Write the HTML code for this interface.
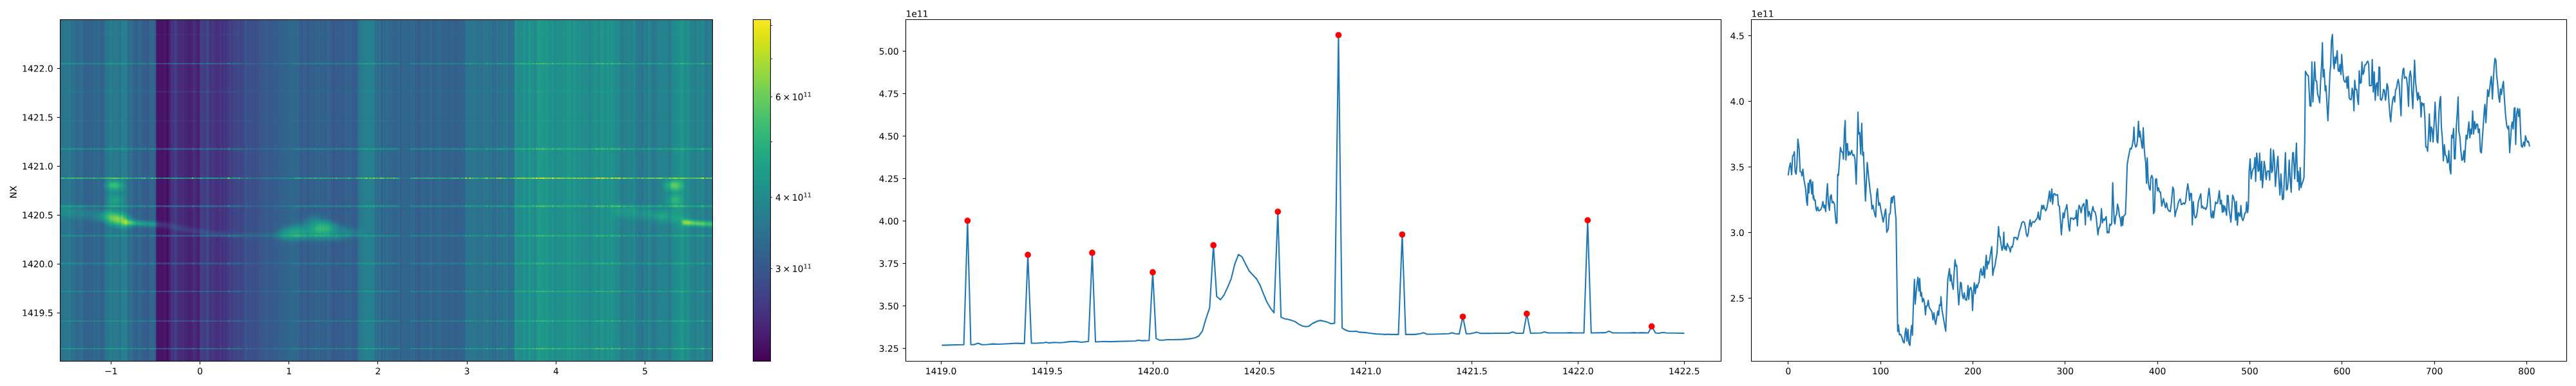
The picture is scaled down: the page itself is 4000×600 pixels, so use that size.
<!DOCTYPE html><html><head><meta charset="utf-8"><title>figure</title><style>html,body{margin:0;padding:0;width:4000px;height:600px;overflow:hidden;background:#fff;font-family:"Liberation Sans",sans-serif}svg{display:block}</style></head><body><svg width="4000" height="600" viewBox="0 0 2880 432" version="1.1"> <title>NX heatmap with colorbar, row profile with peaks, column profile</title><desc>Axis labels: NX; x ticks -1 0 1 2 3 4 5; y ticks 1419.5 1420.0 1420.5 1421.0 1421.5 1422.0; colorbar 3x10^11 4x10^11 6x10^11; 1e11; 1419.0 to 1422.5; 3.25 to 5.00; 0 to 800; 2.5 to 4.5</desc><defs><filter id="vir" x="91.5" y="28.5" width="1017.0" height="535.0" filterUnits="userSpaceOnUse" color-interpolation-filters="sRGB"><feColorMatrix type="matrix" values="1 1 1 0 0 1 1 1 0 0 1 1 1 0 0 0 0 0 1 0"/><feComponentTransfer><feFuncR type="table" tableValues="0.2670 0.2685 0.2699 0.2713 0.2726 0.2738 0.2750 0.2760 0.2770 0.2779 0.2788 0.2796 0.2803 0.2809 0.2814 0.2819 0.2823 0.2827 0.2829 0.2831 0.2832 0.2832 0.2832 0.2831 0.2829 0.2826 0.2823 0.2819 0.2814 0.2809 0.2803 0.2796 0.2788 0.2780 0.2771 0.2762 0.2752 0.2741 0.2730 0.2718 0.2706 0.2693 0.2680 0.2666 0.2651 0.2637 0.2621 0.2606 0.2590 0.2573 0.2556 0.2539 0.2522 0.2504 0.2486 0.2468 0.2450 0.2431 0.2412 0.2393 0.2374 0.2355 0.2336 0.2317 0.2297 0.2278 0.2259 0.2239 0.2220 0.2201 0.2181 0.2162 0.2143 0.2124 0.2105 0.2086 0.2068 0.2049 0.2031 0.2012 0.1994 0.1976 0.1959 0.1941 0.1924 0.1906 0.1889 0.1872 0.1856 0.1839 0.1823 0.1806 0.1790 0.1774 0.1758 0.1743 0.1727 0.1712 0.1696 0.1681 0.1666 0.1651 0.1636 0.1621 0.1607 0.1592 0.1577 0.1563 0.1548 0.1534 0.1519 0.1505 0.1490 0.1476 0.1462 0.1448 0.1433 0.1419 0.1405 0.1391 0.1378 0.1364 0.1351 0.1337 0.1324 0.1312 0.1299 0.1287 0.1276 0.1265 0.1254 0.1244 0.1235 0.1226 0.1218 0.1211 0.1206 0.1201 0.1197 0.1195 0.1194 0.1195 0.1197 0.1201 0.1206 0.1214 0.1223 0.1234 0.1248 0.1263 0.1281 0.1301 0.1323 0.1347 0.1373 0.1402 0.1433 0.1466 0.1501 0.1539 0.1579 0.1620 0.1664 0.1709 0.1757 0.1807 0.1858 0.1911 0.1966 0.2022 0.2080 0.2140 0.2201 0.2264 0.2328 0.2394 0.2461 0.2529 0.2599 0.2669 0.2741 0.2815 0.2889 0.2965 0.3041 0.3119 0.3198 0.3278 0.3359 0.3441 0.3524 0.3607 0.3692 0.3778 0.3864 0.3952 0.4040 0.4129 0.4219 0.4310 0.4401 0.4494 0.4587 0.4681 0.4775 0.4870 0.4966 0.5063 0.5160 0.5258 0.5356 0.5455 0.5555 0.5655 0.5756 0.5857 0.5958 0.6060 0.6163 0.6266 0.6369 0.6473 0.6576 0.6681 0.6785 0.6889 0.6994 0.7099 0.7204 0.7309 0.7414 0.7519 0.7624 0.7729 0.7833 0.7938 0.8042 0.8146 0.8249 0.8353 0.8456 0.8558 0.8660 0.8762 0.8863 0.8963 0.9063 0.9162 0.9261 0.9359 0.9456 0.9553 0.9649 0.9744 0.9839 0.9932"/><feFuncG type="table" tableValues="0.0049 0.0096 0.0146 0.0199 0.0256 0.0315 0.0378 0.0442 0.0503 0.0563 0.0621 0.0678 0.0734 0.0789 0.0843 0.0897 0.0950 0.1002 0.1054 0.1106 0.1157 0.1208 0.1258 0.1309 0.1359 0.1409 0.1459 0.1509 0.1558 0.1608 0.1657 0.1706 0.1755 0.1804 0.1852 0.1901 0.1949 0.1997 0.2045 0.2093 0.2141 0.2188 0.2235 0.2283 0.2330 0.2376 0.2423 0.2469 0.2515 0.2561 0.2607 0.2653 0.2698 0.2743 0.2788 0.2832 0.2877 0.2921 0.2965 0.3009 0.3052 0.3095 0.3138 0.3181 0.3224 0.3266 0.3308 0.3350 0.3392 0.3433 0.3474 0.3515 0.3556 0.3597 0.3637 0.3678 0.3718 0.3757 0.3797 0.3837 0.3876 0.3915 0.3954 0.3993 0.4032 0.4071 0.4109 0.4147 0.4186 0.4224 0.4262 0.4300 0.4338 0.4375 0.4413 0.4450 0.4488 0.4525 0.4563 0.4600 0.4637 0.4674 0.4711 0.4748 0.4785 0.4822 0.4859 0.4896 0.4933 0.4970 0.5007 0.5044 0.5081 0.5117 0.5154 0.5191 0.5228 0.5265 0.5301 0.5338 0.5375 0.5412 0.5449 0.5485 0.5522 0.5559 0.5596 0.5633 0.5669 0.5706 0.5743 0.5780 0.5817 0.5854 0.5891 0.5927 0.5964 0.6001 0.6038 0.6075 0.6111 0.6148 0.6185 0.6222 0.6258 0.6295 0.6332 0.6368 0.6405 0.6441 0.6477 0.6514 0.6550 0.6586 0.6623 0.6659 0.6695 0.6731 0.6766 0.6802 0.6838 0.6873 0.6909 0.6944 0.6979 0.7014 0.7049 0.7084 0.7118 0.7153 0.7187 0.7221 0.7255 0.7289 0.7322 0.7356 0.7389 0.7422 0.7455 0.7488 0.7520 0.7552 0.7584 0.7616 0.7647 0.7678 0.7709 0.7740 0.7770 0.7800 0.7830 0.7860 0.7889 0.7918 0.7946 0.7975 0.8003 0.8030 0.8058 0.8085 0.8111 0.8138 0.8164 0.8189 0.8214 0.8239 0.8264 0.8288 0.8312 0.8335 0.8358 0.8380 0.8403 0.8424 0.8446 0.8467 0.8487 0.8507 0.8527 0.8546 0.8565 0.8584 0.8602 0.8620 0.8637 0.8654 0.8671 0.8688 0.8703 0.8719 0.8734 0.8750 0.8764 0.8779 0.8793 0.8807 0.8820 0.8834 0.8847 0.8860 0.8873 0.8886 0.8899 0.8911 0.8924 0.8936 0.8949 0.8961 0.8973 0.8986 0.8998 0.9011 0.9023 0.9036 0.9049 0.9062"/><feFuncB type="table" tableValues="0.3294 0.3354 0.3414 0.3473 0.3531 0.3589 0.3645 0.3702 0.3757 0.3812 0.3866 0.3919 0.3972 0.4023 0.4074 0.4124 0.4173 0.4222 0.4269 0.4316 0.4361 0.4406 0.4450 0.4492 0.4534 0.4575 0.4615 0.4654 0.4692 0.4729 0.4765 0.4800 0.4834 0.4867 0.4899 0.4930 0.4960 0.4989 0.5017 0.5044 0.5071 0.5096 0.5120 0.5143 0.5166 0.5188 0.5208 0.5228 0.5247 0.5266 0.5283 0.5300 0.5316 0.5331 0.5346 0.5359 0.5373 0.5385 0.5397 0.5408 0.5419 0.5429 0.5439 0.5448 0.5457 0.5465 0.5473 0.5481 0.5488 0.5494 0.5500 0.5506 0.5512 0.5517 0.5522 0.5527 0.5531 0.5535 0.5539 0.5543 0.5546 0.5550 0.5553 0.5556 0.5558 0.5561 0.5563 0.5565 0.5568 0.5569 0.5571 0.5573 0.5574 0.5576 0.5577 0.5578 0.5579 0.5580 0.5580 0.5581 0.5581 0.5581 0.5581 0.5581 0.5581 0.5581 0.5580 0.5579 0.5578 0.5577 0.5576 0.5574 0.5573 0.5570 0.5568 0.5566 0.5563 0.5560 0.5557 0.5553 0.5549 0.5545 0.5540 0.5535 0.5530 0.5525 0.5519 0.5512 0.5506 0.5498 0.5491 0.5483 0.5474 0.5466 0.5456 0.5446 0.5436 0.5425 0.5414 0.5402 0.5390 0.5377 0.5363 0.5349 0.5335 0.5320 0.5304 0.5288 0.5271 0.5253 0.5235 0.5216 0.5197 0.5176 0.5156 0.5134 0.5112 0.5089 0.5066 0.5042 0.5017 0.4991 0.4965 0.4938 0.4910 0.4882 0.4853 0.4823 0.4792 0.4761 0.4729 0.4696 0.4662 0.4628 0.4593 0.4557 0.4520 0.4483 0.4445 0.4406 0.4366 0.4326 0.4284 0.4242 0.4199 0.4156 0.4112 0.4066 0.4020 0.3974 0.3926 0.3878 0.3829 0.3779 0.3729 0.3678 0.3626 0.3573 0.3519 0.3465 0.3410 0.3354 0.3297 0.3240 0.3182 0.3123 0.3064 0.3004 0.2943 0.2881 0.2819 0.2756 0.2693 0.2629 0.2564 0.2499 0.2433 0.2367 0.2301 0.2234 0.2166 0.2099 0.2031 0.1963 0.1895 0.1827 0.1760 0.1693 0.1626 0.1560 0.1496 0.1432 0.1371 0.1311 0.1254 0.1200 0.1150 0.1103 0.1062 0.1026 0.0997 0.0975 0.0960 0.0953 0.0954 0.0963 0.0981 0.1007 0.1041 0.1081 0.1128 0.1181 0.1239 0.1302 0.1369 0.1439"/></feComponentTransfer></filter><clipPath id="hc"><rect x="93.5" y="30.5" width="1013.0" height="531.0"/></clipPath><filter id="b2" color-interpolation-filters="sRGB" filterUnits="userSpaceOnUse" x="0" y="200" width="2100" height="260"><feGaussianBlur stdDeviation="2"/></filter><filter id="b3" color-interpolation-filters="sRGB" filterUnits="userSpaceOnUse" x="0" y="200" width="2100" height="260"><feGaussianBlur stdDeviation="3"/></filter><filter id="b4" color-interpolation-filters="sRGB" filterUnits="userSpaceOnUse" x="0" y="200" width="2100" height="260"><feGaussianBlur stdDeviation="4"/></filter><filter id="b5" color-interpolation-filters="sRGB" filterUnits="userSpaceOnUse" x="0" y="200" width="2100" height="260"><feGaussianBlur stdDeviation="5"/></filter><filter id="b7" color-interpolation-filters="sRGB" filterUnits="userSpaceOnUse" x="0" y="200" width="2100" height="260"><feGaussianBlur stdDeviation="7"/></filter><radialGradient id="g1"><stop offset="0.0" stop-color="#0f0" stop-opacity="0.46"/><stop offset="0.125" stop-color="#0f0" stop-opacity="0.4429"/><stop offset="0.25" stop-color="#0f0" stop-opacity="0.3954"/><stop offset="0.375" stop-color="#0f0" stop-opacity="0.3273"/><stop offset="0.5" stop-color="#0f0" stop-opacity="0.2512"/><stop offset="0.625" stop-color="#0f0" stop-opacity="0.1787"/><stop offset="0.75" stop-color="#0f0" stop-opacity="0.1179"/><stop offset="0.875" stop-color="#0f0" stop-opacity="0.0721"/><stop offset="1.0" stop-color="#0f0" stop-opacity="0.0"/></radialGradient><radialGradient id="g1b"><stop offset="0.0" stop-color="#0f0" stop-opacity="0.06"/><stop offset="0.125" stop-color="#0f0" stop-opacity="0.0578"/><stop offset="0.25" stop-color="#0f0" stop-opacity="0.0516"/><stop offset="0.375" stop-color="#0f0" stop-opacity="0.0427"/><stop offset="0.5" stop-color="#0f0" stop-opacity="0.0328"/><stop offset="0.625" stop-color="#0f0" stop-opacity="0.0233"/><stop offset="0.75" stop-color="#0f0" stop-opacity="0.0154"/><stop offset="0.875" stop-color="#0f0" stop-opacity="0.0094"/><stop offset="1.0" stop-color="#0f0" stop-opacity="0.0"/></radialGradient><radialGradient id="g5"><stop offset="0.0" stop-color="#0f0" stop-opacity="0.1"/><stop offset="0.125" stop-color="#0f0" stop-opacity="0.0963"/><stop offset="0.25" stop-color="#0f0" stop-opacity="0.086"/><stop offset="0.375" stop-color="#0f0" stop-opacity="0.0712"/><stop offset="0.5" stop-color="#0f0" stop-opacity="0.0546"/><stop offset="0.625" stop-color="#0f0" stop-opacity="0.0389"/><stop offset="0.75" stop-color="#0f0" stop-opacity="0.0256"/><stop offset="0.875" stop-color="#0f0" stop-opacity="0.0157"/><stop offset="1.0" stop-color="#0f0" stop-opacity="0.0"/></radialGradient><radialGradient id="g2"><stop offset="0.0" stop-color="#0f0" stop-opacity="0.24"/><stop offset="0.125" stop-color="#0f0" stop-opacity="0.2311"/><stop offset="0.25" stop-color="#0f0" stop-opacity="0.2063"/><stop offset="0.375" stop-color="#0f0" stop-opacity="0.1708"/><stop offset="0.5" stop-color="#0f0" stop-opacity="0.1311"/><stop offset="0.625" stop-color="#0f0" stop-opacity="0.0933"/><stop offset="0.75" stop-color="#0f0" stop-opacity="0.0615"/><stop offset="0.875" stop-color="#0f0" stop-opacity="0.0376"/><stop offset="1.0" stop-color="#0f0" stop-opacity="0.0"/></radialGradient><radialGradient id="g3"><stop offset="0.0" stop-color="#0f0" stop-opacity="0.25"/><stop offset="0.125" stop-color="#0f0" stop-opacity="0.2407"/><stop offset="0.25" stop-color="#0f0" stop-opacity="0.2149"/><stop offset="0.375" stop-color="#0f0" stop-opacity="0.1779"/><stop offset="0.5" stop-color="#0f0" stop-opacity="0.1365"/><stop offset="0.625" stop-color="#0f0" stop-opacity="0.0971"/><stop offset="0.75" stop-color="#0f0" stop-opacity="0.0641"/><stop offset="0.875" stop-color="#0f0" stop-opacity="0.0392"/><stop offset="1.0" stop-color="#0f0" stop-opacity="0.0"/></radialGradient><radialGradient id="g4"><stop offset="0.0" stop-color="#0f0" stop-opacity="0.13"/><stop offset="0.125" stop-color="#0f0" stop-opacity="0.1252"/><stop offset="0.25" stop-color="#0f0" stop-opacity="0.1118"/><stop offset="0.375" stop-color="#0f0" stop-opacity="0.0925"/><stop offset="0.5" stop-color="#0f0" stop-opacity="0.071"/><stop offset="0.625" stop-color="#0f0" stop-opacity="0.0505"/><stop offset="0.75" stop-color="#0f0" stop-opacity="0.0333"/><stop offset="0.875" stop-color="#0f0" stop-opacity="0.0204"/><stop offset="1.0" stop-color="#0f0" stop-opacity="0.0"/></radialGradient><g id="ln" shape-rendering="crispEdges"><rect x="93.50" y="0" width="1013.00" height="1" fill="#00004d"/><rect x="96.02" y="0" width="1010.48" height="1" fill="#000044"/><rect x="97.28" y="0" width="1009.22" height="1" fill="#00005a"/><rect x="98.54" y="0" width="1007.96" height="1" fill="#00004f"/><rect x="99.80" y="0" width="1006.70" height="1" fill="#00003e"/><rect x="101.06" y="0" width="1005.44" height="1" fill="#000039"/><rect x="102.32" y="0" width="1004.18" height="1" fill="#000039"/><rect x="104.84" y="0" width="1001.66" height="1" fill="#000069"/><rect x="106.10" y="0" width="1000.40" height="1" fill="#00002e"/><rect x="107.36" y="0" width="999.14" height="1" fill="#00004b"/><rect x="109.88" y="0" width="996.62" height="1" fill="#00004b"/><rect x="111.14" y="0" width="995.36" height="1" fill="#000056"/><rect x="113.66" y="0" width="992.84" height="1" fill="#000054"/><rect x="114.92" y="0" width="991.58" height="1" fill="#00004b"/><rect x="116.18" y="0" width="990.32" height="1" fill="#00004a"/><rect x="118.70" y="0" width="987.80" height="1" fill="#000054"/><rect x="119.96" y="0" width="986.54" height="1" fill="#000062"/><rect x="122.48" y="0" width="984.02" height="1" fill="#00004a"/><rect x="123.74" y="0" width="982.76" height="1" fill="#000052"/><rect x="125.00" y="0" width="981.50" height="1" fill="#00005b"/><rect x="127.52" y="0" width="978.98" height="1" fill="#000043"/><rect x="130.04" y="0" width="976.46" height="1" fill="#000042"/><rect x="131.30" y="0" width="975.20" height="1" fill="#000057"/><rect x="132.56" y="0" width="973.94" height="1" fill="#000051"/><rect x="135.08" y="0" width="971.42" height="1" fill="#000048"/><rect x="137.60" y="0" width="968.90" height="1" fill="#000045"/><rect x="140.12" y="0" width="966.38" height="1" fill="#00005c"/><rect x="141.38" y="0" width="965.12" height="1" fill="#00004e"/><rect x="142.64" y="0" width="963.86" height="1" fill="#00003b"/><rect x="145.16" y="0" width="961.34" height="1" fill="#000083"/><rect x="146.42" y="0" width="960.08" height="1" fill="#000045"/><rect x="147.68" y="0" width="958.82" height="1" fill="#000050"/><rect x="150.20" y="0" width="956.30" height="1" fill="#000034"/><rect x="151.46" y="0" width="955.04" height="1" fill="#00003e"/><rect x="153.98" y="0" width="952.52" height="1" fill="#00003f"/><rect x="156.50" y="0" width="950.00" height="1" fill="#00004f"/><rect x="159.02" y="0" width="947.48" height="1" fill="#000052"/><rect x="161.54" y="0" width="944.96" height="1" fill="#000048"/><rect x="164.06" y="0" width="942.44" height="1" fill="#00004c"/><rect x="166.58" y="0" width="939.92" height="1" fill="#00004c"/><rect x="169.10" y="0" width="937.40" height="1" fill="#000048"/><rect x="171.62" y="0" width="934.88" height="1" fill="#00004e"/><rect x="172.88" y="0" width="933.62" height="1" fill="#000034"/><rect x="174.14" y="0" width="932.36" height="1" fill="#000053"/><rect x="175.40" y="0" width="931.10" height="1" fill="#000059"/><rect x="177.92" y="0" width="928.58" height="1" fill="#000046"/><rect x="179.18" y="0" width="927.32" height="1" fill="#000057"/><rect x="181.70" y="0" width="924.80" height="1" fill="#00003f"/><rect x="184.22" y="0" width="922.28" height="1" fill="#000059"/><rect x="185.48" y="0" width="921.02" height="1" fill="#000049"/><rect x="188.00" y="0" width="918.50" height="1" fill="#000042"/><rect x="190.52" y="0" width="915.98" height="1" fill="#000045"/><rect x="193.04" y="0" width="913.46" height="1" fill="#00003f"/><rect x="194.30" y="0" width="912.20" height="1" fill="#00003c"/><rect x="196.82" y="0" width="909.68" height="1" fill="#00005b"/><rect x="199.34" y="0" width="907.16" height="1" fill="#000041"/><rect x="201.86" y="0" width="904.64" height="1" fill="#000049"/><rect x="203.12" y="0" width="903.38" height="1" fill="#00004f"/><rect x="204.38" y="0" width="902.12" height="1" fill="#00003c"/><rect x="206.90" y="0" width="899.60" height="1" fill="#000043"/><rect x="208.16" y="0" width="898.34" height="1" fill="#000044"/><rect x="210.68" y="0" width="895.82" height="1" fill="#000070"/><rect x="211.94" y="0" width="894.56" height="1" fill="#000052"/><rect x="213.20" y="0" width="893.30" height="1" fill="#000038"/><rect x="214.46" y="0" width="892.04" height="1" fill="#000047"/><rect x="216.98" y="0" width="889.52" height="1" fill="#000053"/><rect x="219.50" y="0" width="887.00" height="1" fill="#00005c"/><rect x="222.01" y="0" width="884.49" height="1" fill="#00004f"/><rect x="223.27" y="0" width="883.23" height="1" fill="#000072"/><rect x="225.79" y="0" width="880.71" height="1" fill="#00003d"/><rect x="227.05" y="0" width="879.45" height="1" fill="#000035"/><rect x="229.57" y="0" width="876.93" height="1" fill="#00004a"/><rect x="232.09" y="0" width="874.41" height="1" fill="#00003f"/><rect x="234.61" y="0" width="871.89" height="1" fill="#00007c"/><rect x="237.13" y="0" width="869.37" height="1" fill="#00004e"/><rect x="239.65" y="0" width="866.85" height="1" fill="#00003d"/><rect x="240.91" y="0" width="865.59" height="1" fill="#00007c"/><rect x="243.43" y="0" width="863.07" height="1" fill="#000049"/><rect x="244.69" y="0" width="861.81" height="1" fill="#00005f"/><rect x="245.95" y="0" width="860.55" height="1" fill="#00006b"/><rect x="248.47" y="0" width="858.03" height="1" fill="#00005a"/><rect x="249.73" y="0" width="856.77" height="1" fill="#00003c"/><rect x="250.99" y="0" width="855.51" height="1" fill="#00003c"/><rect x="252.25" y="0" width="854.25" height="1" fill="#000060"/><rect x="253.51" y="0" width="852.99" height="1" fill="#000071"/><rect x="254.77" y="0" width="851.73" height="1" fill="#00005e"/><rect x="256.03" y="0" width="850.47" height="1" fill="#000068"/><rect x="257.29" y="0" width="849.21" height="1" fill="#000067"/><rect x="258.55" y="0" width="847.95" height="1" fill="#00004b"/><rect x="259.81" y="0" width="846.69" height="1" fill="#0000a4"/><rect x="261.07" y="0" width="845.43" height="1" fill="#00006b"/><rect x="263.59" y="0" width="842.91" height="1" fill="#000063"/><rect x="264.85" y="0" width="841.65" height="1" fill="#00004e"/><rect x="267.37" y="0" width="839.13" height="1" fill="#000072"/><rect x="268.63" y="0" width="837.87" height="1" fill="#000078"/><rect x="269.89" y="0" width="836.61" height="1" fill="#000042"/><rect x="272.41" y="0" width="834.09" height="1" fill="#00006e"/><rect x="274.93" y="0" width="831.57" height="1" fill="#000063"/><rect x="276.19" y="0" width="830.31" height="1" fill="#000060"/><rect x="278.71" y="0" width="827.79" height="1" fill="#00005e"/><rect x="279.97" y="0" width="826.53" height="1" fill="#000079"/><rect x="281.23" y="0" width="825.27" height="1" fill="#00005a"/><rect x="282.49" y="0" width="824.01" height="1" fill="#00006d"/><rect x="283.75" y="0" width="822.75" height="1" fill="#00005c"/><rect x="285.01" y="0" width="821.49" height="1" fill="#00005b"/><rect x="287.53" y="0" width="818.97" height="1" fill="#000053"/><rect x="290.05" y="0" width="816.45" height="1" fill="#000078"/><rect x="291.31" y="0" width="815.19" height="1" fill="#000055"/><rect x="292.57" y="0" width="813.93" height="1" fill="#00004f"/><rect x="295.09" y="0" width="811.41" height="1" fill="#00009a"/><rect x="296.35" y="0" width="810.15" height="1" fill="#00004b"/><rect x="297.61" y="0" width="808.89" height="1" fill="#0000af"/><rect x="300.13" y="0" width="806.37" height="1" fill="#000068"/><rect x="302.65" y="0" width="803.85" height="1" fill="#000056"/><rect x="303.91" y="0" width="802.59" height="1" fill="#000060"/><rect x="305.17" y="0" width="801.33" height="1" fill="#000050"/><rect x="306.43" y="0" width="800.07" height="1" fill="#000064"/><rect x="307.69" y="0" width="798.81" height="1" fill="#000064"/><rect x="308.95" y="0" width="797.55" height="1" fill="#000062"/><rect x="311.47" y="0" width="795.03" height="1" fill="#00007d"/><rect x="313.99" y="0" width="792.51" height="1" fill="#000044"/><rect x="315.25" y="0" width="791.25" height="1" fill="#000049"/><rect x="317.77" y="0" width="788.73" height="1" fill="#00005d"/><rect x="319.03" y="0" width="787.47" height="1" fill="#000054"/><rect x="321.55" y="0" width="784.95" height="1" fill="#000063"/><rect x="322.81" y="0" width="783.69" height="1" fill="#00005e"/><rect x="324.07" y="0" width="782.43" height="1" fill="#000061"/><rect x="326.59" y="0" width="779.91" height="1" fill="#000070"/><rect x="329.11" y="0" width="777.39" height="1" fill="#000067"/><rect x="330.37" y="0" width="776.13" height="1" fill="#00005a"/><rect x="331.63" y="0" width="774.87" height="1" fill="#00006c"/><rect x="332.89" y="0" width="773.61" height="1" fill="#00006f"/><rect x="334.15" y="0" width="772.35" height="1" fill="#000062"/><rect x="335.41" y="0" width="771.09" height="1" fill="#000070"/><rect x="337.93" y="0" width="768.57" height="1" fill="#000050"/><rect x="340.45" y="0" width="766.05" height="1" fill="#000041"/><rect x="342.97" y="0" width="763.53" height="1" fill="#000075"/><rect x="345.49" y="0" width="761.01" height="1" fill="#00004d"/><rect x="348.01" y="0" width="758.49" height="1" fill="#000079"/><rect x="349.27" y="0" width="757.23" height="1" fill="#000044"/><rect x="350.53" y="0" width="755.97" height="1" fill="#00004b"/><rect x="353.05" y="0" width="753.45" height="1" fill="#000099"/><rect x="354.31" y="0" width="752.19" height="1" fill="#00009f"/><rect x="356.83" y="0" width="749.67" height="1" fill="#00004a"/><rect x="358.09" y="0" width="748.41" height="1" fill="#000047"/><rect x="359.35" y="0" width="747.15" height="1" fill="#00004f"/><rect x="361.87" y="0" width="744.63" height="1" fill="#000077"/><rect x="363.13" y="0" width="743.37" height="1" fill="#00005b"/><rect x="365.65" y="0" width="740.85" height="1" fill="#00005d"/><rect x="366.91" y="0" width="739.59" height="1" fill="#00004e"/><rect x="368.17" y="0" width="738.33" height="1" fill="#00006e"/><rect x="369.43" y="0" width="737.07" height="1" fill="#000044"/><rect x="370.69" y="0" width="735.81" height="1" fill="#000097"/><rect x="371.95" y="0" width="734.55" height="1" fill="#000047"/><rect x="374.47" y="0" width="732.03" height="1" fill="#00004d"/><rect x="376.99" y="0" width="729.51" height="1" fill="#000023"/><rect x="378.25" y="0" width="728.25" height="1" fill="#00002b"/><rect x="379.51" y="0" width="726.99" height="1" fill="#000020"/><rect x="380.77" y="0" width="725.73" height="1" fill="#000026"/><rect x="382.03" y="0" width="724.47" height="1" fill="#000029"/><rect x="383.29" y="0" width="723.21" height="1" fill="#000048"/><rect x="384.55" y="0" width="721.95" height="1" fill="#000021"/><rect x="385.81" y="0" width="720.69" height="1" fill="#00002e"/><rect x="387.07" y="0" width="719.43" height="1" fill="#000026"/><rect x="388.33" y="0" width="718.17" height="1" fill="#00002c"/><rect x="389.59" y="0" width="716.91" height="1" fill="#000021"/><rect x="390.85" y="0" width="715.65" height="1" fill="#000022"/><rect x="392.11" y="0" width="714.39" height="1" fill="#000026"/><rect x="393.37" y="0" width="713.13" height="1" fill="#000026"/><rect x="394.63" y="0" width="711.87" height="1" fill="#000028"/><rect x="397.15" y="0" width="709.35" height="1" fill="#000028"/><rect x="398.41" y="0" width="708.09" height="1" fill="#000027"/><rect x="400.93" y="0" width="705.57" height="1" fill="#000024"/><rect x="402.19" y="0" width="704.31" height="1" fill="#000021"/><rect x="404.71" y="0" width="701.79" height="1" fill="#00002a"/><rect x="405.97" y="0" width="700.53" height="1" fill="#000022"/><rect x="407.23" y="0" width="699.27" height="1" fill="#00002a"/><rect x="409.75" y="0" width="696.75" height="1" fill="#000029"/><rect x="411.01" y="0" width="695.49" height="1" fill="#000026"/><rect x="412.27" y="0" width="694.23" height="1" fill="#000029"/><rect x="414.79" y="0" width="691.71" height="1" fill="#000026"/><rect x="416.05" y="0" width="690.45" height="1" fill="#000024"/><rect x="417.31" y="0" width="689.19" height="1" fill="#00002a"/><rect x="418.57" y="0" width="687.93" height="1" fill="#000027"/><rect x="419.83" y="0" width="686.67" height="1" fill="#00001d"/><rect x="421.09" y="0" width="685.41" height="1" fill="#00002a"/><rect x="422.35" y="0" width="684.15" height="1" fill="#000026"/><rect x="424.87" y="0" width="681.63" height="1" fill="#00002a"/><rect x="426.13" y="0" width="680.37" height="1" fill="#000030"/><rect x="428.65" y="0" width="677.85" height="1" fill="#00001e"/><rect x="431.17" y="0" width="675.33" height="1" fill="#000019"/><rect x="432.43" y="0" width="674.07" height="1" fill="#00001f"/><rect x="434.95" y="0" width="671.55" height="1" fill="#000026"/><rect x="437.47" y="0" width="669.03" height="1" fill="#000033"/><rect x="439.99" y="0" width="666.51" height="1" fill="#000020"/><rect x="441.25" y="0" width="665.25" height="1" fill="#00002b"/><rect x="442.51" y="0" width="663.99" height="1" fill="#000023"/><rect x="443.77" y="0" width="662.73" height="1" fill="#00002c"/><rect x="445.03" y="0" width="661.47" height="1" fill="#000026"/><rect x="447.55" y="0" width="658.95" height="1" fill="#00001d"/><rect x="450.07" y="0" width="656.43" height="1" fill="#00002a"/><rect x="451.33" y="0" width="655.17" height="1" fill="#000024"/><rect x="452.59" y="0" width="653.91" height="1" fill="#000026"/><rect x="453.85" y="0" width="652.65" height="1" fill="#000024"/><rect x="455.11" y="0" width="651.39" height="1" fill="#00002e"/><rect x="457.63" y="0" width="648.87" height="1" fill="#000052"/><rect x="458.89" y="0" width="647.61" height="1" fill="#00004d"/><rect x="460.15" y="0" width="646.35" height="1" fill="#000043"/><rect x="462.67" y="0" width="643.83" height="1" fill="#000061"/><rect x="463.93" y="0" width="642.57" height="1" fill="#00004c"/><rect x="466.45" y="0" width="640.05" height="1" fill="#00005b"/><rect x="467.71" y="0" width="638.79" height="1" fill="#000047"/><rect x="468.97" y="0" width="637.53" height="1" fill="#000037"/><rect x="471.49" y="0" width="635.01" height="1" fill="#000041"/><rect x="472.75" y="0" width="633.75" height="1" fill="#00004f"/><rect x="474.00" y="0" width="632.50" height="1" fill="#000056"/><rect x="475.26" y="0" width="631.24" height="1" fill="#00003e"/><rect x="476.52" y="0" width="629.98" height="1" fill="#000041"/><rect x="477.78" y="0" width="628.72" height="1" fill="#00003e"/><rect x="479.04" y="0" width="627.46" height="1" fill="#000054"/><rect x="480.30" y="0" width="626.20" height="1" fill="#000058"/><rect x="481.56" y="0" width="624.94" height="1" fill="#00004a"/><rect x="484.08" y="0" width="622.42" height="1" fill="#000070"/><rect x="485.34" y="0" width="621.16" height="1" fill="#00003f"/><rect x="487.86" y="0" width="618.64" height="1" fill="#000074"/><rect x="490.38" y="0" width="616.12" height="1" fill="#000051"/><rect x="491.64" y="0" width="614.86" height="1" fill="#00003e"/><rect x="494.16" y="0" width="612.34" height="1" fill="#000057"/><rect x="495.42" y="0" width="611.08" height="1" fill="#000045"/><rect x="496.68" y="0" width="609.82" height="1" fill="#000036"/><rect x="497.94" y="0" width="608.56" height="1" fill="#000068"/><rect x="499.20" y="0" width="607.30" height="1" fill="#000052"/><rect x="500.46" y="0" width="606.04" height="1" fill="#000045"/><rect x="501.72" y="0" width="604.78" height="1" fill="#000051"/><rect x="502.98" y="0" width="603.52" height="1" fill="#00005e"/><rect x="504.24" y="0" width="602.26" height="1" fill="#000030"/><rect x="505.50" y="0" width="601.00" height="1" fill="#00004f"/><rect x="508.02" y="0" width="598.48" height="1" fill="#000034"/><rect x="509.28" y="0" width="597.22" height="1" fill="#000045"/><rect x="510.54" y="0" width="595.96" height="1" fill="#00002e"/><rect x="511.80" y="0" width="594.70" height="1" fill="#000057"/><rect x="513.06" y="0" width="593.44" height="1" fill="#000033"/><rect x="515.58" y="0" width="590.92" height="1" fill="#000083"/><rect x="516.84" y="0" width="589.66" height="1" fill="#000037"/><rect x="518.10" y="0" width="588.40" height="1" fill="#000045"/><rect x="519.36" y="0" width="587.14" height="1" fill="#000042"/><rect x="520.62" y="0" width="585.88" height="1" fill="#000060"/><rect x="521.88" y="0" width="584.62" height="1" fill="#000072"/><rect x="523.14" y="0" width="583.36" height="1" fill="#000048"/><rect x="525.66" y="0" width="580.84" height="1" fill="#000044"/><rect x="528.18" y="0" width="578.32" height="1" fill="#000045"/><rect x="530.70" y="0" width="575.80" height="1" fill="#000046"/><rect x="531.96" y="0" width="574.54" height="1" fill="#00003b"/><rect x="534.48" y="0" width="572.02" height="1" fill="#00004c"/><rect x="537.00" y="0" width="569.50" height="1" fill="#000041"/><rect x="539.52" y="0" width="566.98" height="1" fill="#000072"/><rect x="542.04" y="0" width="564.46" height="1" fill="#000051"/><rect x="544.56" y="0" width="561.94" height="1" fill="#000036"/><rect x="547.08" y="0" width="559.42" height="1" fill="#000041"/><rect x="548.34" y="0" width="558.16" height="1" fill="#000030"/><rect x="550.86" y="0" width="555.64" height="1" fill="#000041"/><rect x="553.38" y="0" width="553.12" height="1" fill="#00005d"/><rect x="555.90" y="0" width="550.60" height="1" fill="#000040"/><rect x="557.16" y="0" width="549.34" height="1" fill="#00004f"/><rect x="558.42" y="0" width="548.08" height="1" fill="#000049"/><rect x="559.68" y="0" width="546.82" height="1" fill="#000048"/><rect x="560.94" y="0" width="545.56" height="1" fill="#000051"/><rect x="562.20" y="0" width="544.30" height="1" fill="#00004e"/><rect x="563.46" y="0" width="543.04" height="1" fill="#000037"/><rect x="564.72" y="0" width="541.78" height="1" fill="#00004c"/><rect x="565.98" y="0" width="540.52" height="1" fill="#00004a"/><rect x="567.24" y="0" width="539.26" height="1" fill="#000046"/><rect x="568.50" y="0" width="538.00" height="1" fill="#000074"/><rect x="569.76" y="0" width="536.74" height="1" fill="#000049"/><rect x="571.02" y="0" width="535.48" height="1" fill="#00003d"/><rect x="573.54" y="0" width="532.96" height="1" fill="#000053"/><rect x="576.06" y="0" width="530.44" height="1" fill="#000049"/><rect x="577.32" y="0" width="529.18" height="1" fill="#000043"/><rect x="579.84" y="0" width="526.66" height="1" fill="#000078"/><rect x="582.36" y="0" width="524.14" height="1" fill="#000043"/><rect x="584.88" y="0" width="521.62" height="1" fill="#000079"/><rect x="586.14" y="0" width="520.36" height="1" fill="#00003b"/><rect x="587.40" y="0" width="519.10" height="1" fill="#00004c"/><rect x="588.66" y="0" width="517.84" height="1" fill="#000055"/><rect x="589.92" y="0" width="516.58" height="1" fill="#000068"/><rect x="591.18" y="0" width="515.32" height="1" fill="#000072"/><rect x="593.70" y="0" width="512.80" height="1" fill="#00006c"/><rect x="594.96" y="0" width="511.54" height="1" fill="#000059"/><rect x="597.48" y="0" width="509.02" height="1" fill="#00003c"/><rect x="600.00" y="0" width="506.50" height="1" fill="#000053"/><rect x="601.26" y="0" width="505.24" height="1" fill="#00005f"/><rect x="602.52" y="0" width="503.98" height="1" fill="#00004f"/><rect x="603.78" y="0" width="502.72" height="1" fill="#00004d"/><rect x="606.30" y="0" width="500.20" height="1" fill="#00006c"/><rect x="607.56" y="0" width="498.94" height="1" fill="#00003d"/><rect x="610.08" y="0" width="496.42" height="1" fill="#000082"/><rect x="611.34" y="0" width="495.16" height="1" fill="#000066"/><rect x="613.86" y="0" width="492.64" height="1" fill="#000052"/><rect x="615.12" y="0" width="491.38" height="1" fill="#00005c"/><rect x="616.38" y="0" width="490.12" height="1" fill="#000049"/><rect x="618.90" y="0" width="487.60" height="1" fill="#000041"/><rect x="621.42" y="0" width="485.08" height="1" fill="#00000c"/><rect x="623.94" y="0" width="482.56" height="1" fill="#00000c"/><rect x="626.46" y="0" width="480.04" height="1" fill="#00000c"/><rect x="627.72" y="0" width="478.78" height="1" fill="#00000c"/><rect x="630.24" y="0" width="476.26" height="1" fill="#00000c"/><rect x="632.76" y="0" width="473.74" height="1" fill="#00000c"/><rect x="634.02" y="0" width="472.48" height="1" fill="#00000c"/><rect x="635.28" y="0" width="471.22" height="1" fill="#00000c"/><rect x="636.54" y="0" width="469.96" height="1" fill="#00004e"/><rect x="639.06" y="0" width="467.44" height="1" fill="#000043"/><rect x="640.32" y="0" width="466.18" height="1" fill="#000042"/><rect x="641.58" y="0" width="464.92" height="1" fill="#00004c"/><rect x="642.84" y="0" width="463.66" height="1" fill="#000050"/><rect x="644.10" y="0" width="462.40" height="1" fill="#000053"/><rect x="645.36" y="0" width="461.14" height="1" fill="#00005e"/><rect x="647.88" y="0" width="458.62" height="1" fill="#000051"/><rect x="650.40" y="0" width="456.10" height="1" fill="#000048"/><rect x="651.66" y="0" width="454.84" height="1" fill="#000048"/><rect x="652.92" y="0" width="453.58" height="1" fill="#000051"/><rect x="654.18" y="0" width="452.32" height="1" fill="#000046"/><rect x="656.70" y="0" width="449.80" height="1" fill="#00003e"/><rect x="657.96" y="0" width="448.54" height="1" fill="#000049"/><rect x="660.48" y="0" width="446.02" height="1" fill="#000056"/><rect x="661.74" y="0" width="444.76" height="1" fill="#000049"/><rect x="663.00" y="0" width="443.50" height="1" fill="#000056"/><rect x="665.52" y="0" width="440.98" height="1" fill="#000047"/><rect x="666.78" y="0" width="439.72" height="1" fill="#000056"/><rect x="668.04" y="0" width="438.46" height="1" fill="#00003f"/><rect x="669.30" y="0" width="437.20" height="1" fill="#000044"/><rect x="670.56" y="0" width="435.94" height="1" fill="#00005f"/><rect x="673.08" y="0" width="433.42" height="1" fill="#000044"/><rect x="674.34" y="0" width="432.16" height="1" fill="#00004a"/><rect x="675.60" y="0" width="430.90" height="1" fill="#000046"/><rect x="676.86" y="0" width="429.64" height="1" fill="#000040"/><rect x="678.12" y="0" width="428.38" height="1" fill="#00004d"/><rect x="679.38" y="0" width="427.12" height="1" fill="#00003c"/><rect x="680.64" y="0" width="425.86" height="1" fill="#00005d"/><rect x="681.90" y="0" width="424.60" height="1" fill="#000038"/><rect x="684.42" y="0" width="422.08" height="1" fill="#000048"/><rect x="685.68" y="0" width="420.82" height="1" fill="#00004c"/><rect x="688.20" y="0" width="418.30" height="1" fill="#000050"/><rect x="689.46" y="0" width="417.04" height="1" fill="#000049"/><rect x="691.98" y="0" width="414.52" height="1" fill="#000046"/><rect x="694.50" y="0" width="412.00" height="1" fill="#00003f"/><rect x="697.02" y="0" width="409.48" height="1" fill="#00004b"/><rect x="699.54" y="0" width="406.96" height="1" fill="#00003c"/><rect x="700.80" y="0" width="405.70" height="1" fill="#000056"/><rect x="703.32" y="0" width="403.18" height="1" fill="#000054"/><rect x="704.58" y="0" width="401.92" height="1" fill="#00003b"/><rect x="705.84" y="0" width="400.66" height="1" fill="#000079"/><rect x="707.10" y="0" width="399.40" height="1" fill="#000060"/><rect x="708.36" y="0" width="398.14" height="1" fill="#000054"/><rect x="710.88" y="0" width="395.62" height="1" fill="#000073"/><rect x="712.14" y="0" width="394.36" height="1" fill="#00002e"/><rect x="714.66" y="0" width="391.84" height="1" fill="#000046"/><rect x="717.18" y="0" width="389.32" height="1" fill="#00006c"/><rect x="718.44" y="0" width="388.06" height="1" fill="#000040"/><rect x="720.96" y="0" width="385.54" height="1" fill="#00003e"/><rect x="722.22" y="0" width="384.28" height="1" fill="#00007a"/><rect x="724.74" y="0" width="381.76" height="1" fill="#000037"/><rect x="727.25" y="0" width="379.25" height="1" fill="#000053"/><rect x="728.51" y="0" width="377.99" height="1" fill="#00007e"/><rect x="731.03" y="0" width="375.47" height="1" fill="#000044"/><rect x="732.29" y="0" width="374.21" height="1" fill="#000049"/><rect x="733.55" y="0" width="372.95" height="1" fill="#000056"/><rect x="734.81" y="0" width="371.69" height="1" fill="#00004e"/><rect x="737.33" y="0" width="369.17" height="1" fill="#000045"/><rect x="739.85" y="0" width="366.65" height="1" fill="#00005a"/><rect x="741.11" y="0" width="365.39" height="1" fill="#000043"/><rect x="742.37" y="0" width="364.13" height="1" fill="#000040"/><rect x="743.63" y="0" width="362.87" height="1" fill="#00002e"/><rect x="746.15" y="0" width="360.35" height="1" fill="#000049"/><rect x="748.67" y="0" width="357.83" height="1" fill="#000039"/><rect x="749.93" y="0" width="356.57" height="1" fill="#00004d"/><rect x="752.45" y="0" width="354.05" height="1" fill="#000056"/><rect x="754.97" y="0" width="351.53" height="1" fill="#000080"/><rect x="757.49" y="0" width="349.01" height="1" fill="#00003c"/><rect x="758.75" y="0" width="347.75" height="1" fill="#000048"/><rect x="760.01" y="0" width="346.49" height="1" fill="#00003f"/><rect x="761.27" y="0" width="345.23" height="1" fill="#00004f"/><rect x="763.79" y="0" width="342.71" height="1" fill="#00003f"/><rect x="765.05" y="0" width="341.45" height="1" fill="#000050"/><rect x="767.57" y="0" width="338.93" height="1" fill="#000045"/><rect x="770.09" y="0" width="336.41" height="1" fill="#000042"/><rect x="771.35" y="0" width="335.15" height="1" fill="#00007e"/><rect x="772.61" y="0" width="333.89" height="1" fill="#00004c"/><rect x="773.87" y="0" width="332.63" height="1" fill="#000074"/><rect x="776.39" y="0" width="330.11" height="1" fill="#00007e"/><rect x="778.91" y="0" width="327.59" height="1" fill="#000051"/><rect x="781.43" y="0" width="325.07" height="1" fill="#000055"/><rect x="783.95" y="0" width="322.55" height="1" fill="#00005a"/><rect x="785.21" y="0" width="321.29" height="1" fill="#000053"/><rect x="786.47" y="0" width="320.03" height="1" fill="#000043"/><rect x="787.73" y="0" width="318.77" height="1" fill="#000042"/><rect x="790.25" y="0" width="316.25" height="1" fill="#000049"/><rect x="791.51" y="0" width="314.99" height="1" fill="#000048"/><rect x="792.77" y="0" width="313.73" height="1" fill="#00004e"/><rect x="794.03" y="0" width="312.47" height="1" fill="#000051"/><rect x="795.29" y="0" width="311.21" height="1" fill="#000049"/><rect x="796.55" y="0" width="309.95" height="1" fill="#00006f"/><rect x="799.07" y="0" width="307.43" height="1" fill="#000036"/><rect x="801.59" y="0" width="304.91" height="1" fill="#000045"/><rect x="802.85" y="0" width="303.65" height="1" fill="#00004d"/><rect x="804.11" y="0" width="302.39" height="1" fill="#000058"/><rect x="806.63" y="0" width="299.87" height="1" fill="#000051"/><rect x="807.89" y="0" width="298.61" height="1" fill="#00004d"/><rect x="809.15" y="0" width="297.35" height="1" fill="#000045"/><rect x="810.41" y="0" width="296.09" height="1" fill="#000051"/><rect x="812.93" y="0" width="293.57" height="1" fill="#000056"/><rect x="815.45" y="0" width="291.05" height="1" fill="#000041"/><rect x="816.71" y="0" width="289.79" height="1" fill="#00004c"/><rect x="817.97" y="0" width="288.53" height="1" fill="#00003b"/><rect x="819.23" y="0" width="287.27" height="1" fill="#00003a"/><rect x="820.49" y="0" width="286.01" height="1" fill="#000040"/><rect x="821.75" y="0" width="284.75" height="1" fill="#00003e"/><rect x="824.27" y="0" width="282.23" height="1" fill="#000041"/><rect x="826.79" y="0" width="279.71" height="1" fill="#00006c"/><rect x="829.31" y="0" width="277.19" height="1" fill="#000049"/><rect x="831.83" y="0" width="274.67" height="1" fill="#000080"/><rect x="834.35" y="0" width="272.15" height="1" fill="#000043"/><rect x="836.87" y="0" width="269.63" height="1" fill="#00005a"/><rect x="839.39" y="0" width="267.11" height="1" fill="#00005c"/><rect x="840.65" y="0" width="265.85" height="1" fill="#00003b"/><rect x="841.91" y="0" width="264.59" height="1" fill="#000079"/><rect x="844.43" y="0" width="262.07" height="1" fill="#000056"/><rect x="846.95" y="0" width="259.55" height="1" fill="#00004a"/><rect x="848.21" y="0" width="258.29" height="1" fill="#000049"/><rect x="850.73" y="0" width="255.77" height="1" fill="#00004c"/><rect x="851.99" y="0" width="254.51" height="1" fill="#000054"/><rect x="854.51" y="0" width="251.99" height="1" fill="#000036"/><rect x="857.03" y="0" width="249.47" height="1" fill="#000077"/><rect x="858.29" y="0" width="248.21" height="1" fill="#00007c"/><rect x="859.55" y="0" width="246.95" height="1" fill="#000038"/><rect x="862.07" y="0" width="244.43" height="1" fill="#00004a"/><rect x="864.59" y="0" width="241.91" height="1" fill="#000054"/><rect x="865.85" y="0" width="240.65" height="1" fill="#000059"/><rect x="867.11" y="0" width="239.39" height="1" fill="#00005a"/><rect x="869.63" y="0" width="236.87" height="1" fill="#00004d"/><rect x="872.15" y="0" width="234.35" height="1" fill="#00004e"/><rect x="873.41" y="0" width="233.09" height="1" fill="#00004a"/><rect x="875.93" y="0" width="230.57" height="1" fill="#00003a"/><rect x="878.45" y="0" width="228.05" height="1" fill="#000039"/><rect x="880.97" y="0" width="225.53" height="1" fill="#00004e"/><rect x="883.49" y="0" width="223.01" height="1" fill="#000041"/><rect x="886.01" y="0" width="220.49" height="1" fill="#000045"/><rect x="887.27" y="0" width="219.23" height="1" fill="#00003b"/><rect x="888.53" y="0" width="217.97" height="1" fill="#00004d"/><rect x="891.05" y="0" width="215.45" height="1" fill="#000050"/><rect x="892.31" y="0" width="214.19" height="1" fill="#000051"/><rect x="893.57" y="0" width="212.93" height="1" fill="#000045"/><rect x="894.83" y="0" width="211.67" height="1" fill="#00002f"/><rect x="897.35" y="0" width="209.15" height="1" fill="#00005d"/><rect x="898.61" y="0" width="207.89" height="1" fill="#00003b"/><rect x="901.13" y="0" width="205.37" height="1" fill="#000055"/><rect x="902.39" y="0" width="204.11" height="1" fill="#000051"/><rect x="903.65" y="0" width="202.85" height="1" fill="#00006c"/><rect x="904.91" y="0" width="201.59" height="1" fill="#00003e"/><rect x="907.43" y="0" width="199.07" height="1" fill="#00005c"/><rect x="909.95" y="0" width="196.55" height="1" fill="#000047"/><rect x="911.21" y="0" width="195.29" height="1" fill="#00004a"/><rect x="912.47" y="0" width="194.03" height="1" fill="#000048"/><rect x="913.73" y="0" width="192.77" height="1" fill="#000049"/><rect x="914.99" y="0" width="191.51" height="1" fill="#000045"/><rect x="916.25" y="0" width="190.25" height="1" fill="#000046"/><rect x="917.51" y="0" width="188.99" height="1" fill="#00005d"/><rect x="918.77" y="0" width="187.73" height="1" fill="#00003e"/><rect x="921.29" y="0" width="185.21" height="1" fill="#00005b"/><rect x="922.55" y="0" width="183.95" height="1" fill="#000040"/><rect x="923.81" y="0" width="182.69" height="1" fill="#000052"/><rect x="926.33" y="0" width="180.17" height="1" fill="#000085"/><rect x="927.59" y="0" width="178.91" height="1" fill="#000044"/><rect x="928.85" y="0" width="177.65" height="1" fill="#00007e"/><rect x="931.37" y="0" width="175.13" height="1" fill="#00004f"/><rect x="932.63" y="0" width="173.87" height="1" fill="#00003e"/><rect x="933.89" y="0" width="172.61" height="1" fill="#000077"/><rect x="936.41" y="0" width="170.09" height="1" fill="#00005c"/><rect x="937.67" y="0" width="168.83" height="1" fill="#00006a"/><rect x="938.93" y="0" width="167.57" height="1" fill="#00004b"/><rect x="941.45" y="0" width="165.05" height="1" fill="#000037"/><rect x="942.71" y="0" width="163.79" height="1" fill="#000071"/><rect x="943.97" y="0" width="162.53" height="1" fill="#000040"/><rect x="945.23" y="0" width="161.27" height="1" fill="#00003a"/><rect x="947.75" y="0" width="158.75" height="1" fill="#000050"/><rect x="949.01" y="0" width="157.49" height="1" fill="#000071"/><rect x="951.53" y="0" width="154.97" height="1" fill="#000051"/><rect x="954.05" y="0" width="152.45" height="1" fill="#00004d"/><rect x="955.31" y="0" width="151.19" height="1" fill="#00006a"/><rect x="957.83" y="0" width="148.67" height="1" fill="#000047"/><rect x="959.09" y="0" width="147.41" height="1" fill="#000073"/><rect x="961.61" y="0" width="144.89" height="1" fill="#000074"/><rect x="964.13" y="0" width="142.37" height="1" fill="#00003a"/><rect x="966.65" y="0" width="139.85" height="1" fill="#00005f"/><rect x="967.91" y="0" width="138.59" height="1" fill="#00006f"/><rect x="970.43" y="0" width="136.07" height="1" fill="#000058"/><rect x="971.69" y="0" width="134.81" height="1" fill="#000053"/><rect x="972.95" y="0" width="133.55" height="1" fill="#00004e"/><rect x="975.47" y="0" width="131.03" height="1" fill="#000041"/><rect x="977.99" y="0" width="128.51" height="1" fill="#00004f"/><rect x="979.25" y="0" width="127.25" height="1" fill="#000058"/><rect x="981.76" y="0" width="124.74" height="1" fill="#000048"/><rect x="983.02" y="0" width="123.48" height="1" fill="#000034"/><rect x="985.54" y="0" width="120.96" height="1" fill="#000032"/><rect x="988.06" y="0" width="118.44" height="1" fill="#000048"/><rect x="989.32" y="0" width="117.18" height="1" fill="#00004b"/><rect x="990.58" y="0" width="115.92" height="1" fill="#000044"/><rect x="991.84" y="0" width="114.66" height="1" fill="#00005d"/><rect x="993.10" y="0" width="113.40" height="1" fill="#000039"/><rect x="995.62" y="0" width="110.88" height="1" fill="#000082"/><rect x="996.88" y="0" width="109.62" height="1" fill="#00005d"/><rect x="998.14" y="0" width="108.36" height="1" fill="#00006f"/><rect x="999.40" y="0" width="107.10" height="1" fill="#00003e"/><rect x="1001.92" y="0" width="104.58" height="1" fill="#000055"/><rect x="1003.18" y="0" width="103.32" height="1" fill="#000048"/><rect x="1005.70" y="0" width="100.80" height="1" fill="#000075"/><rect x="1006.96" y="0" width="99.54" height="1" fill="#000051"/><rect x="1008.22" y="0" width="98.28" height="1" fill="#000049"/><rect x="1009.48" y="0" width="97.02" height="1" fill="#000053"/><rect x="1010.74" y="0" width="95.76" height="1" fill="#000059"/><rect x="1012.00" y="0" width="94.50" height="1" fill="#000064"/><rect x="1014.52" y="0" width="91.98" height="1" fill="#000052"/><rect x="1017.04" y="0" width="89.46" height="1" fill="#00004a"/><rect x="1019.56" y="0" width="86.94" height="1" fill="#00007c"/><rect x="1020.82" y="0" width="85.68" height="1" fill="#000045"/><rect x="1023.34" y="0" width="83.16" height="1" fill="#00006e"/><rect x="1025.86" y="0" width="80.64" height="1" fill="#00005a"/><rect x="1027.12" y="0" width="79.38" height="1" fill="#000057"/><rect x="1028.38" y="0" width="78.12" height="1" fill="#00004c"/><rect x="1029.64" y="0" width="76.86" height="1" fill="#00003f"/><rect x="1032.16" y="0" width="74.34" height="1" fill="#00003e"/><rect x="1033.42" y="0" width="73.08" height="1" fill="#00003e"/><rect x="1034.68" y="0" width="71.82" height="1" fill="#000040"/><rect x="1035.94" y="0" width="70.56" height="1" fill="#00004d"/><rect x="1037.20" y="0" width="69.30" height="1" fill="#00003e"/><rect x="1038.46" y="0" width="68.04" height="1" fill="#000054"/><rect x="1039.72" y="0" width="66.78" height="1" fill="#000084"/><rect x="1040.98" y="0" width="65.52" height="1" fill="#00003f"/><rect x="1043.50" y="0" width="63.00" height="1" fill="#000044"/><rect x="1044.76" y="0" width="61.74" height="1" fill="#000047"/><rect x="1047.28" y="0" width="59.22" height="1" fill="#000063"/><rect x="1048.54" y="0" width="57.96" height="1" fill="#00004d"/><rect x="1051.06" y="0" width="55.44" height="1" fill="#000048"/><rect x="1053.58" y="0" width="52.92" height="1" fill="#00002f"/><rect x="1054.84" y="0" width="51.66" height="1" fill="#000044"/><rect x="1056.10" y="0" width="50.40" height="1" fill="#00004e"/><rect x="1057.36" y="0" width="49.14" height="1" fill="#00004d"/><rect x="1059.88" y="0" width="46.62" height="1" fill="#000042"/><rect x="1061.14" y="0" width="45.36" height="1" fill="#000058"/><rect x="1062.40" y="0" width="44.10" height="1" fill="#000054"/><rect x="1063.66" y="0" width="42.84" height="1" fill="#000037"/><rect x="1064.92" y="0" width="41.58" height="1" fill="#000044"/><rect x="1066.18" y="0" width="40.32" height="1" fill="#00004a"/><rect x="1067.44" y="0" width="39.06" height="1" fill="#000038"/><rect x="1069.96" y="0" width="36.54" height="1" fill="#00003b"/><rect x="1071.22" y="0" width="35.28" height="1" fill="#000049"/><rect x="1072.48" y="0" width="34.02" height="1" fill="#00003d"/><rect x="1075.00" y="0" width="31.50" height="1" fill="#00004f"/><rect x="1076.26" y="0" width="30.24" height="1" fill="#000043"/><rect x="1078.78" y="0" width="27.72" height="1" fill="#000056"/><rect x="1081.30" y="0" width="25.20" height="1" fill="#00004b"/><rect x="1083.82" y="0" width="22.68" height="1" fill="#000048"/><rect x="1085.08" y="0" width="21.42" height="1" fill="#00004a"/><rect x="1086.34" y="0" width="20.16" height="1" fill="#000053"/><rect x="1088.86" y="0" width="17.64" height="1" fill="#000086"/><rect x="1090.12" y="0" width="16.38" height="1" fill="#000051"/><rect x="1091.38" y="0" width="15.12" height="1" fill="#000084"/><rect x="1092.64" y="0" width="13.86" height="1" fill="#000032"/><rect x="1095.16" y="0" width="11.34" height="1" fill="#000053"/><rect x="1097.68" y="0" width="8.82" height="1" fill="#000065"/><rect x="1100.20" y="0" width="6.30" height="1" fill="#000046"/><rect x="1102.72" y="0" width="3.78" height="1" fill="#00005e"/><rect x="1103.98" y="0" width="2.52" height="1" fill="#000058"/><rect x="1105.24" y="0" width="1.26" height="1" fill="#000057"/></g><radialGradient id="g1a"><stop offset="0.0" stop-color="#0f0" stop-opacity="0.4048"/><stop offset="0.125" stop-color="#0f0" stop-opacity="0.3898"/><stop offset="0.25" stop-color="#0f0" stop-opacity="0.348"/><stop offset="0.375" stop-color="#0f0" stop-opacity="0.288"/><stop offset="0.5" stop-color="#0f0" stop-opacity="0.2211"/><stop offset="0.625" stop-color="#0f0" stop-opacity="0.1573"/><stop offset="0.75" stop-color="#0f0" stop-opacity="0.1038"/><stop offset="0.875" stop-color="#0f0" stop-opacity="0.0635"/><stop offset="1.0" stop-color="#0f0" stop-opacity="0.0"/></radialGradient><linearGradient id="tga" gradientUnits="userSpaceOnUse" x1="195" y1="0" x2="475" y2="0"><stop offset="0" stop-color="#0f0" stop-opacity="0.317"/><stop offset="0.16" stop-color="#0f0" stop-opacity="0.238"/><stop offset="0.185" stop-color="#0f0" stop-opacity="0.1"/><stop offset="0.45" stop-color="#0f0" stop-opacity="0.075"/><stop offset="0.62" stop-color="#0f0" stop-opacity="0.06"/><stop offset="1" stop-color="#0f0" stop-opacity="0.04"/></linearGradient><radialGradient id="g1b"><stop offset="0.0" stop-color="#0f0" stop-opacity="0.483"/><stop offset="0.125" stop-color="#0f0" stop-opacity="0.4651"/><stop offset="0.25" stop-color="#0f0" stop-opacity="0.4152"/><stop offset="0.375" stop-color="#0f0" stop-opacity="0.3437"/><stop offset="0.5" stop-color="#0f0" stop-opacity="0.2638"/><stop offset="0.625" stop-color="#0f0" stop-opacity="0.1877"/><stop offset="0.75" stop-color="#0f0" stop-opacity="0.1238"/><stop offset="0.875" stop-color="#0f0" stop-opacity="0.0757"/><stop offset="1.0" stop-color="#0f0" stop-opacity="0.0"/></radialGradient><linearGradient id="tgb" gradientUnits="userSpaceOnUse" x1="1062.9" y1="0" x2="1342.9" y2="0"><stop offset="0" stop-color="#0f0" stop-opacity="0.378"/><stop offset="0.16" stop-color="#0f0" stop-opacity="0.284"/><stop offset="0.185" stop-color="#0f0" stop-opacity="0.1"/><stop offset="0.45" stop-color="#0f0" stop-opacity="0.075"/><stop offset="0.62" stop-color="#0f0" stop-opacity="0.06"/><stop offset="1" stop-color="#0f0" stop-opacity="0.04"/></linearGradient><filter id="vir2" x="1168.5" y="29.5" width="29.0" height="533.0" filterUnits="userSpaceOnUse" color-interpolation-filters="sRGB"><feComponentTransfer><feFuncR type="table" tableValues="0.2670 0.2685 0.2699 0.2713 0.2726 0.2738 0.2750 0.2760 0.2770 0.2779 0.2788 0.2796 0.2803 0.2809 0.2814 0.2819 0.2823 0.2827 0.2829 0.2831 0.2832 0.2832 0.2832 0.2831 0.2829 0.2826 0.2823 0.2819 0.2814 0.2809 0.2803 0.2796 0.2788 0.2780 0.2771 0.2762 0.2752 0.2741 0.2730 0.2718 0.2706 0.2693 0.2680 0.2666 0.2651 0.2637 0.2621 0.2606 0.2590 0.2573 0.2556 0.2539 0.2522 0.2504 0.2486 0.2468 0.2450 0.2431 0.2412 0.2393 0.2374 0.2355 0.2336 0.2317 0.2297 0.2278 0.2259 0.2239 0.2220 0.2201 0.2181 0.2162 0.2143 0.2124 0.2105 0.2086 0.2068 0.2049 0.2031 0.2012 0.1994 0.1976 0.1959 0.1941 0.1924 0.1906 0.1889 0.1872 0.1856 0.1839 0.1823 0.1806 0.1790 0.1774 0.1758 0.1743 0.1727 0.1712 0.1696 0.1681 0.1666 0.1651 0.1636 0.1621 0.1607 0.1592 0.1577 0.1563 0.1548 0.1534 0.1519 0.1505 0.1490 0.1476 0.1462 0.1448 0.1433 0.1419 0.1405 0.1391 0.1378 0.1364 0.1351 0.1337 0.1324 0.1312 0.1299 0.1287 0.1276 0.1265 0.1254 0.1244 0.1235 0.1226 0.1218 0.1211 0.1206 0.1201 0.1197 0.1195 0.1194 0.1195 0.1197 0.1201 0.1206 0.1214 0.1223 0.1234 0.1248 0.1263 0.1281 0.1301 0.1323 0.1347 0.1373 0.1402 0.1433 0.1466 0.1501 0.1539 0.1579 0.1620 0.1664 0.1709 0.1757 0.1807 0.1858 0.1911 0.1966 0.2022 0.2080 0.2140 0.2201 0.2264 0.2328 0.2394 0.2461 0.2529 0.2599 0.2669 0.2741 0.2815 0.2889 0.2965 0.3041 0.3119 0.3198 0.3278 0.3359 0.3441 0.3524 0.3607 0.3692 0.3778 0.3864 0.3952 0.4040 0.4129 0.4219 0.4310 0.4401 0.4494 0.4587 0.4681 0.4775 0.4870 0.4966 0.5063 0.5160 0.5258 0.5356 0.5455 0.5555 0.5655 0.5756 0.5857 0.5958 0.6060 0.6163 0.6266 0.6369 0.6473 0.6576 0.6681 0.6785 0.6889 0.6994 0.7099 0.7204 0.7309 0.7414 0.7519 0.7624 0.7729 0.7833 0.7938 0.8042 0.8146 0.8249 0.8353 0.8456 0.8558 0.8660 0.8762 0.8863 0.8963 0.9063 0.9162 0.9261 0.9359 0.9456 0.9553 0.9649 0.9744 0.9839 0.9932"/><feFuncG type="table" tableValues="0.0049 0.0096 0.0146 0.0199 0.0256 0.0315 0.0378 0.0442 0.0503 0.0563 0.0621 0.0678 0.0734 0.0789 0.0843 0.0897 0.0950 0.1002 0.1054 0.1106 0.1157 0.1208 0.1258 0.1309 0.1359 0.1409 0.1459 0.1509 0.1558 0.1608 0.1657 0.1706 0.1755 0.1804 0.1852 0.1901 0.1949 0.1997 0.2045 0.2093 0.2141 0.2188 0.2235 0.2283 0.2330 0.2376 0.2423 0.2469 0.2515 0.2561 0.2607 0.2653 0.2698 0.2743 0.2788 0.2832 0.2877 0.2921 0.2965 0.3009 0.3052 0.3095 0.3138 0.3181 0.3224 0.3266 0.3308 0.3350 0.3392 0.3433 0.3474 0.3515 0.3556 0.3597 0.3637 0.3678 0.3718 0.3757 0.3797 0.3837 0.3876 0.3915 0.3954 0.3993 0.4032 0.4071 0.4109 0.4147 0.4186 0.4224 0.4262 0.4300 0.4338 0.4375 0.4413 0.4450 0.4488 0.4525 0.4563 0.4600 0.4637 0.4674 0.4711 0.4748 0.4785 0.4822 0.4859 0.4896 0.4933 0.4970 0.5007 0.5044 0.5081 0.5117 0.5154 0.5191 0.5228 0.5265 0.5301 0.5338 0.5375 0.5412 0.5449 0.5485 0.5522 0.5559 0.5596 0.5633 0.5669 0.5706 0.5743 0.5780 0.5817 0.5854 0.5891 0.5927 0.5964 0.6001 0.6038 0.6075 0.6111 0.6148 0.6185 0.6222 0.6258 0.6295 0.6332 0.6368 0.6405 0.6441 0.6477 0.6514 0.6550 0.6586 0.6623 0.6659 0.6695 0.6731 0.6766 0.6802 0.6838 0.6873 0.6909 0.6944 0.6979 0.7014 0.7049 0.7084 0.7118 0.7153 0.7187 0.7221 0.7255 0.7289 0.7322 0.7356 0.7389 0.7422 0.7455 0.7488 0.7520 0.7552 0.7584 0.7616 0.7647 0.7678 0.7709 0.7740 0.7770 0.7800 0.7830 0.7860 0.7889 0.7918 0.7946 0.7975 0.8003 0.8030 0.8058 0.8085 0.8111 0.8138 0.8164 0.8189 0.8214 0.8239 0.8264 0.8288 0.8312 0.8335 0.8358 0.8380 0.8403 0.8424 0.8446 0.8467 0.8487 0.8507 0.8527 0.8546 0.8565 0.8584 0.8602 0.8620 0.8637 0.8654 0.8671 0.8688 0.8703 0.8719 0.8734 0.8750 0.8764 0.8779 0.8793 0.8807 0.8820 0.8834 0.8847 0.8860 0.8873 0.8886 0.8899 0.8911 0.8924 0.8936 0.8949 0.8961 0.8973 0.8986 0.8998 0.9011 0.9023 0.9036 0.9049 0.9062"/><feFuncB type="table" tableValues="0.3294 0.3354 0.3414 0.3473 0.3531 0.3589 0.3645 0.3702 0.3757 0.3812 0.3866 0.3919 0.3972 0.4023 0.4074 0.4124 0.4173 0.4222 0.4269 0.4316 0.4361 0.4406 0.4450 0.4492 0.4534 0.4575 0.4615 0.4654 0.4692 0.4729 0.4765 0.4800 0.4834 0.4867 0.4899 0.4930 0.4960 0.4989 0.5017 0.5044 0.5071 0.5096 0.5120 0.5143 0.5166 0.5188 0.5208 0.5228 0.5247 0.5266 0.5283 0.5300 0.5316 0.5331 0.5346 0.5359 0.5373 0.5385 0.5397 0.5408 0.5419 0.5429 0.5439 0.5448 0.5457 0.5465 0.5473 0.5481 0.5488 0.5494 0.5500 0.5506 0.5512 0.5517 0.5522 0.5527 0.5531 0.5535 0.5539 0.5543 0.5546 0.5550 0.5553 0.5556 0.5558 0.5561 0.5563 0.5565 0.5568 0.5569 0.5571 0.5573 0.5574 0.5576 0.5577 0.5578 0.5579 0.5580 0.5580 0.5581 0.5581 0.5581 0.5581 0.5581 0.5581 0.5581 0.5580 0.5579 0.5578 0.5577 0.5576 0.5574 0.5573 0.5570 0.5568 0.5566 0.5563 0.5560 0.5557 0.5553 0.5549 0.5545 0.5540 0.5535 0.5530 0.5525 0.5519 0.5512 0.5506 0.5498 0.5491 0.5483 0.5474 0.5466 0.5456 0.5446 0.5436 0.5425 0.5414 0.5402 0.5390 0.5377 0.5363 0.5349 0.5335 0.5320 0.5304 0.5288 0.5271 0.5253 0.5235 0.5216 0.5197 0.5176 0.5156 0.5134 0.5112 0.5089 0.5066 0.5042 0.5017 0.4991 0.4965 0.4938 0.4910 0.4882 0.4853 0.4823 0.4792 0.4761 0.4729 0.4696 0.4662 0.4628 0.4593 0.4557 0.4520 0.4483 0.4445 0.4406 0.4366 0.4326 0.4284 0.4242 0.4199 0.4156 0.4112 0.4066 0.4020 0.3974 0.3926 0.3878 0.3829 0.3779 0.3729 0.3678 0.3626 0.3573 0.3519 0.3465 0.3410 0.3354 0.3297 0.3240 0.3182 0.3123 0.3064 0.3004 0.2943 0.2881 0.2819 0.2756 0.2693 0.2629 0.2564 0.2499 0.2433 0.2367 0.2301 0.2234 0.2166 0.2099 0.2031 0.1963 0.1895 0.1827 0.1760 0.1693 0.1626 0.1560 0.1496 0.1432 0.1371 0.1311 0.1254 0.1200 0.1150 0.1103 0.1062 0.1026 0.0997 0.0975 0.0960 0.0953 0.0954 0.0963 0.0981 0.1007 0.1041 0.1081 0.1128 0.1181 0.1239 0.1302 0.1369 0.1439"/></feComponentTransfer></filter><linearGradient id="gg" x1="0" y1="1" x2="0" y2="0"><stop offset="0" stop-color="#000"/><stop offset="1" stop-color="#fff"/></linearGradient><style type="text/css">*{stroke-linejoin: round; stroke-linecap: butt}</style> </defs> <g id="figure_1"> <g id="patch_1"> <path d="M 0 432 L 2880 432 L 2880 0 L 0 0 z " style="fill: #ffffff"/> </g> <g id="axes_1"> <g id="patch_2"> <path d="M 67.32 404.28 L 796.68 404.28 L 796.68 21.96 L 67.32 21.96 z " style="fill: #ffffff"/> </g><g transform="scale(0.72)"><g filter="url(#vir)"><g clip-path="url(#hc)" style="isolation:isolate"><g shape-rendering="crispEdges"><rect x="93.50" y="30.5" width="1013.00" height="531.0" fill="#640000"/><rect x="94.76" y="30.5" width="1011.74" height="531.0" fill="#5b0000"/><rect x="96.02" y="30.5" width="1010.48" height="531.0" fill="#640000"/><rect x="97.28" y="30.5" width="1009.22" height="531.0" fill="#600000"/><rect x="99.80" y="30.5" width="1006.70" height="531.0" fill="#660000"/><rect x="101.06" y="30.5" width="1005.44" height="531.0" fill="#620000"/><rect x="102.32" y="30.5" width="1004.18" height="531.0" fill="#640000"/><rect x="103.58" y="30.5" width="1002.92" height="531.0" fill="#5d0000"/><rect x="104.84" y="30.5" width="1001.66" height="531.0" fill="#680000"/><rect x="106.10" y="30.5" width="1000.40" height="531.0" fill="#690000"/><rect x="107.36" y="30.5" width="999.14" height="531.0" fill="#6a0000"/><rect x="108.62" y="30.5" width="997.88" height="531.0" fill="#660000"/><rect x="109.88" y="30.5" width="996.62" height="531.0" fill="#5e0000"/><rect x="111.14" y="30.5" width="995.36" height="531.0" fill="#5d0000"/><rect x="112.40" y="30.5" width="994.10" height="531.0" fill="#5e0000"/><rect x="113.66" y="30.5" width="992.84" height="531.0" fill="#610000"/><rect x="114.92" y="30.5" width="991.58" height="531.0" fill="#5c0000"/><rect x="117.44" y="30.5" width="989.06" height="531.0" fill="#570000"/><rect x="118.70" y="30.5" width="987.80" height="531.0" fill="#530000"/><rect x="119.96" y="30.5" width="986.54" height="531.0" fill="#580000"/><rect x="121.22" y="30.5" width="985.28" height="531.0" fill="#5a0000"/><rect x="123.74" y="30.5" width="982.76" height="531.0" fill="#5c0000"/><rect x="125.00" y="30.5" width="981.50" height="531.0" fill="#5a0000"/><rect x="126.26" y="30.5" width="980.24" height="531.0" fill="#5d0000"/><rect x="127.52" y="30.5" width="978.98" height="531.0" fill="#540000"/><rect x="128.78" y="30.5" width="977.72" height="531.0" fill="#530000"/><rect x="130.04" y="30.5" width="976.46" height="531.0" fill="#560000"/><rect x="131.30" y="30.5" width="975.20" height="531.0" fill="#4e0000"/><rect x="132.56" y="30.5" width="973.94" height="531.0" fill="#4f0000"/><rect x="133.82" y="30.5" width="972.68" height="531.0" fill="#520000"/><rect x="135.08" y="30.5" width="971.42" height="531.0" fill="#500000"/><rect x="136.34" y="30.5" width="970.16" height="531.0" fill="#4f0000"/><rect x="137.60" y="30.5" width="968.90" height="531.0" fill="#510000"/><rect x="138.86" y="30.5" width="967.64" height="531.0" fill="#4a0000"/><rect x="140.12" y="30.5" width="966.38" height="531.0" fill="#540000"/><rect x="141.38" y="30.5" width="965.12" height="531.0" fill="#500000"/><rect x="142.64" y="30.5" width="963.86" height="531.0" fill="#4d0000"/><rect x="143.90" y="30.5" width="962.60" height="531.0" fill="#510000"/><rect x="145.16" y="30.5" width="961.34" height="531.0" fill="#540000"/><rect x="146.42" y="30.5" width="960.08" height="531.0" fill="#580000"/><rect x="147.68" y="30.5" width="958.82" height="531.0" fill="#540000"/><rect x="148.94" y="30.5" width="957.56" height="531.0" fill="#510000"/><rect x="150.20" y="30.5" width="956.30" height="531.0" fill="#520000"/><rect x="151.46" y="30.5" width="955.04" height="531.0" fill="#590000"/><rect x="152.72" y="30.5" width="953.78" height="531.0" fill="#560000"/><rect x="153.98" y="30.5" width="952.52" height="531.0" fill="#530000"/><rect x="155.24" y="30.5" width="951.26" height="531.0" fill="#550000"/><rect x="156.50" y="30.5" width="950.00" height="531.0" fill="#520000"/><rect x="157.76" y="30.5" width="948.74" height="531.0" fill="#4b0000"/><rect x="160.28" y="30.5" width="946.22" height="531.0" fill="#520000"/><rect x="161.54" y="30.5" width="944.96" height="531.0" fill="#5e0000"/><rect x="162.80" y="30.5" width="943.70" height="531.0" fill="#600000"/><rect x="164.06" y="30.5" width="942.44" height="531.0" fill="#670000"/><rect x="165.32" y="30.5" width="941.18" height="531.0" fill="#630000"/><rect x="166.58" y="30.5" width="939.92" height="531.0" fill="#690000"/><rect x="169.10" y="30.5" width="937.40" height="531.0" fill="#630000"/><rect x="170.36" y="30.5" width="936.14" height="531.0" fill="#700000"/><rect x="171.62" y="30.5" width="934.88" height="531.0" fill="#6c0000"/><rect x="172.88" y="30.5" width="933.62" height="531.0" fill="#6a0000"/><rect x="174.14" y="30.5" width="932.36" height="531.0" fill="#660000"/><rect x="175.40" y="30.5" width="931.10" height="531.0" fill="#640000"/><rect x="176.66" y="30.5" width="929.84" height="531.0" fill="#690000"/><rect x="179.18" y="30.5" width="927.32" height="531.0" fill="#620000"/><rect x="180.44" y="30.5" width="926.06" height="531.0" fill="#670000"/><rect x="182.96" y="30.5" width="923.54" height="531.0" fill="#650000"/><rect x="184.22" y="30.5" width="922.28" height="531.0" fill="#690000"/><rect x="185.48" y="30.5" width="921.02" height="531.0" fill="#5d0000"/><rect x="186.74" y="30.5" width="919.76" height="531.0" fill="#610000"/><rect x="188.00" y="30.5" width="918.50" height="531.0" fill="#6c0000"/><rect x="189.26" y="30.5" width="917.24" height="531.0" fill="#750000"/><rect x="190.52" y="30.5" width="915.98" height="531.0" fill="#6f0000"/><rect x="191.78" y="30.5" width="914.72" height="531.0" fill="#6a0000"/><rect x="193.04" y="30.5" width="913.46" height="531.0" fill="#680000"/><rect x="194.30" y="30.5" width="912.20" height="531.0" fill="#720000"/><rect x="195.56" y="30.5" width="910.94" height="531.0" fill="#680000"/><rect x="196.82" y="30.5" width="909.68" height="531.0" fill="#640000"/><rect x="198.08" y="30.5" width="908.42" height="531.0" fill="#5c0000"/><rect x="199.34" y="30.5" width="907.16" height="531.0" fill="#570000"/><rect x="200.60" y="30.5" width="905.90" height="531.0" fill="#5d0000"/><rect x="201.86" y="30.5" width="904.64" height="531.0" fill="#600000"/><rect x="203.12" y="30.5" width="903.38" height="531.0" fill="#5c0000"/><rect x="204.38" y="30.5" width="902.12" height="531.0" fill="#5d0000"/><rect x="205.64" y="30.5" width="900.86" height="531.0" fill="#540000"/><rect x="206.90" y="30.5" width="899.60" height="531.0" fill="#520000"/><rect x="208.16" y="30.5" width="898.34" height="531.0" fill="#500000"/><rect x="209.42" y="30.5" width="897.08" height="531.0" fill="#520000"/><rect x="210.68" y="30.5" width="895.82" height="531.0" fill="#500000"/><rect x="211.94" y="30.5" width="894.56" height="531.0" fill="#4a0000"/><rect x="213.20" y="30.5" width="893.30" height="531.0" fill="#4b0000"/><rect x="214.46" y="30.5" width="892.04" height="531.0" fill="#570000"/><rect x="215.72" y="30.5" width="890.78" height="531.0" fill="#5a0000"/><rect x="216.98" y="30.5" width="889.52" height="531.0" fill="#530000"/><rect x="219.50" y="30.5" width="887.00" height="531.0" fill="#500000"/><rect x="220.75" y="30.5" width="885.75" height="531.0" fill="#4f0000"/><rect x="222.01" y="30.5" width="884.49" height="531.0" fill="#4c0000"/><rect x="224.53" y="30.5" width="881.97" height="531.0" fill="#4b0000"/><rect x="225.79" y="30.5" width="880.71" height="531.0" fill="#4f0000"/><rect x="227.05" y="30.5" width="879.45" height="531.0" fill="#4c0000"/><rect x="228.31" y="30.5" width="878.19" height="531.0" fill="#470000"/><rect x="230.83" y="30.5" width="875.67" height="531.0" fill="#510000"/><rect x="233.35" y="30.5" width="873.15" height="531.0" fill="#540000"/><rect x="234.61" y="30.5" width="871.89" height="531.0" fill="#500000"/><rect x="235.87" y="30.5" width="870.63" height="531.0" fill="#530000"/><rect x="237.13" y="30.5" width="869.37" height="531.0" fill="#540000"/><rect x="238.39" y="30.5" width="868.11" height="531.0" fill="#550000"/><rect x="239.65" y="30.5" width="866.85" height="531.0" fill="#490000"/><rect x="240.91" y="30.5" width="865.59" height="531.0" fill="#460000"/><rect x="242.17" y="30.5" width="864.33" height="531.0" fill="#240000"/><rect x="243.43" y="30.5" width="863.07" height="531.0" fill="#0f0000"/><rect x="244.69" y="30.5" width="861.81" height="531.0" fill="#0e0000"/><rect x="245.95" y="30.5" width="860.55" height="531.0" fill="#0c0000"/><rect x="247.21" y="30.5" width="859.29" height="531.0" fill="#0e0000"/><rect x="249.73" y="30.5" width="856.77" height="531.0" fill="#0f0000"/><rect x="250.99" y="30.5" width="855.51" height="531.0" fill="#080000"/><rect x="252.25" y="30.5" width="854.25" height="531.0" fill="#0d0000"/><rect x="253.51" y="30.5" width="852.99" height="531.0" fill="#100000"/><rect x="254.77" y="30.5" width="851.73" height="531.0" fill="#120000"/><rect x="256.03" y="30.5" width="850.47" height="531.0" fill="#0e0000"/><rect x="257.29" y="30.5" width="849.21" height="531.0" fill="#110000"/><rect x="258.55" y="30.5" width="847.95" height="531.0" fill="#050000"/><rect x="259.81" y="30.5" width="846.69" height="531.0" fill="#080000"/><rect x="261.07" y="30.5" width="845.43" height="531.0" fill="#0e0000"/><rect x="262.33" y="30.5" width="844.17" height="531.0" fill="#150000"/><rect x="263.59" y="30.5" width="842.91" height="531.0" fill="#170000"/><rect x="264.85" y="30.5" width="841.65" height="531.0" fill="#250000"/><rect x="266.11" y="30.5" width="840.39" height="531.0" fill="#280000"/><rect x="267.37" y="30.5" width="839.13" height="531.0" fill="#240000"/><rect x="268.63" y="30.5" width="837.87" height="531.0" fill="#270000"/><rect x="269.89" y="30.5" width="836.61" height="531.0" fill="#2b0000"/><rect x="271.15" y="30.5" width="835.35" height="531.0" fill="#2d0000"/><rect x="272.41" y="30.5" width="834.09" height="531.0" fill="#300000"/><rect x="273.67" y="30.5" width="832.83" height="531.0" fill="#280000"/><rect x="274.93" y="30.5" width="831.57" height="531.0" fill="#250000"/><rect x="276.19" y="30.5" width="830.31" height="531.0" fill="#210000"/><rect x="277.45" y="30.5" width="829.05" height="531.0" fill="#1f0000"/><rect x="278.71" y="30.5" width="827.79" height="531.0" fill="#230000"/><rect x="279.97" y="30.5" width="826.53" height="531.0" fill="#200000"/><rect x="281.23" y="30.5" width="825.27" height="531.0" fill="#1c0000"/><rect x="282.49" y="30.5" width="824.01" height="531.0" fill="#200000"/><rect x="283.75" y="30.5" width="822.75" height="531.0" fill="#210000"/><rect x="286.27" y="30.5" width="820.23" height="531.0" fill="#1a0000"/><rect x="287.53" y="30.5" width="818.97" height="531.0" fill="#1c0000"/><rect x="290.05" y="30.5" width="816.45" height="531.0" fill="#180000"/><rect x="291.31" y="30.5" width="815.19" height="531.0" fill="#170000"/><rect x="292.57" y="30.5" width="813.93" height="531.0" fill="#190000"/><rect x="293.83" y="30.5" width="812.67" height="531.0" fill="#150000"/><rect x="295.09" y="30.5" width="811.41" height="531.0" fill="#170000"/><rect x="296.35" y="30.5" width="810.15" height="531.0" fill="#180000"/><rect x="297.61" y="30.5" width="808.89" height="531.0" fill="#1b0000"/><rect x="300.13" y="30.5" width="806.37" height="531.0" fill="#210000"/><rect x="301.39" y="30.5" width="805.11" height="531.0" fill="#240000"/><rect x="302.65" y="30.5" width="803.85" height="531.0" fill="#1c0000"/><rect x="303.91" y="30.5" width="802.59" height="531.0" fill="#1d0000"/><rect x="305.17" y="30.5" width="801.33" height="531.0" fill="#170000"/><rect x="306.43" y="30.5" width="800.07" height="531.0" fill="#150000"/><rect x="307.69" y="30.5" width="798.81" height="531.0" fill="#140000"/><rect x="308.95" y="30.5" width="797.55" height="531.0" fill="#180000"/><rect x="310.21" y="30.5" width="796.29" height="531.0" fill="#260000"/><rect x="311.47" y="30.5" width="795.03" height="531.0" fill="#2e0000"/><rect x="312.73" y="30.5" width="793.77" height="531.0" fill="#350000"/><rect x="313.99" y="30.5" width="792.51" height="531.0" fill="#300000"/><rect x="315.25" y="30.5" width="791.25" height="531.0" fill="#2f0000"/><rect x="317.77" y="30.5" width="788.73" height="531.0" fill="#290000"/><rect x="319.03" y="30.5" width="787.47" height="531.0" fill="#2f0000"/><rect x="320.29" y="30.5" width="786.21" height="531.0" fill="#360000"/><rect x="321.55" y="30.5" width="784.95" height="531.0" fill="#3c0000"/><rect x="322.81" y="30.5" width="783.69" height="531.0" fill="#350000"/><rect x="324.07" y="30.5" width="782.43" height="531.0" fill="#2f0000"/><rect x="325.33" y="30.5" width="781.17" height="531.0" fill="#260000"/><rect x="326.59" y="30.5" width="779.91" height="531.0" fill="#230000"/><rect x="327.85" y="30.5" width="778.65" height="531.0" fill="#270000"/><rect x="329.11" y="30.5" width="777.39" height="531.0" fill="#2d0000"/><rect x="330.37" y="30.5" width="776.13" height="531.0" fill="#280000"/><rect x="332.89" y="30.5" width="773.61" height="531.0" fill="#230000"/><rect x="334.15" y="30.5" width="772.35" height="531.0" fill="#280000"/><rect x="335.41" y="30.5" width="771.09" height="531.0" fill="#210000"/><rect x="336.67" y="30.5" width="769.83" height="531.0" fill="#200000"/><rect x="337.93" y="30.5" width="768.57" height="531.0" fill="#240000"/><rect x="339.19" y="30.5" width="767.31" height="531.0" fill="#250000"/><rect x="340.45" y="30.5" width="766.05" height="531.0" fill="#260000"/><rect x="341.71" y="30.5" width="764.79" height="531.0" fill="#2b0000"/><rect x="342.97" y="30.5" width="763.53" height="531.0" fill="#290000"/><rect x="344.23" y="30.5" width="762.27" height="531.0" fill="#260000"/><rect x="345.49" y="30.5" width="761.01" height="531.0" fill="#230000"/><rect x="346.75" y="30.5" width="759.75" height="531.0" fill="#290000"/><rect x="348.01" y="30.5" width="758.49" height="531.0" fill="#2a0000"/><rect x="349.27" y="30.5" width="757.23" height="531.0" fill="#270000"/><rect x="351.79" y="30.5" width="754.71" height="531.0" fill="#2b0000"/><rect x="353.05" y="30.5" width="753.45" height="531.0" fill="#280000"/><rect x="354.31" y="30.5" width="752.19" height="531.0" fill="#2f0000"/><rect x="355.57" y="30.5" width="750.93" height="531.0" fill="#320000"/><rect x="356.83" y="30.5" width="749.67" height="531.0" fill="#350000"/><rect x="358.09" y="30.5" width="748.41" height="531.0" fill="#300000"/><rect x="359.35" y="30.5" width="747.15" height="531.0" fill="#2f0000"/><rect x="360.61" y="30.5" width="745.89" height="531.0" fill="#330000"/><rect x="361.87" y="30.5" width="744.63" height="531.0" fill="#300000"/><rect x="363.13" y="30.5" width="743.37" height="531.0" fill="#370000"/><rect x="364.39" y="30.5" width="742.11" height="531.0" fill="#360000"/><rect x="366.91" y="30.5" width="739.59" height="531.0" fill="#350000"/><rect x="368.17" y="30.5" width="738.33" height="531.0" fill="#360000"/><rect x="369.43" y="30.5" width="737.07" height="531.0" fill="#3a0000"/><rect x="370.69" y="30.5" width="735.81" height="531.0" fill="#380000"/><rect x="371.95" y="30.5" width="734.55" height="531.0" fill="#370000"/><rect x="373.21" y="30.5" width="733.29" height="531.0" fill="#2e0000"/><rect x="374.47" y="30.5" width="732.03" height="531.0" fill="#360000"/><rect x="375.73" y="30.5" width="730.77" height="531.0" fill="#380000"/><rect x="376.99" y="30.5" width="729.51" height="531.0" fill="#340000"/><rect x="378.25" y="30.5" width="728.25" height="531.0" fill="#3b0000"/><rect x="379.51" y="30.5" width="726.99" height="531.0" fill="#410000"/><rect x="380.77" y="30.5" width="725.73" height="531.0" fill="#450000"/><rect x="382.03" y="30.5" width="724.47" height="531.0" fill="#440000"/><rect x="383.29" y="30.5" width="723.21" height="531.0" fill="#400000"/><rect x="384.55" y="30.5" width="721.95" height="531.0" fill="#3a0000"/><rect x="385.81" y="30.5" width="720.69" height="531.0" fill="#3d0000"/><rect x="387.07" y="30.5" width="719.43" height="531.0" fill="#410000"/><rect x="389.59" y="30.5" width="716.91" height="531.0" fill="#3b0000"/><rect x="390.85" y="30.5" width="715.65" height="531.0" fill="#3e0000"/><rect x="392.11" y="30.5" width="714.39" height="531.0" fill="#410000"/><rect x="393.37" y="30.5" width="713.13" height="531.0" fill="#3d0000"/><rect x="397.15" y="30.5" width="709.35" height="531.0" fill="#3c0000"/><rect x="398.41" y="30.5" width="708.09" height="531.0" fill="#420000"/><rect x="399.67" y="30.5" width="706.83" height="531.0" fill="#3f0000"/><rect x="402.19" y="30.5" width="704.31" height="531.0" fill="#410000"/><rect x="403.45" y="30.5" width="703.05" height="531.0" fill="#430000"/><rect x="404.71" y="30.5" width="701.79" height="531.0" fill="#480000"/><rect x="405.97" y="30.5" width="700.53" height="531.0" fill="#410000"/><rect x="407.23" y="30.5" width="699.27" height="531.0" fill="#430000"/><rect x="408.49" y="30.5" width="698.01" height="531.0" fill="#460000"/><rect x="411.01" y="30.5" width="695.49" height="531.0" fill="#4d0000"/><rect x="412.27" y="30.5" width="694.23" height="531.0" fill="#480000"/><rect x="413.53" y="30.5" width="692.97" height="531.0" fill="#4c0000"/><rect x="414.79" y="30.5" width="691.71" height="531.0" fill="#4a0000"/><rect x="416.05" y="30.5" width="690.45" height="531.0" fill="#4b0000"/><rect x="417.31" y="30.5" width="689.19" height="531.0" fill="#450000"/><rect x="418.57" y="30.5" width="687.93" height="531.0" fill="#480000"/><rect x="419.83" y="30.5" width="686.67" height="531.0" fill="#430000"/><rect x="421.09" y="30.5" width="685.41" height="531.0" fill="#450000"/><rect x="422.35" y="30.5" width="684.15" height="531.0" fill="#460000"/><rect x="423.61" y="30.5" width="682.89" height="531.0" fill="#490000"/><rect x="426.13" y="30.5" width="680.37" height="531.0" fill="#4c0000"/><rect x="428.65" y="30.5" width="677.85" height="531.0" fill="#4d0000"/><rect x="429.91" y="30.5" width="676.59" height="531.0" fill="#4c0000"/><rect x="431.17" y="30.5" width="675.33" height="531.0" fill="#4b0000"/><rect x="432.43" y="30.5" width="674.07" height="531.0" fill="#4d0000"/><rect x="433.69" y="30.5" width="672.81" height="531.0" fill="#4e0000"/><rect x="436.21" y="30.5" width="670.29" height="531.0" fill="#4d0000"/><rect x="437.47" y="30.5" width="669.03" height="531.0" fill="#4f0000"/><rect x="438.73" y="30.5" width="667.77" height="531.0" fill="#500000"/><rect x="441.25" y="30.5" width="665.25" height="531.0" fill="#520000"/><rect x="442.51" y="30.5" width="663.99" height="531.0" fill="#550000"/><rect x="443.77" y="30.5" width="662.73" height="531.0" fill="#4f0000"/><rect x="446.29" y="30.5" width="660.21" height="531.0" fill="#500000"/><rect x="447.55" y="30.5" width="658.95" height="531.0" fill="#550000"/><rect x="448.81" y="30.5" width="657.69" height="531.0" fill="#510000"/><rect x="450.07" y="30.5" width="656.43" height="531.0" fill="#580000"/><rect x="451.33" y="30.5" width="655.17" height="531.0" fill="#560000"/><rect x="452.59" y="30.5" width="653.91" height="531.0" fill="#540000"/><rect x="453.85" y="30.5" width="652.65" height="531.0" fill="#580000"/><rect x="455.11" y="30.5" width="651.39" height="531.0" fill="#560000"/><rect x="456.37" y="30.5" width="650.13" height="531.0" fill="#550000"/><rect x="457.63" y="30.5" width="648.87" height="531.0" fill="#570000"/><rect x="458.89" y="30.5" width="647.61" height="531.0" fill="#520000"/><rect x="460.15" y="30.5" width="646.35" height="531.0" fill="#550000"/><rect x="461.41" y="30.5" width="645.09" height="531.0" fill="#590000"/><rect x="462.67" y="30.5" width="643.83" height="531.0" fill="#4f0000"/><rect x="463.93" y="30.5" width="642.57" height="531.0" fill="#540000"/><rect x="465.19" y="30.5" width="641.31" height="531.0" fill="#4a0000"/><rect x="466.45" y="30.5" width="640.05" height="531.0" fill="#470000"/><rect x="467.71" y="30.5" width="638.79" height="531.0" fill="#4a0000"/><rect x="468.97" y="30.5" width="637.53" height="531.0" fill="#490000"/><rect x="470.23" y="30.5" width="636.27" height="531.0" fill="#4b0000"/><rect x="471.49" y="30.5" width="635.01" height="531.0" fill="#500000"/><rect x="472.75" y="30.5" width="633.75" height="531.0" fill="#4e0000"/><rect x="475.26" y="30.5" width="631.24" height="531.0" fill="#4d0000"/><rect x="476.52" y="30.5" width="629.98" height="531.0" fill="#460000"/><rect x="477.78" y="30.5" width="628.72" height="531.0" fill="#430000"/><rect x="479.04" y="30.5" width="627.46" height="531.0" fill="#4a0000"/><rect x="480.30" y="30.5" width="626.20" height="531.0" fill="#4d0000"/><rect x="481.56" y="30.5" width="624.94" height="531.0" fill="#4b0000"/><rect x="482.82" y="30.5" width="623.68" height="531.0" fill="#4d0000"/><rect x="484.08" y="30.5" width="622.42" height="531.0" fill="#4f0000"/><rect x="485.34" y="30.5" width="621.16" height="531.0" fill="#4c0000"/><rect x="487.86" y="30.5" width="618.64" height="531.0" fill="#470000"/><rect x="489.12" y="30.5" width="617.38" height="531.0" fill="#4d0000"/><rect x="490.38" y="30.5" width="616.12" height="531.0" fill="#530000"/><rect x="491.64" y="30.5" width="614.86" height="531.0" fill="#510000"/><rect x="492.90" y="30.5" width="613.60" height="531.0" fill="#500000"/><rect x="494.16" y="30.5" width="612.34" height="531.0" fill="#4f0000"/><rect x="495.42" y="30.5" width="611.08" height="531.0" fill="#520000"/><rect x="496.68" y="30.5" width="609.82" height="531.0" fill="#510000"/><rect x="497.94" y="30.5" width="608.56" height="531.0" fill="#4f0000"/><rect x="499.20" y="30.5" width="607.30" height="531.0" fill="#470000"/><rect x="500.46" y="30.5" width="606.04" height="531.0" fill="#500000"/><rect x="501.72" y="30.5" width="604.78" height="531.0" fill="#510000"/><rect x="502.98" y="30.5" width="603.52" height="531.0" fill="#4a0000"/><rect x="504.24" y="30.5" width="602.26" height="531.0" fill="#4d0000"/><rect x="505.50" y="30.5" width="601.00" height="531.0" fill="#4f0000"/><rect x="506.76" y="30.5" width="599.74" height="531.0" fill="#4b0000"/><rect x="508.02" y="30.5" width="598.48" height="531.0" fill="#550000"/><rect x="509.28" y="30.5" width="597.22" height="531.0" fill="#530000"/><rect x="510.54" y="30.5" width="595.96" height="531.0" fill="#4e0000"/><rect x="511.80" y="30.5" width="594.70" height="531.0" fill="#500000"/><rect x="513.06" y="30.5" width="593.44" height="531.0" fill="#4e0000"/><rect x="514.32" y="30.5" width="592.18" height="531.0" fill="#490000"/><rect x="516.84" y="30.5" width="589.66" height="531.0" fill="#440000"/><rect x="518.10" y="30.5" width="588.40" height="531.0" fill="#400000"/><rect x="519.36" y="30.5" width="587.14" height="531.0" fill="#4a0000"/><rect x="520.62" y="30.5" width="585.88" height="531.0" fill="#4d0000"/><rect x="521.88" y="30.5" width="584.62" height="531.0" fill="#4f0000"/><rect x="523.14" y="30.5" width="583.36" height="531.0" fill="#490000"/><rect x="524.40" y="30.5" width="582.10" height="531.0" fill="#480000"/><rect x="525.66" y="30.5" width="580.84" height="531.0" fill="#4f0000"/><rect x="526.92" y="30.5" width="579.58" height="531.0" fill="#4a0000"/><rect x="528.18" y="30.5" width="578.32" height="531.0" fill="#490000"/><rect x="529.44" y="30.5" width="577.06" height="531.0" fill="#480000"/><rect x="530.70" y="30.5" width="575.80" height="531.0" fill="#460000"/><rect x="531.96" y="30.5" width="574.54" height="531.0" fill="#480000"/><rect x="533.22" y="30.5" width="573.28" height="531.0" fill="#490000"/><rect x="534.48" y="30.5" width="572.02" height="531.0" fill="#4b0000"/><rect x="535.74" y="30.5" width="570.76" height="531.0" fill="#520000"/><rect x="537.00" y="30.5" width="569.50" height="531.0" fill="#580000"/><rect x="538.26" y="30.5" width="568.24" height="531.0" fill="#4d0000"/><rect x="539.52" y="30.5" width="566.98" height="531.0" fill="#4e0000"/><rect x="540.78" y="30.5" width="565.72" height="531.0" fill="#4c0000"/><rect x="543.30" y="30.5" width="563.20" height="531.0" fill="#530000"/><rect x="544.56" y="30.5" width="561.94" height="531.0" fill="#4f0000"/><rect x="545.82" y="30.5" width="560.68" height="531.0" fill="#4d0000"/><rect x="547.08" y="30.5" width="559.42" height="531.0" fill="#4b0000"/><rect x="548.34" y="30.5" width="558.16" height="531.0" fill="#4c0000"/><rect x="549.60" y="30.5" width="556.90" height="531.0" fill="#490000"/><rect x="550.86" y="30.5" width="555.64" height="531.0" fill="#4b0000"/><rect x="552.12" y="30.5" width="554.38" height="531.0" fill="#470000"/><rect x="553.38" y="30.5" width="553.12" height="531.0" fill="#4b0000"/><rect x="554.64" y="30.5" width="551.86" height="531.0" fill="#580000"/><rect x="555.90" y="30.5" width="550.60" height="531.0" fill="#5e0000"/><rect x="557.16" y="30.5" width="549.34" height="531.0" fill="#630000"/><rect x="558.42" y="30.5" width="548.08" height="531.0" fill="#640000"/><rect x="559.68" y="30.5" width="546.82" height="531.0" fill="#690000"/><rect x="562.20" y="30.5" width="544.30" height="531.0" fill="#670000"/><rect x="563.46" y="30.5" width="543.04" height="531.0" fill="#6c0000"/><rect x="564.72" y="30.5" width="541.78" height="531.0" fill="#6e0000"/><rect x="565.98" y="30.5" width="540.52" height="531.0" fill="#6f0000"/><rect x="567.24" y="30.5" width="539.26" height="531.0" fill="#690000"/><rect x="568.50" y="30.5" width="538.00" height="531.0" fill="#6e0000"/><rect x="569.76" y="30.5" width="536.74" height="531.0" fill="#6c0000"/><rect x="571.02" y="30.5" width="535.48" height="531.0" fill="#700000"/><rect x="572.28" y="30.5" width="534.22" height="531.0" fill="#6e0000"/><rect x="573.54" y="30.5" width="532.96" height="531.0" fill="#6f0000"/><rect x="576.06" y="30.5" width="530.44" height="531.0" fill="#6a0000"/><rect x="577.32" y="30.5" width="529.18" height="531.0" fill="#6e0000"/><rect x="578.58" y="30.5" width="527.92" height="531.0" fill="#6f0000"/><rect x="579.84" y="30.5" width="526.66" height="531.0" fill="#6b0000"/><rect x="581.10" y="30.5" width="525.40" height="531.0" fill="#660000"/><rect x="582.36" y="30.5" width="524.14" height="531.0" fill="#5c0000"/><rect x="583.62" y="30.5" width="522.88" height="531.0" fill="#600000"/><rect x="584.88" y="30.5" width="521.62" height="531.0" fill="#5c0000"/><rect x="586.14" y="30.5" width="520.36" height="531.0" fill="#5b0000"/><rect x="587.40" y="30.5" width="519.10" height="531.0" fill="#590000"/><rect x="588.66" y="30.5" width="517.84" height="531.0" fill="#5f0000"/><rect x="589.92" y="30.5" width="516.58" height="531.0" fill="#5d0000"/><rect x="591.18" y="30.5" width="515.32" height="531.0" fill="#5a0000"/><rect x="592.44" y="30.5" width="514.06" height="531.0" fill="#4c0000"/><rect x="593.70" y="30.5" width="512.80" height="531.0" fill="#540000"/><rect x="594.96" y="30.5" width="511.54" height="531.0" fill="#5d0000"/><rect x="596.22" y="30.5" width="510.28" height="531.0" fill="#5c0000"/><rect x="597.48" y="30.5" width="509.02" height="531.0" fill="#550000"/><rect x="598.74" y="30.5" width="507.76" height="531.0" fill="#590000"/><rect x="600.00" y="30.5" width="506.50" height="531.0" fill="#5b0000"/><rect x="601.26" y="30.5" width="505.24" height="531.0" fill="#580000"/><rect x="602.52" y="30.5" width="503.98" height="531.0" fill="#530000"/><rect x="603.78" y="30.5" width="502.72" height="531.0" fill="#550000"/><rect x="605.04" y="30.5" width="501.46" height="531.0" fill="#570000"/><rect x="606.30" y="30.5" width="500.20" height="531.0" fill="#560000"/><rect x="607.56" y="30.5" width="498.94" height="531.0" fill="#530000"/><rect x="608.82" y="30.5" width="497.68" height="531.0" fill="#540000"/><rect x="610.08" y="30.5" width="496.42" height="531.0" fill="#530000"/><rect x="611.34" y="30.5" width="495.16" height="531.0" fill="#520000"/><rect x="612.60" y="30.5" width="493.90" height="531.0" fill="#4e0000"/><rect x="613.86" y="30.5" width="492.64" height="531.0" fill="#520000"/><rect x="615.12" y="30.5" width="491.38" height="531.0" fill="#500000"/><rect x="616.38" y="30.5" width="490.12" height="531.0" fill="#570000"/><rect x="617.64" y="30.5" width="488.86" height="531.0" fill="#520000"/><rect x="618.90" y="30.5" width="487.60" height="531.0" fill="#5b0000"/><rect x="620.16" y="30.5" width="486.34" height="531.0" fill="#570000"/><rect x="621.42" y="30.5" width="485.08" height="531.0" fill="#4c0000"/><rect x="622.68" y="30.5" width="483.82" height="531.0" fill="#500000"/><rect x="623.94" y="30.5" width="482.56" height="531.0" fill="#510000"/><rect x="625.20" y="30.5" width="481.30" height="531.0" fill="#530000"/><rect x="626.46" y="30.5" width="480.04" height="531.0" fill="#520000"/><rect x="627.72" y="30.5" width="478.78" height="531.0" fill="#540000"/><rect x="628.98" y="30.5" width="477.52" height="531.0" fill="#560000"/><rect x="630.24" y="30.5" width="476.26" height="531.0" fill="#550000"/><rect x="631.50" y="30.5" width="475.00" height="531.0" fill="#520000"/><rect x="632.76" y="30.5" width="473.74" height="531.0" fill="#530000"/><rect x="635.28" y="30.5" width="471.22" height="531.0" fill="#550000"/><rect x="636.54" y="30.5" width="469.96" height="531.0" fill="#530000"/><rect x="637.80" y="30.5" width="468.70" height="531.0" fill="#550000"/><rect x="639.06" y="30.5" width="467.44" height="531.0" fill="#5b0000"/><rect x="640.32" y="30.5" width="466.18" height="531.0" fill="#550000"/><rect x="641.58" y="30.5" width="464.92" height="531.0" fill="#530000"/><rect x="642.84" y="30.5" width="463.66" height="531.0" fill="#570000"/><rect x="644.10" y="30.5" width="462.40" height="531.0" fill="#560000"/><rect x="645.36" y="30.5" width="461.14" height="531.0" fill="#490000"/><rect x="646.62" y="30.5" width="459.88" height="531.0" fill="#540000"/><rect x="647.88" y="30.5" width="458.62" height="531.0" fill="#490000"/><rect x="649.14" y="30.5" width="457.36" height="531.0" fill="#4d0000"/><rect x="650.40" y="30.5" width="456.10" height="531.0" fill="#490000"/><rect x="651.66" y="30.5" width="454.84" height="531.0" fill="#4c0000"/><rect x="652.92" y="30.5" width="453.58" height="531.0" fill="#530000"/><rect x="655.44" y="30.5" width="451.06" height="531.0" fill="#540000"/><rect x="656.70" y="30.5" width="449.80" height="531.0" fill="#550000"/><rect x="657.96" y="30.5" width="448.54" height="531.0" fill="#520000"/><rect x="659.22" y="30.5" width="447.28" height="531.0" fill="#510000"/><rect x="660.48" y="30.5" width="446.02" height="531.0" fill="#500000"/><rect x="661.74" y="30.5" width="444.76" height="531.0" fill="#530000"/><rect x="663.00" y="30.5" width="443.50" height="531.0" fill="#4e0000"/><rect x="664.26" y="30.5" width="442.24" height="531.0" fill="#4f0000"/><rect x="665.52" y="30.5" width="440.98" height="531.0" fill="#510000"/><rect x="666.78" y="30.5" width="439.72" height="531.0" fill="#590000"/><rect x="668.04" y="30.5" width="438.46" height="531.0" fill="#5b0000"/><rect x="669.30" y="30.5" width="437.20" height="531.0" fill="#570000"/><rect x="670.56" y="30.5" width="435.94" height="531.0" fill="#4d0000"/><rect x="671.82" y="30.5" width="434.68" height="531.0" fill="#4c0000"/><rect x="673.08" y="30.5" width="433.42" height="531.0" fill="#510000"/><rect x="674.34" y="30.5" width="432.16" height="531.0" fill="#4c0000"/><rect x="675.60" y="30.5" width="430.90" height="531.0" fill="#520000"/><rect x="676.86" y="30.5" width="429.64" height="531.0" fill="#540000"/><rect x="678.12" y="30.5" width="428.38" height="531.0" fill="#510000"/><rect x="679.38" y="30.5" width="427.12" height="531.0" fill="#520000"/><rect x="680.64" y="30.5" width="425.86" height="531.0" fill="#550000"/><rect x="681.90" y="30.5" width="424.60" height="531.0" fill="#5c0000"/><rect x="683.16" y="30.5" width="423.34" height="531.0" fill="#580000"/><rect x="684.42" y="30.5" width="422.08" height="531.0" fill="#530000"/><rect x="685.68" y="30.5" width="420.82" height="531.0" fill="#500000"/><rect x="686.94" y="30.5" width="419.56" height="531.0" fill="#4c0000"/><rect x="688.20" y="30.5" width="418.30" height="531.0" fill="#4f0000"/><rect x="689.46" y="30.5" width="417.04" height="531.0" fill="#510000"/><rect x="690.72" y="30.5" width="415.78" height="531.0" fill="#4d0000"/><rect x="691.98" y="30.5" width="414.52" height="531.0" fill="#500000"/><rect x="693.24" y="30.5" width="413.26" height="531.0" fill="#520000"/><rect x="695.76" y="30.5" width="410.74" height="531.0" fill="#4f0000"/><rect x="697.02" y="30.5" width="409.48" height="531.0" fill="#490000"/><rect x="698.28" y="30.5" width="408.22" height="531.0" fill="#4f0000"/><rect x="699.54" y="30.5" width="406.96" height="531.0" fill="#550000"/><rect x="700.80" y="30.5" width="405.70" height="531.0" fill="#520000"/><rect x="702.06" y="30.5" width="404.44" height="531.0" fill="#510000"/><rect x="704.58" y="30.5" width="401.92" height="531.0" fill="#4e0000"/><rect x="705.84" y="30.5" width="400.66" height="531.0" fill="#4c0000"/><rect x="707.10" y="30.5" width="399.40" height="531.0" fill="#4a0000"/><rect x="708.36" y="30.5" width="398.14" height="531.0" fill="#4e0000"/><rect x="709.62" y="30.5" width="396.88" height="531.0" fill="#4d0000"/><rect x="710.88" y="30.5" width="395.62" height="531.0" fill="#510000"/><rect x="712.14" y="30.5" width="394.36" height="531.0" fill="#4f0000"/><rect x="714.66" y="30.5" width="391.84" height="531.0" fill="#4e0000"/><rect x="717.18" y="30.5" width="389.32" height="531.0" fill="#500000"/><rect x="718.44" y="30.5" width="388.06" height="531.0" fill="#520000"/><rect x="719.70" y="30.5" width="386.80" height="531.0" fill="#530000"/><rect x="720.96" y="30.5" width="385.54" height="531.0" fill="#4d0000"/><rect x="722.22" y="30.5" width="384.28" height="531.0" fill="#5c0000"/><rect x="723.48" y="30.5" width="383.02" height="531.0" fill="#630000"/><rect x="724.74" y="30.5" width="381.76" height="531.0" fill="#640000"/><rect x="726.00" y="30.5" width="380.50" height="531.0" fill="#5e0000"/><rect x="727.25" y="30.5" width="379.25" height="531.0" fill="#610000"/><rect x="728.51" y="30.5" width="377.99" height="531.0" fill="#620000"/><rect x="729.77" y="30.5" width="376.73" height="531.0" fill="#660000"/><rect x="731.03" y="30.5" width="375.47" height="531.0" fill="#610000"/><rect x="732.29" y="30.5" width="374.21" height="531.0" fill="#620000"/><rect x="733.55" y="30.5" width="372.95" height="531.0" fill="#660000"/><rect x="734.81" y="30.5" width="371.69" height="531.0" fill="#5f0000"/><rect x="736.07" y="30.5" width="370.43" height="531.0" fill="#620000"/><rect x="737.33" y="30.5" width="369.17" height="531.0" fill="#640000"/><rect x="738.59" y="30.5" width="367.91" height="531.0" fill="#5e0000"/><rect x="739.85" y="30.5" width="366.65" height="531.0" fill="#670000"/><rect x="741.11" y="30.5" width="365.39" height="531.0" fill="#5a0000"/><rect x="742.37" y="30.5" width="364.13" height="531.0" fill="#600000"/><rect x="743.63" y="30.5" width="362.87" height="531.0" fill="#630000"/><rect x="744.89" y="30.5" width="361.61" height="531.0" fill="#610000"/><rect x="746.15" y="30.5" width="360.35" height="531.0" fill="#5b0000"/><rect x="747.41" y="30.5" width="359.09" height="531.0" fill="#5e0000"/><rect x="748.67" y="30.5" width="357.83" height="531.0" fill="#600000"/><rect x="751.19" y="30.5" width="355.31" height="531.0" fill="#610000"/><rect x="752.45" y="30.5" width="354.05" height="531.0" fill="#650000"/><rect x="753.71" y="30.5" width="352.79" height="531.0" fill="#5e0000"/><rect x="754.97" y="30.5" width="351.53" height="531.0" fill="#630000"/><rect x="756.23" y="30.5" width="350.27" height="531.0" fill="#6a0000"/><rect x="757.49" y="30.5" width="349.01" height="531.0" fill="#620000"/><rect x="758.75" y="30.5" width="347.75" height="531.0" fill="#5b0000"/><rect x="760.01" y="30.5" width="346.49" height="531.0" fill="#610000"/><rect x="761.27" y="30.5" width="345.23" height="531.0" fill="#620000"/><rect x="762.53" y="30.5" width="343.97" height="531.0" fill="#610000"/><rect x="763.79" y="30.5" width="342.71" height="531.0" fill="#590000"/><rect x="766.31" y="30.5" width="340.19" height="531.0" fill="#5d0000"/><rect x="767.57" y="30.5" width="338.93" height="531.0" fill="#540000"/><rect x="768.83" y="30.5" width="337.67" height="531.0" fill="#570000"/><rect x="770.09" y="30.5" width="336.41" height="531.0" fill="#5d0000"/><rect x="771.35" y="30.5" width="335.15" height="531.0" fill="#610000"/><rect x="772.61" y="30.5" width="333.89" height="531.0" fill="#630000"/><rect x="773.87" y="30.5" width="332.63" height="531.0" fill="#590000"/><rect x="775.13" y="30.5" width="331.37" height="531.0" fill="#5b0000"/><rect x="777.65" y="30.5" width="328.85" height="531.0" fill="#660000"/><rect x="778.91" y="30.5" width="327.59" height="531.0" fill="#5a0000"/><rect x="780.17" y="30.5" width="326.33" height="531.0" fill="#5b0000"/><rect x="781.43" y="30.5" width="325.07" height="531.0" fill="#640000"/><rect x="782.69" y="30.5" width="323.81" height="531.0" fill="#660000"/><rect x="783.95" y="30.5" width="322.55" height="531.0" fill="#620000"/><rect x="785.21" y="30.5" width="321.29" height="531.0" fill="#610000"/><rect x="786.47" y="30.5" width="320.03" height="531.0" fill="#650000"/><rect x="787.73" y="30.5" width="318.77" height="531.0" fill="#640000"/><rect x="788.99" y="30.5" width="317.51" height="531.0" fill="#5c0000"/><rect x="790.25" y="30.5" width="316.25" height="531.0" fill="#580000"/><rect x="791.51" y="30.5" width="314.99" height="531.0" fill="#5f0000"/><rect x="794.03" y="30.5" width="312.47" height="531.0" fill="#5a0000"/><rect x="795.29" y="30.5" width="311.21" height="531.0" fill="#5e0000"/><rect x="796.55" y="30.5" width="309.95" height="531.0" fill="#5a0000"/><rect x="797.81" y="30.5" width="308.69" height="531.0" fill="#620000"/><rect x="799.07" y="30.5" width="307.43" height="531.0" fill="#7f0000"/><rect x="800.33" y="30.5" width="306.17" height="531.0" fill="#860000"/><rect x="801.59" y="30.5" width="304.91" height="531.0" fill="#7f0000"/><rect x="802.85" y="30.5" width="303.65" height="531.0" fill="#7c0000"/><rect x="804.11" y="30.5" width="302.39" height="531.0" fill="#7e0000"/><rect x="805.37" y="30.5" width="301.13" height="531.0" fill="#7c0000"/><rect x="806.63" y="30.5" width="299.87" height="531.0" fill="#780000"/><rect x="807.89" y="30.5" width="298.61" height="531.0" fill="#830000"/><rect x="809.15" y="30.5" width="297.35" height="531.0" fill="#810000"/><rect x="810.41" y="30.5" width="296.09" height="531.0" fill="#7c0000"/><rect x="811.67" y="30.5" width="294.83" height="531.0" fill="#860000"/><rect x="814.19" y="30.5" width="292.31" height="531.0" fill="#820000"/><rect x="815.45" y="30.5" width="291.05" height="531.0" fill="#800000"/><rect x="816.71" y="30.5" width="289.79" height="531.0" fill="#7b0000"/><rect x="817.97" y="30.5" width="288.53" height="531.0" fill="#7c0000"/><rect x="819.23" y="30.5" width="287.27" height="531.0" fill="#7b0000"/><rect x="820.49" y="30.5" width="286.01" height="531.0" fill="#850000"/><rect x="821.75" y="30.5" width="284.75" height="531.0" fill="#8e0000"/><rect x="823.01" y="30.5" width="283.49" height="531.0" fill="#880000"/><rect x="824.27" y="30.5" width="282.23" height="531.0" fill="#7f0000"/><rect x="825.53" y="30.5" width="280.97" height="531.0" fill="#820000"/><rect x="826.79" y="30.5" width="279.71" height="531.0" fill="#800000"/><rect x="828.05" y="30.5" width="278.45" height="531.0" fill="#7f0000"/><rect x="829.31" y="30.5" width="277.19" height="531.0" fill="#7a0000"/><rect x="830.57" y="30.5" width="275.93" height="531.0" fill="#740000"/><rect x="831.83" y="30.5" width="274.67" height="531.0" fill="#7c0000"/><rect x="833.09" y="30.5" width="273.41" height="531.0" fill="#870000"/><rect x="835.61" y="30.5" width="270.89" height="531.0" fill="#920000"/><rect x="836.87" y="30.5" width="269.63" height="531.0" fill="#8c0000"/><rect x="838.13" y="30.5" width="268.37" height="531.0" fill="#880000"/><rect x="839.39" y="30.5" width="267.11" height="531.0" fill="#8a0000"/><rect x="840.65" y="30.5" width="265.85" height="531.0" fill="#890000"/><rect x="841.91" y="30.5" width="264.59" height="531.0" fill="#8b0000"/><rect x="843.17" y="30.5" width="263.33" height="531.0" fill="#870000"/><rect x="844.43" y="30.5" width="262.07" height="531.0" fill="#850000"/><rect x="846.95" y="30.5" width="259.55" height="531.0" fill="#870000"/><rect x="848.21" y="30.5" width="258.29" height="531.0" fill="#880000"/><rect x="850.73" y="30.5" width="255.77" height="531.0" fill="#830000"/><rect x="851.99" y="30.5" width="254.51" height="531.0" fill="#800000"/><rect x="854.51" y="30.5" width="251.99" height="531.0" fill="#830000"/><rect x="855.77" y="30.5" width="250.73" height="531.0" fill="#800000"/><rect x="857.03" y="30.5" width="249.47" height="531.0" fill="#830000"/><rect x="858.29" y="30.5" width="248.21" height="531.0" fill="#810000"/><rect x="859.55" y="30.5" width="246.95" height="531.0" fill="#7b0000"/><rect x="860.81" y="30.5" width="245.69" height="531.0" fill="#780000"/><rect x="862.07" y="30.5" width="244.43" height="531.0" fill="#7c0000"/><rect x="863.33" y="30.5" width="243.17" height="531.0" fill="#800000"/><rect x="864.59" y="30.5" width="241.91" height="531.0" fill="#790000"/><rect x="865.85" y="30.5" width="240.65" height="531.0" fill="#7b0000"/><rect x="867.11" y="30.5" width="239.39" height="531.0" fill="#840000"/><rect x="868.37" y="30.5" width="238.13" height="531.0" fill="#7f0000"/><rect x="870.89" y="30.5" width="235.61" height="531.0" fill="#800000"/><rect x="872.15" y="30.5" width="234.35" height="531.0" fill="#7f0000"/><rect x="873.41" y="30.5" width="233.09" height="531.0" fill="#810000"/><rect x="875.93" y="30.5" width="230.57" height="531.0" fill="#830000"/><rect x="877.19" y="30.5" width="229.31" height="531.0" fill="#860000"/><rect x="878.45" y="30.5" width="228.05" height="531.0" fill="#7f0000"/><rect x="879.71" y="30.5" width="226.79" height="531.0" fill="#870000"/><rect x="880.97" y="30.5" width="225.53" height="531.0" fill="#850000"/><rect x="882.23" y="30.5" width="224.27" height="531.0" fill="#870000"/><rect x="884.75" y="30.5" width="221.75" height="531.0" fill="#8a0000"/><rect x="886.01" y="30.5" width="220.49" height="531.0" fill="#850000"/><rect x="887.27" y="30.5" width="219.23" height="531.0" fill="#7e0000"/><rect x="888.53" y="30.5" width="217.97" height="531.0" fill="#810000"/><rect x="889.79" y="30.5" width="216.71" height="531.0" fill="#840000"/><rect x="891.05" y="30.5" width="215.45" height="531.0" fill="#850000"/><rect x="892.31" y="30.5" width="214.19" height="531.0" fill="#820000"/><rect x="893.57" y="30.5" width="212.93" height="531.0" fill="#840000"/><rect x="894.83" y="30.5" width="211.67" height="531.0" fill="#7a0000"/><rect x="896.09" y="30.5" width="210.41" height="531.0" fill="#830000"/><rect x="897.35" y="30.5" width="209.15" height="531.0" fill="#7f0000"/><rect x="899.87" y="30.5" width="206.63" height="531.0" fill="#850000"/><rect x="901.13" y="30.5" width="205.37" height="531.0" fill="#840000"/><rect x="902.39" y="30.5" width="204.11" height="531.0" fill="#780000"/><rect x="903.65" y="30.5" width="202.85" height="531.0" fill="#790000"/><rect x="904.91" y="30.5" width="201.59" height="531.0" fill="#7f0000"/><rect x="907.43" y="30.5" width="199.07" height="531.0" fill="#7e0000"/><rect x="908.69" y="30.5" width="197.81" height="531.0" fill="#7a0000"/><rect x="909.95" y="30.5" width="196.55" height="531.0" fill="#7e0000"/><rect x="911.21" y="30.5" width="195.29" height="531.0" fill="#7d0000"/><rect x="912.47" y="30.5" width="194.03" height="531.0" fill="#7c0000"/><rect x="913.73" y="30.5" width="192.77" height="531.0" fill="#790000"/><rect x="914.99" y="30.5" width="191.51" height="531.0" fill="#730000"/><rect x="917.51" y="30.5" width="188.99" height="531.0" fill="#780000"/><rect x="918.77" y="30.5" width="187.73" height="531.0" fill="#7b0000"/><rect x="920.03" y="30.5" width="186.47" height="531.0" fill="#7c0000"/><rect x="921.29" y="30.5" width="185.21" height="531.0" fill="#7e0000"/><rect x="922.55" y="30.5" width="183.95" height="531.0" fill="#810000"/><rect x="923.81" y="30.5" width="182.69" height="531.0" fill="#820000"/><rect x="925.07" y="30.5" width="181.43" height="531.0" fill="#810000"/><rect x="927.59" y="30.5" width="178.91" height="531.0" fill="#7c0000"/><rect x="928.85" y="30.5" width="177.65" height="531.0" fill="#790000"/><rect x="930.11" y="30.5" width="176.39" height="531.0" fill="#720000"/><rect x="931.37" y="30.5" width="175.13" height="531.0" fill="#810000"/><rect x="932.63" y="30.5" width="173.87" height="531.0" fill="#870000"/><rect x="933.89" y="30.5" width="172.61" height="531.0" fill="#890000"/><rect x="935.15" y="30.5" width="171.35" height="531.0" fill="#850000"/><rect x="936.41" y="30.5" width="170.09" height="531.0" fill="#810000"/><rect x="937.67" y="30.5" width="168.83" height="531.0" fill="#830000"/><rect x="938.93" y="30.5" width="167.57" height="531.0" fill="#7d0000"/><rect x="940.19" y="30.5" width="166.31" height="531.0" fill="#7a0000"/><rect x="941.45" y="30.5" width="165.05" height="531.0" fill="#830000"/><rect x="942.71" y="30.5" width="163.79" height="531.0" fill="#860000"/><rect x="943.97" y="30.5" width="162.53" height="531.0" fill="#870000"/><rect x="945.23" y="30.5" width="161.27" height="531.0" fill="#7d0000"/><rect x="946.49" y="30.5" width="160.01" height="531.0" fill="#800000"/><rect x="947.75" y="30.5" width="158.75" height="531.0" fill="#840000"/><rect x="949.01" y="30.5" width="157.49" height="531.0" fill="#850000"/><rect x="950.27" y="30.5" width="156.23" height="531.0" fill="#830000"/><rect x="951.53" y="30.5" width="154.97" height="531.0" fill="#810000"/><rect x="952.79" y="30.5" width="153.71" height="531.0" fill="#7a0000"/><rect x="954.05" y="30.5" width="152.45" height="531.0" fill="#7d0000"/><rect x="955.31" y="30.5" width="151.19" height="531.0" fill="#780000"/><rect x="957.83" y="30.5" width="148.67" height="531.0" fill="#790000"/><rect x="960.35" y="30.5" width="146.15" height="531.0" fill="#780000"/><rect x="961.61" y="30.5" width="144.89" height="531.0" fill="#750000"/><rect x="962.87" y="30.5" width="143.63" height="531.0" fill="#720000"/><rect x="964.13" y="30.5" width="142.37" height="531.0" fill="#6b0000"/><rect x="965.39" y="30.5" width="141.11" height="531.0" fill="#6a0000"/><rect x="966.65" y="30.5" width="139.85" height="531.0" fill="#6b0000"/><rect x="967.91" y="30.5" width="138.59" height="531.0" fill="#6e0000"/><rect x="969.17" y="30.5" width="137.33" height="531.0" fill="#750000"/><rect x="970.43" y="30.5" width="136.07" height="531.0" fill="#6e0000"/><rect x="971.69" y="30.5" width="134.81" height="531.0" fill="#700000"/><rect x="974.21" y="30.5" width="132.29" height="531.0" fill="#690000"/><rect x="975.47" y="30.5" width="131.03" height="531.0" fill="#740000"/><rect x="976.73" y="30.5" width="129.77" height="531.0" fill="#780000"/><rect x="977.99" y="30.5" width="128.51" height="531.0" fill="#720000"/><rect x="979.25" y="30.5" width="127.25" height="531.0" fill="#6f0000"/><rect x="981.76" y="30.5" width="124.74" height="531.0" fill="#720000"/><rect x="983.02" y="30.5" width="123.48" height="531.0" fill="#7a0000"/><rect x="984.28" y="30.5" width="122.22" height="531.0" fill="#790000"/><rect x="985.54" y="30.5" width="120.96" height="531.0" fill="#700000"/><rect x="986.80" y="30.5" width="119.70" height="531.0" fill="#670000"/><rect x="988.06" y="30.5" width="118.44" height="531.0" fill="#620000"/><rect x="989.32" y="30.5" width="117.18" height="531.0" fill="#6b0000"/><rect x="990.58" y="30.5" width="115.92" height="531.0" fill="#670000"/><rect x="991.84" y="30.5" width="114.66" height="531.0" fill="#660000"/><rect x="993.10" y="30.5" width="113.40" height="531.0" fill="#600000"/><rect x="994.36" y="30.5" width="112.14" height="531.0" fill="#680000"/><rect x="995.62" y="30.5" width="110.88" height="531.0" fill="#5f0000"/><rect x="996.88" y="30.5" width="109.62" height="531.0" fill="#600000"/><rect x="998.14" y="30.5" width="108.36" height="531.0" fill="#660000"/><rect x="999.40" y="30.5" width="107.10" height="531.0" fill="#6d0000"/><rect x="1000.66" y="30.5" width="105.84" height="531.0" fill="#6e0000"/><rect x="1001.92" y="30.5" width="104.58" height="531.0" fill="#6c0000"/><rect x="1003.18" y="30.5" width="103.32" height="531.0" fill="#680000"/><rect x="1004.44" y="30.5" width="102.06" height="531.0" fill="#670000"/><rect x="1005.70" y="30.5" width="100.80" height="531.0" fill="#730000"/><rect x="1006.96" y="30.5" width="99.54" height="531.0" fill="#780000"/><rect x="1008.22" y="30.5" width="98.28" height="531.0" fill="#750000"/><rect x="1009.48" y="30.5" width="97.02" height="531.0" fill="#710000"/><rect x="1010.74" y="30.5" width="95.76" height="531.0" fill="#680000"/><rect x="1012.00" y="30.5" width="94.50" height="531.0" fill="#660000"/><rect x="1013.26" y="30.5" width="93.24" height="531.0" fill="#640000"/><rect x="1015.78" y="30.5" width="90.72" height="531.0" fill="#690000"/><rect x="1017.04" y="30.5" width="89.46" height="531.0" fill="#670000"/><rect x="1018.30" y="30.5" width="88.20" height="531.0" fill="#6b0000"/><rect x="1019.56" y="30.5" width="86.94" height="531.0" fill="#6c0000"/><rect x="1020.82" y="30.5" width="85.68" height="531.0" fill="#6d0000"/><rect x="1022.08" y="30.5" width="84.42" height="531.0" fill="#710000"/><rect x="1024.60" y="30.5" width="81.90" height="531.0" fill="#6e0000"/><rect x="1025.86" y="30.5" width="80.64" height="531.0" fill="#700000"/><rect x="1027.12" y="30.5" width="79.38" height="531.0" fill="#730000"/><rect x="1028.38" y="30.5" width="78.12" height="531.0" fill="#710000"/><rect x="1029.64" y="30.5" width="76.86" height="531.0" fill="#720000"/><rect x="1030.90" y="30.5" width="75.60" height="531.0" fill="#700000"/><rect x="1032.16" y="30.5" width="74.34" height="531.0" fill="#710000"/><rect x="1033.42" y="30.5" width="73.08" height="531.0" fill="#750000"/><rect x="1034.68" y="30.5" width="71.82" height="531.0" fill="#6f0000"/><rect x="1037.20" y="30.5" width="69.30" height="531.0" fill="#6b0000"/><rect x="1038.46" y="30.5" width="68.04" height="531.0" fill="#670000"/><rect x="1039.72" y="30.5" width="66.78" height="531.0" fill="#640000"/><rect x="1040.98" y="30.5" width="65.52" height="531.0" fill="#6c0000"/><rect x="1042.24" y="30.5" width="64.26" height="531.0" fill="#710000"/><rect x="1043.50" y="30.5" width="63.00" height="531.0" fill="#770000"/><rect x="1044.76" y="30.5" width="61.74" height="531.0" fill="#7b0000"/><rect x="1046.02" y="30.5" width="60.48" height="531.0" fill="#740000"/><rect x="1047.28" y="30.5" width="59.22" height="531.0" fill="#7b0000"/><rect x="1048.54" y="30.5" width="57.96" height="531.0" fill="#7e0000"/><rect x="1049.80" y="30.5" width="56.70" height="531.0" fill="#7c0000"/><rect x="1051.06" y="30.5" width="55.44" height="531.0" fill="#7d0000"/><rect x="1052.32" y="30.5" width="54.18" height="531.0" fill="#7e0000"/><rect x="1053.58" y="30.5" width="52.92" height="531.0" fill="#820000"/><rect x="1054.84" y="30.5" width="51.66" height="531.0" fill="#800000"/><rect x="1056.10" y="30.5" width="50.40" height="531.0" fill="#830000"/><rect x="1057.36" y="30.5" width="49.14" height="531.0" fill="#860000"/><rect x="1058.62" y="30.5" width="47.88" height="531.0" fill="#8c0000"/><rect x="1059.88" y="30.5" width="46.62" height="531.0" fill="#850000"/><rect x="1061.14" y="30.5" width="45.36" height="531.0" fill="#810000"/><rect x="1062.40" y="30.5" width="44.10" height="531.0" fill="#7c0000"/><rect x="1063.66" y="30.5" width="42.84" height="531.0" fill="#790000"/><rect x="1064.92" y="30.5" width="41.58" height="531.0" fill="#7b0000"/><rect x="1066.18" y="30.5" width="40.32" height="531.0" fill="#820000"/><rect x="1067.44" y="30.5" width="39.06" height="531.0" fill="#7d0000"/><rect x="1068.70" y="30.5" width="37.80" height="531.0" fill="#7e0000"/><rect x="1069.96" y="30.5" width="36.54" height="531.0" fill="#7f0000"/><rect x="1071.22" y="30.5" width="35.28" height="531.0" fill="#7a0000"/><rect x="1072.48" y="30.5" width="34.02" height="531.0" fill="#720000"/><rect x="1073.74" y="30.5" width="32.76" height="531.0" fill="#730000"/><rect x="1075.00" y="30.5" width="31.50" height="531.0" fill="#720000"/><rect x="1076.26" y="30.5" width="30.24" height="531.0" fill="#710000"/><rect x="1077.52" y="30.5" width="28.98" height="531.0" fill="#6e0000"/><rect x="1078.78" y="30.5" width="27.72" height="531.0" fill="#670000"/><rect x="1080.04" y="30.5" width="26.46" height="531.0" fill="#6b0000"/><rect x="1081.30" y="30.5" width="25.20" height="531.0" fill="#750000"/><rect x="1082.56" y="30.5" width="23.94" height="531.0" fill="#740000"/><rect x="1083.82" y="30.5" width="22.68" height="531.0" fill="#710000"/><rect x="1085.08" y="30.5" width="21.42" height="531.0" fill="#780000"/><rect x="1086.34" y="30.5" width="20.16" height="531.0" fill="#6c0000"/><rect x="1087.60" y="30.5" width="18.90" height="531.0" fill="#750000"/><rect x="1088.86" y="30.5" width="17.64" height="531.0" fill="#780000"/><rect x="1090.12" y="30.5" width="16.38" height="531.0" fill="#750000"/><rect x="1091.38" y="30.5" width="15.12" height="531.0" fill="#770000"/><rect x="1092.64" y="30.5" width="13.86" height="531.0" fill="#730000"/><rect x="1093.90" y="30.5" width="12.60" height="531.0" fill="#6c0000"/><rect x="1095.16" y="30.5" width="11.34" height="531.0" fill="#650000"/><rect x="1096.42" y="30.5" width="10.08" height="531.0" fill="#640000"/><rect x="1097.68" y="30.5" width="8.82" height="531.0" fill="#690000"/><rect x="1098.94" y="30.5" width="7.56" height="531.0" fill="#670000"/><rect x="1100.20" y="30.5" width="6.30" height="531.0" fill="#6e0000"/><rect x="1102.72" y="30.5" width="3.78" height="531.0" fill="#6c0000"/><rect x="1103.98" y="30.5" width="2.52" height="531.0" fill="#6b0000"/><rect x="1105.24" y="30.5" width="1.26" height="531.0" fill="#6a0000"/></g><g style="mix-blend-mode:screen" opacity="0.485"><use href="#ln" transform="translate(0 541) scale(1 2)"/></g><g style="mix-blend-mode:screen" opacity="0.358"><use href="#ln" transform="translate(0 498) scale(1 2)"/></g><g style="mix-blend-mode:screen" opacity="0.358"><use href="#ln" transform="translate(0 452) scale(1 2)"/></g><g style="mix-blend-mode:screen" opacity="0.281"><use href="#ln" transform="translate(0 408) scale(1 3)"/></g><g style="mix-blend-mode:screen" opacity="0.339"><use href="#ln" transform="translate(0 365) scale(1 3)"/></g><g style="mix-blend-mode:screen" opacity="0.423"><use href="#ln" transform="translate(0 319) scale(1 3)"/></g><g style="mix-blend-mode:screen" opacity="1.000"><use href="#ln" transform="translate(0 276) scale(1 2)"/></g><g style="mix-blend-mode:screen" opacity="0.392"><use href="#ln" transform="translate(0 230) scale(1 3)"/></g><g style="mix-blend-mode:screen" opacity="0.072"><use href="#ln" transform="translate(0 187) scale(1 2)"/></g><g style="mix-blend-mode:screen" opacity="0.082"><use href="#ln" transform="translate(0 141) scale(1 3)"/></g><g style="mix-blend-mode:screen" opacity="0.436"><use href="#ln" transform="translate(0 98) scale(1 2)"/></g><g style="mix-blend-mode:screen" opacity="0.029"><use href="#ln" transform="translate(0 52) scale(1 3)"/></g><ellipse cx="183" cy="341" rx="31" ry="16" fill="url(#g1a)" transform="rotate(14 183 341)" style="mix-blend-mode:screen"/><ellipse cx="168" cy="337" rx="30" ry="13" fill="url(#g1b)" transform="rotate(8 168 337)" style="mix-blend-mode:screen"/><path d="M85,328 Q130,330 165,337" stroke="#0f0" stroke-width="15" stroke-linecap="round" fill="none" opacity="0.11" filter="url(#b5)" style="mix-blend-mode:screen"/><path d="M192,345.5 L220,347.5 L243,348.5 L258,350 L282,355.5 L305,359 L321,362 L363,365.5 L475,366" stroke="url(#tga)" stroke-width="7.5" fill="none" filter="url(#b2)" style="mix-blend-mode:screen"/><ellipse cx="178" cy="288" rx="20" ry="12.5" fill="url(#g3)" transform="rotate(0 178 288)" style="mix-blend-mode:screen"/><ellipse cx="179" cy="311" rx="16" ry="12" fill="url(#g4)" transform="rotate(0 179 311)" style="mix-blend-mode:screen"/><rect x="166" y="282" width="24" height="48" fill="#0f0" opacity="0.06" filter="url(#b4)" style="mix-blend-mode:screen"/><path d="M425,364 L445,353 L470,347 L483,336 L502,340 L530,352 L565,362 L530,371 L440,372 Z" fill="#0f0" opacity="0.17" filter="url(#b4)" style="mix-blend-mode:screen"/><ellipse cx="501" cy="355" rx="27" ry="15" fill="url(#g2)" transform="rotate(0 501 355)" style="mix-blend-mode:screen"/><ellipse cx="466" cy="359.5" rx="36" ry="11" fill="url(#g5)" transform="rotate(0 466 359.5)" style="mix-blend-mode:screen"/><rect x="440" y="366" width="90" height="6" fill="#0f0" opacity="0.08" filter="url(#b4)" style="mix-blend-mode:screen"/><ellipse cx="1050.9" cy="341" rx="31" ry="16" fill="url(#g1b)" transform="rotate(14 1050.9 341)" style="mix-blend-mode:screen"/><ellipse cx="1035.9" cy="337" rx="30" ry="13" fill="url(#g1b)" transform="rotate(8 1035.9 337)" style="mix-blend-mode:screen"/><path d="M952.9,328 Q997.9,330 1032.9,337" stroke="#0f0" stroke-width="15" stroke-linecap="round" fill="none" opacity="0.11" filter="url(#b5)" style="mix-blend-mode:screen"/><path d="M1059.9,345.5 L1087.9,347.5 L1110.9,348.5 L1125.9,350 L1149.9,355.5 L1172.9,359 L1188.9,362 L1230.9,365.5 L1342.9,366" stroke="url(#tgb)" stroke-width="7.5" fill="none" filter="url(#b2)" style="mix-blend-mode:screen"/><ellipse cx="1045.9" cy="288" rx="20" ry="12.5" fill="url(#g3)" transform="rotate(0 1045.9 288)" style="mix-blend-mode:screen"/><ellipse cx="1046.9" cy="311" rx="16" ry="12" fill="url(#g4)" transform="rotate(0 1046.9 311)" style="mix-blend-mode:screen"/><rect x="1033.9" y="282" width="24" height="48" fill="#0f0" opacity="0.06" filter="url(#b4)" style="mix-blend-mode:screen"/><path d="M1292.9,364 L1312.9,353 L1337.9,347 L1350.9,336 L1369.9,340 L1397.9,352 L1432.9,362 L1397.9,371 L1307.9,372 Z" fill="#0f0" opacity="0.17" filter="url(#b4)" style="mix-blend-mode:screen"/><ellipse cx="1368.9" cy="355" rx="27" ry="15" fill="url(#g2)" transform="rotate(0 1368.9 355)" style="mix-blend-mode:screen"/><ellipse cx="1333.9" cy="359.5" rx="36" ry="11" fill="url(#g5)" transform="rotate(0 1333.9 359.5)" style="mix-blend-mode:screen"/><rect x="1307.9" y="366" width="90" height="6" fill="#0f0" opacity="0.08" filter="url(#b4)" style="mix-blend-mode:screen"/></g></g></g> <g id="matplotlib.axis_1"> <g id="xtick_1"> <g id="line2d_1"> <defs> <path id="m14456ea39c" d="M 0 0 L 0 3.5 " style="stroke: #000000; stroke-width: 0.8"/> </defs> <g> <use href="#m14456ea39c" x="124.200" y="404.280" style="stroke: #000000; stroke-width: 0.8"/> </g> </g> <g id="text_1"> <!-- −1 --> <g transform="translate(116.742121 418.878438) scale(0.1 -0.1)"> <defs> <path id="DejaVuSans-2212" d="M 678 2272 L 4684 2272 L 4684 1741 L 678 1741 L 678 2272 z " transform="scale(0.015625)"/> <path id="DejaVuSans-31" d="M 794 531 L 1825 531 L 1825 4091 L 703 3866 L 703 4441 L 1819 4666 L 2450 4666 L 2450 531 L 3481 531 L 3481 0 L 794 0 L 794 531 z " transform="scale(0.015625)"/> </defs> <use href="#DejaVuSans-2212"/> <use href="#DejaVuSans-31" transform="translate(83.789062 0)"/> </g> </g> </g> <g id="xtick_2"> <g id="line2d_2"> <g> <use href="#m14456ea39c" x="223.560" y="404.280" style="stroke: #000000; stroke-width: 0.8"/> </g> </g> <g id="text_2"> <!-- 0 --> <g transform="translate(220.430179 418.878438) scale(0.1 -0.1)"> <defs> <path id="DejaVuSans-30" d="M 2034 4250 Q 1547 4250 1301 3770 Q 1056 3291 1056 2328 Q 1056 1369 1301 889 Q 1547 409 2034 409 Q 2525 409 2770 889 Q 3016 1369 3016 2328 Q 3016 3291 2770 3770 Q 2525 4250 2034 4250 z M 2034 4750 Q 2819 4750 3233 4129 Q 3647 3509 3647 2328 Q 3647 1150 3233 529 Q 2819 -91 2034 -91 Q 1250 -91 836 529 Q 422 1150 422 2328 Q 422 3509 836 4129 Q 1250 4750 2034 4750 z " transform="scale(0.015625)"/> </defs> <use href="#DejaVuSans-30"/> </g> </g> </g> <g id="xtick_3"> <g id="line2d_3"> <g> <use href="#m14456ea39c" x="322.920" y="404.280" style="stroke: #000000; stroke-width: 0.8"/> </g> </g> <g id="text_3"> <!-- 1 --> <g transform="translate(319.928392 418.878438) scale(0.1 -0.1)"> <use href="#DejaVuSans-31"/> </g> </g> </g> <g id="xtick_4"> <g id="line2d_4"> <g> <use href="#m14456ea39c" x="422.280" y="404.280" style="stroke: #000000; stroke-width: 0.8"/> </g> </g> <g id="text_4"> <!-- 2 --> <g transform="translate(419.426606 418.878438) scale(0.1 -0.1)"> <defs> <path id="DejaVuSans-32" d="M 1228 531 L 3431 531 L 3431 0 L 469 0 L 469 531 Q 828 903 1448 1529 Q 2069 2156 2228 2338 Q 2531 2678 2651 2914 Q 2772 3150 2772 3378 Q 2772 3750 2511 3984 Q 2250 4219 1831 4219 Q 1534 4219 1204 4116 Q 875 4013 500 3803 L 500 4441 Q 881 4594 1212 4672 Q 1544 4750 1819 4750 Q 2544 4750 2975 4387 Q 3406 4025 3406 3419 Q 3406 3131 3298 2873 Q 3191 2616 2906 2266 Q 2828 2175 2409 1742 Q 1991 1309 1228 531 z " transform="scale(0.015625)"/> </defs> <use href="#DejaVuSans-32"/> </g> </g> </g> <g id="xtick_5"> <g id="line2d_5"> <g> <use href="#m14456ea39c" x="522.360" y="404.280" style="stroke: #000000; stroke-width: 0.8"/> </g> </g> <g id="text_5"> <!-- 3 --> <g transform="translate(518.92482 418.878438) scale(0.1 -0.1)"> <defs> <path id="DejaVuSans-33" d="M 2597 2516 Q 3050 2419 3304 2112 Q 3559 1806 3559 1356 Q 3559 666 3084 287 Q 2609 -91 1734 -91 Q 1441 -91 1130 -33 Q 819 25 488 141 L 488 750 Q 750 597 1062 519 Q 1375 441 1716 441 Q 2309 441 2620 675 Q 2931 909 2931 1356 Q 2931 1769 2642 2001 Q 2353 2234 1838 2234 L 1294 2234 L 1294 2753 L 1863 2753 Q 2328 2753 2575 2939 Q 2822 3125 2822 3475 Q 2822 3834 2567 4026 Q 2313 4219 1838 4219 Q 1578 4219 1281 4162 Q 984 4106 628 3988 L 628 4550 Q 988 4650 1302 4700 Q 1616 4750 1894 4750 Q 2613 4750 3031 4423 Q 3450 4097 3450 3541 Q 3450 3153 3228 2886 Q 3006 2619 2597 2516 z " transform="scale(0.015625)"/> </defs> <use href="#DejaVuSans-33"/> </g> </g> </g> <g id="xtick_6"> <g id="line2d_6"> <g> <use href="#m14456ea39c" x="621.720" y="404.280" style="stroke: #000000; stroke-width: 0.8"/> </g> </g> <g id="text_6"> <!-- 4 --> <g transform="translate(618.423033 418.878438) scale(0.1 -0.1)"> <defs> <path id="DejaVuSans-34" d="M 2419 4116 L 825 1625 L 2419 1625 L 2419 4116 z M 2253 4666 L 3047 4666 L 3047 1625 L 3713 1625 L 3713 1100 L 3047 1100 L 3047 0 L 2419 0 L 2419 1100 L 313 1100 L 313 1709 L 2253 4666 z " transform="scale(0.015625)"/> </defs> <use href="#DejaVuSans-34"/> </g> </g> </g> <g id="xtick_7"> <g id="line2d_7"> <g> <use href="#m14456ea39c" x="721.080" y="404.280" style="stroke: #000000; stroke-width: 0.8"/> </g> </g> <g id="text_7"> <!-- 5 --> <g transform="translate(717.921247 418.878438) scale(0.1 -0.1)"> <defs> <path id="DejaVuSans-35" d="M 691 4666 L 3169 4666 L 3169 4134 L 1269 4134 L 1269 2991 Q 1406 3038 1543 3061 Q 1681 3084 1819 3084 Q 2600 3084 3056 2656 Q 3513 2228 3513 1497 Q 3513 744 3044 326 Q 2575 -91 1722 -91 Q 1428 -91 1123 -41 Q 819 9 494 109 L 494 744 Q 775 591 1075 516 Q 1375 441 1709 441 Q 2250 441 2565 725 Q 2881 1009 2881 1497 Q 2881 1984 2565 2268 Q 2250 2553 1709 2553 Q 1456 2553 1204 2497 Q 953 2441 691 2322 L 691 4666 z " transform="scale(0.015625)"/> </defs> <use href="#DejaVuSans-35"/> </g> </g> </g> </g> <g id="matplotlib.axis_2"> <g id="ytick_1"> <g id="line2d_8"> <defs> <path id="mafbda4ba09" d="M 0 0 L -3.5 0 " style="stroke: #000000; stroke-width: 0.8"/> </defs> <g> <use href="#mafbda4ba09" x="67.320" y="350.280" style="stroke: #000000; stroke-width: 0.8"/> </g> </g> <g id="text_8"> <!-- 1419.5 --> <g transform="translate(24.529375 353.774576) scale(0.1 -0.1)"> <defs> <path id="DejaVuSans-39" d="M 703 97 L 703 672 Q 941 559 1184 500 Q 1428 441 1663 441 Q 2288 441 2617 861 Q 2947 1281 2994 2138 Q 2813 1869 2534 1725 Q 2256 1581 1919 1581 Q 1219 1581 811 2004 Q 403 2428 403 3163 Q 403 3881 828 4315 Q 1253 4750 1959 4750 Q 2769 4750 3195 4129 Q 3622 3509 3622 2328 Q 3622 1225 3098 567 Q 2575 -91 1691 -91 Q 1453 -91 1209 -44 Q 966 3 703 97 z M 1959 2075 Q 2384 2075 2632 2365 Q 2881 2656 2881 3163 Q 2881 3666 2632 3958 Q 2384 4250 1959 4250 Q 1534 4250 1286 3958 Q 1038 3666 1038 3163 Q 1038 2656 1286 2365 Q 1534 2075 1959 2075 z " transform="scale(0.015625)"/> <path id="DejaVuSans-2e" d="M 684 794 L 1344 794 L 1344 0 L 684 0 L 684 794 z " transform="scale(0.015625)"/> </defs> <use href="#DejaVuSans-31"/> <use href="#DejaVuSans-34" transform="translate(63.623047 0)"/> <use href="#DejaVuSans-31" transform="translate(127.246094 0)"/> <use href="#DejaVuSans-39" transform="translate(190.869141 0)"/> <use href="#DejaVuSans-2e" transform="translate(254.492188 0)"/> <use href="#DejaVuSans-35" transform="translate(286.279297 0)"/> </g> </g> </g> <g id="ytick_2"> <g id="line2d_9"> <g> <use href="#mafbda4ba09" x="67.320" y="295.560" style="stroke: #000000; stroke-width: 0.8"/> </g> </g> <g id="text_9"> <!-- 1420.0 --> <g transform="translate(24.529375 299.08712) scale(0.1 -0.1)"> <use href="#DejaVuSans-31"/> <use href="#DejaVuSans-34" transform="translate(63.623047 0)"/> <use href="#DejaVuSans-32" transform="translate(127.246094 0)"/> <use href="#DejaVuSans-30" transform="translate(190.869141 0)"/> <use href="#DejaVuSans-2e" transform="translate(254.492188 0)"/> <use href="#DejaVuSans-30" transform="translate(286.279297 0)"/> </g> </g> </g> <g id="ytick_3"> <g id="line2d_10"> <g> <use href="#mafbda4ba09" x="67.320" y="240.840" style="stroke: #000000; stroke-width: 0.8"/> </g> </g> <g id="text_10"> <!-- 1420.5 --> <g transform="translate(24.529375 244.399665) scale(0.1 -0.1)"> <use href="#DejaVuSans-31"/> <use href="#DejaVuSans-34" transform="translate(63.623047 0)"/> <use href="#DejaVuSans-32" transform="translate(127.246094 0)"/> <use href="#DejaVuSans-30" transform="translate(190.869141 0)"/> <use href="#DejaVuSans-2e" transform="translate(254.492188 0)"/> <use href="#DejaVuSans-35" transform="translate(286.279297 0)"/> </g> </g> </g> <g id="ytick_4"> <g id="line2d_11"> <g> <use href="#mafbda4ba09" x="67.320" y="186.120" style="stroke: #000000; stroke-width: 0.8"/> </g> </g> <g id="text_11"> <!-- 1421.0 --> <g transform="translate(24.529375 189.71221) scale(0.1 -0.1)"> <use href="#DejaVuSans-31"/> <use href="#DejaVuSans-34" transform="translate(63.623047 0)"/> <use href="#DejaVuSans-32" transform="translate(127.246094 0)"/> <use href="#DejaVuSans-31" transform="translate(190.869141 0)"/> <use href="#DejaVuSans-2e" transform="translate(254.492188 0)"/> <use href="#DejaVuSans-30" transform="translate(286.279297 0)"/> </g> </g> </g> <g id="ytick_5"> <g id="line2d_12"> <g> <use href="#mafbda4ba09" x="67.320" y="131.400" style="stroke: #000000; stroke-width: 0.8"/> </g> </g> <g id="text_12"> <!-- 1421.5 --> <g transform="translate(24.529375 135.024754) scale(0.1 -0.1)"> <use href="#DejaVuSans-31"/> <use href="#DejaVuSans-34" transform="translate(63.623047 0)"/> <use href="#DejaVuSans-32" transform="translate(127.246094 0)"/> <use href="#DejaVuSans-31" transform="translate(190.869141 0)"/> <use href="#DejaVuSans-2e" transform="translate(254.492188 0)"/> <use href="#DejaVuSans-35" transform="translate(286.279297 0)"/> </g> </g> </g> <g id="ytick_6"> <g id="line2d_13"> <g> <use href="#mafbda4ba09" x="67.320" y="76.680" style="stroke: #000000; stroke-width: 0.8"/> </g> </g> <g id="text_13"> <!-- 1422.0 --> <g transform="translate(24.529375 80.337299) scale(0.1 -0.1)"> <use href="#DejaVuSans-31"/> <use href="#DejaVuSans-34" transform="translate(63.623047 0)"/> <use href="#DejaVuSans-32" transform="translate(127.246094 0)"/> <use href="#DejaVuSans-32" transform="translate(190.869141 0)"/> <use href="#DejaVuSans-2e" transform="translate(254.492188 0)"/> <use href="#DejaVuSans-30" transform="translate(286.279297 0)"/> </g> </g> </g> <g id="text_14"> <!-- NX --> <g transform="translate(18.449687 222.157625) rotate(-90) scale(0.1 -0.1)"> <defs> <path id="DejaVuSans-4e" d="M 628 4666 L 1478 4666 L 3547 763 L 3547 4666 L 4159 4666 L 4159 0 L 3309 0 L 1241 3903 L 1241 0 L 628 0 L 628 4666 z " transform="scale(0.015625)"/> <path id="DejaVuSans-58" d="M 403 4666 L 1081 4666 L 2241 2931 L 3406 4666 L 4084 4666 L 2584 2425 L 4184 0 L 3506 0 L 2194 1984 L 872 0 L 191 0 L 1856 2491 L 403 4666 z " transform="scale(0.015625)"/> </defs> <use href="#DejaVuSans-4e"/> <use href="#DejaVuSans-58" transform="translate(74.804688 0)"/> </g> </g> </g> <g id="patch_3"> <path d="M 67.32 404.28 L 67.32 21.96 " style="fill: none; stroke: #000000; stroke-width: 0.8; stroke-linejoin: miter; stroke-linecap: square"/> </g> <g id="patch_4"> <path d="M 796.68 404.28 L 796.68 21.96 " style="fill: none; stroke: #000000; stroke-width: 0.8; stroke-linejoin: miter; stroke-linecap: square"/> </g> <g id="patch_5"> <path d="M 67.32 404.28 L 796.68 404.28 " style="fill: none; stroke: #000000; stroke-width: 0.8; stroke-linejoin: miter; stroke-linecap: square"/> </g> <g id="patch_6"> <path d="M 67.32 21.96 L 796.68 21.96 " style="fill: none; stroke: #000000; stroke-width: 0.8; stroke-linejoin: miter; stroke-linecap: square"/> </g> </g> <g id="axes_2"> <g id="patch_7"> <path d="M 842.04 404.28 L 861.48 404.28 L 861.48 21.96 L 842.04 21.96 z " style="fill: #ffffff"/> </g> <g transform="scale(0.72)"><rect x="1169.5" y="30.5" width="27.0" height="531.0" fill="url(#gg)" filter="url(#vir2)"/></g> <g id="matplotlib.axis_3"/> <g id="matplotlib.axis_4"> <g id="ytick_7"> <g id="line2d_14"> <defs> <path id="m465d766c83" d="M 0 0 L 2 0 " style="stroke: #000000; stroke-width: 0.6"/> </defs> <g> <use href="#m465d766c83" x="861.480" y="300.600" style="stroke: #000000; stroke-width: 0.8"/> </g> </g> <g id="text_15"> <!-- $\mathdefault{3\times10^{11}}$ --> <g transform="translate(866.88 304.44843) scale(0.1 -0.1)"> <defs> <path id="DejaVuSans-d7" d="M 4488 3438 L 3059 2003 L 4488 575 L 4116 197 L 2681 1631 L 1247 197 L 878 575 L 2303 2003 L 878 3438 L 1247 3816 L 2681 2381 L 4116 3816 L 4488 3438 z " transform="scale(0.015625)"/> </defs> <use href="#DejaVuSans-33" transform="translate(0 0.684375)"/> <use href="#DejaVuSans-d7" transform="translate(83.105469 0.684375)"/> <use href="#DejaVuSans-31" transform="translate(186.376953 0.684375)"/> <use href="#DejaVuSans-30" transform="translate(250 0.684375)"/> <use href="#DejaVuSans-31" transform="translate(314.580078 38.965625) scale(0.7)"/> <use href="#DejaVuSans-31" transform="translate(359.116211 38.965625) scale(0.7)"/> </g> </g> </g> <g id="ytick_8"> <g id="line2d_15"> <g> <use href="#m465d766c83" x="861.480" y="220.680" style="stroke: #000000; stroke-width: 0.8"/> </g> </g> <g id="text_16"> <!-- $\mathdefault{4\times10^{11}}$ --> <g transform="translate(866.88 224.640253) scale(0.1 -0.1)"> <use href="#DejaVuSans-34" transform="translate(0 0.684375)"/> <use href="#DejaVuSans-d7" transform="translate(83.105469 0.684375)"/> <use href="#DejaVuSans-31" transform="translate(186.376953 0.684375)"/> <use href="#DejaVuSans-30" transform="translate(250 0.684375)"/> <use href="#DejaVuSans-31" transform="translate(314.580078 38.965625) scale(0.7)"/> <use href="#DejaVuSans-31" transform="translate(359.116211 38.965625) scale(0.7)"/> </g> </g> </g> <g id="ytick_9"> <g id="line2d_16"> <g> <use href="#m465d766c83" x="861.480" y="158.760" style="stroke: #000000; stroke-width: 0.8"/> </g> </g> </g> <g id="ytick_10"> <g id="line2d_17"> <g> <use href="#m465d766c83" x="861.480" y="108.360" style="stroke: #000000; stroke-width: 0.8"/> </g> </g> <g id="text_17"> <!-- $\mathdefault{6\times10^{11}}$ --> <g transform="translate(866.88 112.156946) scale(0.1 -0.1)"> <defs> <path id="DejaVuSans-36" d="M 2113 2584 Q 1688 2584 1439 2293 Q 1191 2003 1191 1497 Q 1191 994 1439 701 Q 1688 409 2113 409 Q 2538 409 2786 701 Q 3034 994 3034 1497 Q 3034 2003 2786 2293 Q 2538 2584 2113 2584 z M 3366 4563 L 3366 3988 Q 3128 4100 2886 4159 Q 2644 4219 2406 4219 Q 1781 4219 1451 3797 Q 1122 3375 1075 2522 Q 1259 2794 1537 2939 Q 1816 3084 2150 3084 Q 2853 3084 3261 2657 Q 3669 2231 3669 1497 Q 3669 778 3244 343 Q 2819 -91 2113 -91 Q 1303 -91 875 529 Q 447 1150 447 2328 Q 447 3434 972 4092 Q 1497 4750 2381 4750 Q 2619 4750 2861 4703 Q 3103 4656 3366 4563 z " transform="scale(0.015625)"/> </defs> <use href="#DejaVuSans-36" transform="translate(0 0.684375)"/> <use href="#DejaVuSans-d7" transform="translate(83.105469 0.684375)"/> <use href="#DejaVuSans-31" transform="translate(186.376953 0.684375)"/> <use href="#DejaVuSans-30" transform="translate(250 0.684375)"/> <use href="#DejaVuSans-31" transform="translate(314.580078 38.965625) scale(0.7)"/> <use href="#DejaVuSans-31" transform="translate(359.116211 38.965625) scale(0.7)"/> </g> </g> </g> <g id="ytick_11"> <g id="line2d_18"> <g> <use href="#m465d766c83" x="861.480" y="65.880" style="stroke: #000000; stroke-width: 0.8"/> </g> </g> </g> <g id="ytick_12"> <g id="line2d_19"> <g> <use href="#m465d766c83" x="861.480" y="28.440" style="stroke: #000000; stroke-width: 0.8"/> </g> </g> </g> </g> <g id="LineCollection_1"/> <g id="patch_8"> <path d="M 842.04 404.28 L 851.76 404.28 L 861.48 404.28 L 861.48 21.96 L 851.76 21.96 L 842.04 21.96 L 842.04 404.28 z " style="fill: none; stroke: #000000; stroke-width: 0.8; stroke-linejoin: miter; stroke-linecap: square"/> </g> </g> <g id="axes_3"> <g id="patch_9"> <path d="M 1012.68 404.28 L 1924.2 404.28 L 1924.2 21.96 L 1012.68 21.96 z " style="fill: #ffffff"/> </g> <g id="matplotlib.axis_5"> <g id="xtick_8"> <g id="line2d_20"> <g> <use href="#m14456ea39c" x="1052.280" y="404.280" style="stroke: #000000; stroke-width: 0.8"/> </g> </g> <g id="text_18"> <!-- 1419.0 --> <g transform="translate(1034.496687 418.878438) scale(0.1 -0.1)"> <use href="#DejaVuSans-31"/> <use href="#DejaVuSans-34" transform="translate(63.623047 0)"/> <use href="#DejaVuSans-31" transform="translate(127.246094 0)"/> <use href="#DejaVuSans-39" transform="translate(190.869141 0)"/> <use href="#DejaVuSans-2e" transform="translate(254.492188 0)"/> <use href="#DejaVuSans-30" transform="translate(286.279297 0)"/> </g> </g> </g> <g id="xtick_9"> <g id="line2d_21"> <g> <use href="#m14456ea39c" x="1170.360" y="404.280" style="stroke: #000000; stroke-width: 0.8"/> </g> </g> <g id="text_19"> <!-- 1419.5 --> <g transform="translate(1153.206687 418.878438) scale(0.1 -0.1)"> <use href="#DejaVuSans-31"/> <use href="#DejaVuSans-34" transform="translate(63.623047 0)"/> <use href="#DejaVuSans-31" transform="translate(127.246094 0)"/> <use href="#DejaVuSans-39" transform="translate(190.869141 0)"/> <use href="#DejaVuSans-2e" transform="translate(254.492188 0)"/> <use href="#DejaVuSans-35" transform="translate(286.279297 0)"/> </g> </g> </g> <g id="xtick_10"> <g id="line2d_22"> <g> <use href="#m14456ea39c" x="1289.160" y="404.280" style="stroke: #000000; stroke-width: 0.8"/> </g> </g> <g id="text_20"> <!-- 1420.0 --> <g transform="translate(1271.916687 418.878438) scale(0.1 -0.1)"> <use href="#DejaVuSans-31"/> <use href="#DejaVuSans-34" transform="translate(63.623047 0)"/> <use href="#DejaVuSans-32" transform="translate(127.246094 0)"/> <use href="#DejaVuSans-30" transform="translate(190.869141 0)"/> <use href="#DejaVuSans-2e" transform="translate(254.492188 0)"/> <use href="#DejaVuSans-30" transform="translate(286.279297 0)"/> </g> </g> </g> <g id="xtick_11"> <g id="line2d_23"> <g> <use href="#m14456ea39c" x="1407.960" y="404.280" style="stroke: #000000; stroke-width: 0.8"/> </g> </g> <g id="text_21"> <!-- 1420.5 --> <g transform="translate(1390.626687 418.878438) scale(0.1 -0.1)"> <use href="#DejaVuSans-31"/> <use href="#DejaVuSans-34" transform="translate(63.623047 0)"/> <use href="#DejaVuSans-32" transform="translate(127.246094 0)"/> <use href="#DejaVuSans-30" transform="translate(190.869141 0)"/> <use href="#DejaVuSans-2e" transform="translate(254.492188 0)"/> <use href="#DejaVuSans-35" transform="translate(286.279297 0)"/> </g> </g> </g> <g id="xtick_12"> <g id="line2d_24"> <g> <use href="#m14456ea39c" x="1526.760" y="404.280" style="stroke: #000000; stroke-width: 0.8"/> </g> </g> <g id="text_22"> <!-- 1421.0 --> <g transform="translate(1509.336687 418.878438) scale(0.1 -0.1)"> <use href="#DejaVuSans-31"/> <use href="#DejaVuSans-34" transform="translate(63.623047 0)"/> <use href="#DejaVuSans-32" transform="translate(127.246094 0)"/> <use href="#DejaVuSans-31" transform="translate(190.869141 0)"/> <use href="#DejaVuSans-2e" transform="translate(254.492188 0)"/> <use href="#DejaVuSans-30" transform="translate(286.279297 0)"/> </g> </g> </g> <g id="xtick_13"> <g id="line2d_25"> <g> <use href="#m14456ea39c" x="1645.560" y="404.280" style="stroke: #000000; stroke-width: 0.8"/> </g> </g> <g id="text_23"> <!-- 1421.5 --> <g transform="translate(1628.046687 418.878438) scale(0.1 -0.1)"> <use href="#DejaVuSans-31"/> <use href="#DejaVuSans-34" transform="translate(63.623047 0)"/> <use href="#DejaVuSans-32" transform="translate(127.246094 0)"/> <use href="#DejaVuSans-31" transform="translate(190.869141 0)"/> <use href="#DejaVuSans-2e" transform="translate(254.492188 0)"/> <use href="#DejaVuSans-35" transform="translate(286.279297 0)"/> </g> </g> </g> <g id="xtick_14"> <g id="line2d_26"> <g> <use href="#m14456ea39c" x="1764.360" y="404.280" style="stroke: #000000; stroke-width: 0.8"/> </g> </g> <g id="text_24"> <!-- 1422.0 --> <g transform="translate(1746.756687 418.878438) scale(0.1 -0.1)"> <use href="#DejaVuSans-31"/> <use href="#DejaVuSans-34" transform="translate(63.623047 0)"/> <use href="#DejaVuSans-32" transform="translate(127.246094 0)"/> <use href="#DejaVuSans-32" transform="translate(190.869141 0)"/> <use href="#DejaVuSans-2e" transform="translate(254.492188 0)"/> <use href="#DejaVuSans-30" transform="translate(286.279297 0)"/> </g> </g> </g> <g id="xtick_15"> <g id="line2d_27"> <g> <use href="#m14456ea39c" x="1883.160" y="404.280" style="stroke: #000000; stroke-width: 0.8"/> </g> </g> <g id="text_25"> <!-- 1422.5 --> <g transform="translate(1865.466687 418.878438) scale(0.1 -0.1)"> <use href="#DejaVuSans-31"/> <use href="#DejaVuSans-34" transform="translate(63.623047 0)"/> <use href="#DejaVuSans-32" transform="translate(127.246094 0)"/> <use href="#DejaVuSans-32" transform="translate(190.869141 0)"/> <use href="#DejaVuSans-2e" transform="translate(254.492188 0)"/> <use href="#DejaVuSans-35" transform="translate(286.279297 0)"/> </g> </g> </g> </g> <g id="matplotlib.axis_6"> <g id="ytick_13"> <g id="line2d_28"> <g> <use href="#mafbda4ba09" x="1012.680" y="389.880" style="stroke: #000000; stroke-width: 0.8"/> </g> </g> <g id="text_26"> <!-- 3.25 --> <g transform="translate(982.614375 393.679219) scale(0.1 -0.1)"> <use href="#DejaVuSans-33"/> <use href="#DejaVuSans-2e" transform="translate(63.623047 0)"/> <use href="#DejaVuSans-32" transform="translate(95.410156 0)"/> <use href="#DejaVuSans-35" transform="translate(159.033203 0)"/> </g> </g> </g> <g id="ytick_14"> <g id="line2d_29"> <g> <use href="#mafbda4ba09" x="1012.680" y="342.360" style="stroke: #000000; stroke-width: 0.8"/> </g> </g> <g id="text_27"> <!-- 3.50 --> <g transform="translate(982.614375 346.159219) scale(0.1 -0.1)"> <use href="#DejaVuSans-33"/> <use href="#DejaVuSans-2e" transform="translate(63.623047 0)"/> <use href="#DejaVuSans-35" transform="translate(95.410156 0)"/> <use href="#DejaVuSans-30" transform="translate(159.033203 0)"/> </g> </g> </g> <g id="ytick_15"> <g id="line2d_30"> <g> <use href="#mafbda4ba09" x="1012.680" y="294.840" style="stroke: #000000; stroke-width: 0.8"/> </g> </g> <g id="text_28"> <!-- 3.75 --> <g transform="translate(982.614375 298.639219) scale(0.1 -0.1)"> <defs> <path id="DejaVuSans-37" d="M 525 4666 L 3525 4666 L 3525 4397 L 1831 0 L 1172 0 L 2766 4134 L 525 4134 L 525 4666 z " transform="scale(0.015625)"/> </defs> <use href="#DejaVuSans-33"/> <use href="#DejaVuSans-2e" transform="translate(63.623047 0)"/> <use href="#DejaVuSans-37" transform="translate(95.410156 0)"/> <use href="#DejaVuSans-35" transform="translate(159.033203 0)"/> </g> </g> </g> <g id="ytick_16"> <g id="line2d_31"> <g> <use href="#mafbda4ba09" x="1012.680" y="247.320" style="stroke: #000000; stroke-width: 0.8"/> </g> </g> <g id="text_29"> <!-- 4.00 --> <g transform="translate(982.614375 251.119219) scale(0.1 -0.1)"> <use href="#DejaVuSans-34"/> <use href="#DejaVuSans-2e" transform="translate(63.623047 0)"/> <use href="#DejaVuSans-30" transform="translate(95.410156 0)"/> <use href="#DejaVuSans-30" transform="translate(159.033203 0)"/> </g> </g> </g> <g id="ytick_17"> <g id="line2d_32"> <g> <use href="#mafbda4ba09" x="1012.680" y="199.800" style="stroke: #000000; stroke-width: 0.8"/> </g> </g> <g id="text_30"> <!-- 4.25 --> <g transform="translate(982.614375 203.599219) scale(0.1 -0.1)"> <use href="#DejaVuSans-34"/> <use href="#DejaVuSans-2e" transform="translate(63.623047 0)"/> <use href="#DejaVuSans-32" transform="translate(95.410156 0)"/> <use href="#DejaVuSans-35" transform="translate(159.033203 0)"/> </g> </g> </g> <g id="ytick_18"> <g id="line2d_33"> <g> <use href="#mafbda4ba09" x="1012.680" y="152.280" style="stroke: #000000; stroke-width: 0.8"/> </g> </g> <g id="text_31"> <!-- 4.50 --> <g transform="translate(982.614375 156.079219) scale(0.1 -0.1)"> <use href="#DejaVuSans-34"/> <use href="#DejaVuSans-2e" transform="translate(63.623047 0)"/> <use href="#DejaVuSans-35" transform="translate(95.410156 0)"/> <use href="#DejaVuSans-30" transform="translate(159.033203 0)"/> </g> </g> </g> <g id="ytick_19"> <g id="line2d_34"> <g> <use href="#mafbda4ba09" x="1012.680" y="104.760" style="stroke: #000000; stroke-width: 0.8"/> </g> </g> <g id="text_32"> <!-- 4.75 --> <g transform="translate(982.614375 108.559219) scale(0.1 -0.1)"> <use href="#DejaVuSans-34"/> <use href="#DejaVuSans-2e" transform="translate(63.623047 0)"/> <use href="#DejaVuSans-37" transform="translate(95.410156 0)"/> <use href="#DejaVuSans-35" transform="translate(159.033203 0)"/> </g> </g> </g> <g id="ytick_20"> <g id="line2d_35"> <g> <use href="#mafbda4ba09" x="1012.680" y="57.240" style="stroke: #000000; stroke-width: 0.8"/> </g> </g> <g id="text_33"> <!-- 5.00 --> <g transform="translate(982.614375 61.039219) scale(0.1 -0.1)"> <use href="#DejaVuSans-35"/> <use href="#DejaVuSans-2e" transform="translate(63.623047 0)"/> <use href="#DejaVuSans-30" transform="translate(95.410156 0)"/> <use href="#DejaVuSans-30" transform="translate(159.033203 0)"/> </g> </g> </g> <g id="text_34"> <!-- 1e11 --> <g transform="translate(1012.68 18.96) scale(0.1 -0.1)"> <defs> <path id="DejaVuSans-65" d="M 3597 1894 L 3597 1613 L 953 1613 Q 991 1019 1311 708 Q 1631 397 2203 397 Q 2534 397 2845 478 Q 3156 559 3463 722 L 3463 178 Q 3153 47 2828 -22 Q 2503 -91 2169 -91 Q 1331 -91 842 396 Q 353 884 353 1716 Q 353 2575 817 3079 Q 1281 3584 2069 3584 Q 2775 3584 3186 3129 Q 3597 2675 3597 1894 z M 3022 2063 Q 3016 2534 2758 2815 Q 2500 3097 2075 3097 Q 1594 3097 1305 2825 Q 1016 2553 972 2059 L 3022 2063 z " transform="scale(0.015625)"/> </defs> <use href="#DejaVuSans-31"/> <use href="#DejaVuSans-65" transform="translate(63.623047 0)"/> <use href="#DejaVuSans-31" transform="translate(125.146484 0)"/> <use href="#DejaVuSans-31" transform="translate(188.769531 0)"/> </g> </g> </g> <g id="line2d_36"> <path d="M 1053.666788 386.348698 L 1077.579479 385.78904 L 1081.724544 247.094662 L 1085.414691 385.78904 L 1088.772639 385.78904 L 1093.529732 384.110066 L 1097.727167 385.78904 L 1104.163234 385.509211 L 1109.759813 384.949553 L 1116.755538 385.229382 L 1127.948698 384.669724 L 1136.343568 384.110066 L 1140.541003 384.389895 L 1145.298096 384.389895 L 1149.162048 285.214363 L 1153.133307 384.110066 L 1158.729887 384.110066 L 1167.124757 383.550408 L 1169.363389 382.99075 L 1172.721337 383.830237 L 1178.317917 383.270579 L 1185.313642 383.550408 L 1189.511077 383.270579 L 1195.107656 382.431092 L 1200.704236 382.151263 L 1204.901671 382.431092 L 1209.099106 382.99075 L 1216.934318 382.151263 L 1221.111216 282.932885 L 1224.76953 382.710921 L 1234.283716 382.151263 L 1239.880295 382.431092 L 1269.58974 381.591605 L 1272.38803 380.752118 L 1276.585464 381.311776 L 1284.700505 381.031947 L 1288.786176 304.701991 L 1292.535717 378.793315 L 1296.733152 380.752118 L 1300.370929 380.752118 L 1304.568364 380.19246 L 1312.963234 380.19246 L 1321.358103 379.912631 L 1328.353828 379.352973 L 1332.551263 378.793315 L 1336.18904 377.953828 L 1340.386475 375.995025 L 1344.304081 370.398445 L 1348.221687 356.966654 L 1352.419122 344.374349 L 1356.627355 274.472402 L 1360.254333 331.782044 L 1364.451768 335.419821 L 1368.369374 330.382899 L 1372.566809 321.428372 L 1376.204586 312.541003 L 1376.484415 312.194015 L 1380.402021 295.751263 L 1384.599456 284.837932 L 1388.517062 287.356393 L 1392.714497 295.751263 L 1396.632103 303.306646 L 1404.467314 311.701516 L 1404.467314 311.354528 L 1408.38492 318.630082 L 1408.38492 318.137583 L 1412.582355 328.983754 L 1416.499961 338.218111 L 1420.417567 344.934007 L 1424.335173 349.970929 L 1428.64776 236.92307 L 1432.170385 355.007851 L 1436.087991 356.686825 L 1440.285426 357.526312 L 1444.203031 358.645628 L 1448.120637 360.044773 L 1452.038243 362.843063 L 1455.955849 364.801866 L 1460.153284 365.641353 L 1464.07089 364.801866 L 1464.39829 364.242208 L 1468.595725 361.164089 L 1468.827983 361.443918 L 1472.79316 359.485115 L 1476.151108 358.645628 L 1480.068714 359.485115 L 1484.266148 360.604431 L 1488.183754 362.283405 L 1492.10136 361.723747 L 1496.441448 39.232967 L 1500.510827 367.056579 L 1503.574349 368.9993 L 1507.491955 370.678274 L 1511.969219 370.958103 L 1515.886825 370.678274 L 1519.804431 371.79759 L 1527.919471 372.357248 L 1531.837077 372.916906 L 1538.552973 373.756393 L 1545.548698 374.036222 L 1548.346988 374.316051 L 1551.145278 374.036222 L 1555.342713 374.316051 L 1563.457754 374.316051 L 1567.678248 262.475628 L 1571.572794 374.316051 L 1581.926467 374.316051 L 1587.523047 373.476564 L 1591.440653 372.357248 L 1595.358259 374.036222 L 1601.514497 374.036222 L 1619.703381 373.476564 L 1623.341158 372.357248 L 1627.258764 373.476564 L 1631.456199 373.756393 L 1635.471936 354.457233 L 1639.291411 373.476564 L 1643.488846 373.476564 L 1651.324058 371.79759 L 1655.241663 373.196735 L 1663.076875 372.916906 L 1668.673455 373.196735 L 1670.4 372.916906 L 1687.18974 372.916906 L 1691.107346 371.517761 L 1695.024951 372.916906 L 1703.139992 372.916906 L 1706.946192 351.07304 L 1711.255033 372.916906 L 1723.007851 372.637077 L 1726.925457 371.517761 L 1730.843063 372.637077 L 1751.550408 372.637077 L 1754.908356 372.357248 L 1759.945278 372.637077 L 1770.858609 372.637077 L 1775.001082 246.524292 L 1778.973649 372.637077 L 1794.923902 372.357248 L 1798.841508 370.678274 L 1803.038943 372.637077 L 1821.507656 372.637077 L 1827.104236 372.357248 L 1831.301671 372.637077 L 1835.499106 372.357248 L 1842.77466 372.637077 L 1846.57032 365.33228 L 1850.889701 372.637077 L 1855.087136 372.916906 L 1858.724913 372.077419 L 1862.922347 372.637077 L 1882.357775 372.916906 L 1882.357775 372.916906 " clip-path="url(#ped1eb4cb92)" style="fill: none; stroke: #1f77b4; stroke-width: 1.5; stroke-linecap: square"/> </g> <g id="line2d_37"> <defs> <path id="mfa0c69742c" d="M 0 3 C 0.795609 3 1.55874 2.683901 2.12132 2.12132 C 2.683901 1.55874 3 0.795609 3 0 C 3 -0.795609 2.683901 -1.55874 2.12132 -2.12132 C 1.55874 -2.683901 0.795609 -3 0 -3 C -0.795609 -3 -1.55874 -2.683901 -2.12132 -2.12132 C -2.683901 -1.55874 -3 -0.795609 -3 0 C -3 0.795609 -2.683901 1.55874 -2.12132 2.12132 C -1.55874 2.683901 -0.795609 3 0 3 z " style="stroke: #ff0000"/> </defs> <g clip-path="url(#ped1eb4cb92)"> <use href="#mfa0c69742c" x="1081.724544" y="247.094662" style="fill: #ff0000; stroke: #ff0000"/> <use href="#mfa0c69742c" x="1149.162048" y="285.214363" style="fill: #ff0000; stroke: #ff0000"/> <use href="#mfa0c69742c" x="1221.111216" y="282.932885" style="fill: #ff0000; stroke: #ff0000"/> <use href="#mfa0c69742c" x="1288.786176" y="304.701991" style="fill: #ff0000; stroke: #ff0000"/> <use href="#mfa0c69742c" x="1356.627355" y="274.472402" style="fill: #ff0000; stroke: #ff0000"/> <use href="#mfa0c69742c" x="1428.64776" y="236.92307" style="fill: #ff0000; stroke: #ff0000"/> <use href="#mfa0c69742c" x="1496.441448" y="39.232967" style="fill: #ff0000; stroke: #ff0000"/> <use href="#mfa0c69742c" x="1567.678248" y="262.475628" style="fill: #ff0000; stroke: #ff0000"/> <use href="#mfa0c69742c" x="1635.471936" y="354.457233" style="fill: #ff0000; stroke: #ff0000"/> <use href="#mfa0c69742c" x="1706.946192" y="351.07304" style="fill: #ff0000; stroke: #ff0000"/> <use href="#mfa0c69742c" x="1775.001082" y="246.524292" style="fill: #ff0000; stroke: #ff0000"/> <use href="#mfa0c69742c" x="1846.57032" y="365.33228" style="fill: #ff0000; stroke: #ff0000"/> </g> </g> <g id="patch_10"> <path d="M 1012.68 404.28 L 1012.68 21.96 " style="fill: none; stroke: #000000; stroke-width: 0.8; stroke-linejoin: miter; stroke-linecap: square"/> </g> <g id="patch_11"> <path d="M 1924.2 404.28 L 1924.2 21.96 " style="fill: none; stroke: #000000; stroke-width: 0.8; stroke-linejoin: miter; stroke-linecap: square"/> </g> <g id="patch_12"> <path d="M 1012.68 404.28 L 1924.2 404.28 " style="fill: none; stroke: #000000; stroke-width: 0.8; stroke-linejoin: miter; stroke-linecap: square"/> </g> <g id="patch_13"> <path d="M 1012.68 21.96 L 1924.2 21.96 " style="fill: none; stroke: #000000; stroke-width: 0.8; stroke-linejoin: miter; stroke-linecap: square"/> </g> </g> <g id="axes_4"> <g id="patch_14"> <path d="M 1958.04 404.28 L 2869.56 404.28 L 2869.56 21.96 L 1958.04 21.96 z " style="fill: #ffffff"/> </g> <g id="matplotlib.axis_7"> <g id="xtick_16"> <g id="line2d_38"> <g> <use href="#m14456ea39c" x="1999.080" y="404.280" style="stroke: #000000; stroke-width: 0.8"/> </g> </g> <g id="text_35"> <!-- 0 --> <g transform="translate(1996.11475 418.878438) scale(0.1 -0.1)"> <use href="#DejaVuSans-30"/> </g> </g> </g> <g id="xtick_17"> <g id="line2d_39"> <g> <use href="#m14456ea39c" x="2102.760" y="404.280" style="stroke: #000000; stroke-width: 0.8"/> </g> </g> <g id="text_36"> <!-- 100 --> <g transform="translate(2092.94697 418.878438) scale(0.1 -0.1)"> <use href="#DejaVuSans-31"/> <use href="#DejaVuSans-30" transform="translate(63.623047 0)"/> <use href="#DejaVuSans-30" transform="translate(127.246094 0)"/> </g> </g> </g> <g id="xtick_18"> <g id="line2d_40"> <g> <use href="#m14456ea39c" x="2205.720" y="404.280" style="stroke: #000000; stroke-width: 0.8"/> </g> </g> <g id="text_37"> <!-- 200 --> <g transform="translate(2196.14169 418.878438) scale(0.1 -0.1)"> <use href="#DejaVuSans-32"/> <use href="#DejaVuSans-30" transform="translate(63.623047 0)"/> <use href="#DejaVuSans-30" transform="translate(127.246094 0)"/> </g> </g> </g> <g id="xtick_19"> <g id="line2d_41"> <g> <use href="#m14456ea39c" x="2308.680" y="404.280" style="stroke: #000000; stroke-width: 0.8"/> </g> </g> <g id="text_38"> <!-- 300 --> <g transform="translate(2299.33641 418.878438) scale(0.1 -0.1)"> <use href="#DejaVuSans-33"/> <use href="#DejaVuSans-30" transform="translate(63.623047 0)"/> <use href="#DejaVuSans-30" transform="translate(127.246094 0)"/> </g> </g> </g> <g id="xtick_20"> <g id="line2d_42"> <g> <use href="#m14456ea39c" x="2412.360" y="404.280" style="stroke: #000000; stroke-width: 0.8"/> </g> </g> <g id="text_39"> <!-- 400 --> <g transform="translate(2402.53113 418.878438) scale(0.1 -0.1)"> <use href="#DejaVuSans-34"/> <use href="#DejaVuSans-30" transform="translate(63.623047 0)"/> <use href="#DejaVuSans-30" transform="translate(127.246094 0)"/> </g> </g> </g> <g id="xtick_21"> <g id="line2d_43"> <g> <use href="#m14456ea39c" x="2515.320" y="404.280" style="stroke: #000000; stroke-width: 0.8"/> </g> </g> <g id="text_40"> <!-- 500 --> <g transform="translate(2505.72585 418.878438) scale(0.1 -0.1)"> <use href="#DejaVuSans-35"/> <use href="#DejaVuSans-30" transform="translate(63.623047 0)"/> <use href="#DejaVuSans-30" transform="translate(127.246094 0)"/> </g> </g> </g> <g id="xtick_22"> <g id="line2d_44"> <g> <use href="#m14456ea39c" x="2618.280" y="404.280" style="stroke: #000000; stroke-width: 0.8"/> </g> </g> <g id="text_41"> <!-- 600 --> <g transform="translate(2608.92057 418.878438) scale(0.1 -0.1)"> <use href="#DejaVuSans-36"/> <use href="#DejaVuSans-30" transform="translate(63.623047 0)"/> <use href="#DejaVuSans-30" transform="translate(127.246094 0)"/> </g> </g> </g> <g id="xtick_23"> <g id="line2d_45"> <g> <use href="#m14456ea39c" x="2721.960" y="404.280" style="stroke: #000000; stroke-width: 0.8"/> </g> </g> <g id="text_42"> <!-- 700 --> <g transform="translate(2712.11529 418.878438) scale(0.1 -0.1)"> <use href="#DejaVuSans-37"/> <use href="#DejaVuSans-30" transform="translate(63.623047 0)"/> <use href="#DejaVuSans-30" transform="translate(127.246094 0)"/> </g> </g> </g> <g id="xtick_24"> <g id="line2d_46"> <g> <use href="#m14456ea39c" x="2824.920" y="404.280" style="stroke: #000000; stroke-width: 0.8"/> </g> </g> <g id="text_43"> <!-- 800 --> <g transform="translate(2815.31001 418.878438) scale(0.1 -0.1)"> <defs> <path id="DejaVuSans-38" d="M 2034 2216 Q 1584 2216 1326 1975 Q 1069 1734 1069 1313 Q 1069 891 1326 650 Q 1584 409 2034 409 Q 2484 409 2743 651 Q 3003 894 3003 1313 Q 3003 1734 2745 1975 Q 2488 2216 2034 2216 z M 1403 2484 Q 997 2584 770 2862 Q 544 3141 544 3541 Q 544 4100 942 4425 Q 1341 4750 2034 4750 Q 2731 4750 3128 4425 Q 3525 4100 3525 3541 Q 3525 3141 3298 2862 Q 3072 2584 2669 2484 Q 3125 2378 3379 2068 Q 3634 1759 3634 1313 Q 3634 634 3220 271 Q 2806 -91 2034 -91 Q 1263 -91 848 271 Q 434 634 434 1313 Q 434 1759 690 2068 Q 947 2378 1403 2484 z M 1172 3481 Q 1172 3119 1398 2916 Q 1625 2713 2034 2713 Q 2441 2713 2670 2916 Q 2900 3119 2900 3481 Q 2900 3844 2670 4047 Q 2441 4250 2034 4250 Q 1625 4250 1398 4047 Q 1172 3844 1172 3481 z " transform="scale(0.015625)"/> </defs> <use href="#DejaVuSans-38"/> <use href="#DejaVuSans-30" transform="translate(63.623047 0)"/> <use href="#DejaVuSans-30" transform="translate(127.246094 0)"/> </g> </g> </g> </g> <g id="matplotlib.axis_8"> <g id="ytick_21"> <g id="line2d_47"> <g> <use href="#mafbda4ba09" x="1958.040" y="333.720" style="stroke: #000000; stroke-width: 0.8"/> </g> </g> <g id="text_44"> <!-- 2.5 --> <g transform="translate(1934.336875 337.519219) scale(0.1 -0.1)"> <use href="#DejaVuSans-32"/> <use href="#DejaVuSans-2e" transform="translate(63.623047 0)"/> <use href="#DejaVuSans-35" transform="translate(95.410156 0)"/> </g> </g> </g> <g id="ytick_22"> <g id="line2d_48"> <g> <use href="#mafbda4ba09" x="1958.040" y="260.280" style="stroke: #000000; stroke-width: 0.8"/> </g> </g> <g id="text_45"> <!-- 3.0 --> <g transform="translate(1934.336875 264.079219) scale(0.1 -0.1)"> <use href="#DejaVuSans-33"/> <use href="#DejaVuSans-2e" transform="translate(63.623047 0)"/> <use href="#DejaVuSans-30" transform="translate(95.410156 0)"/> </g> </g> </g> <g id="ytick_23"> <g id="line2d_49"> <g> <use href="#mafbda4ba09" x="1958.040" y="186.840" style="stroke: #000000; stroke-width: 0.8"/> </g> </g> <g id="text_46"> <!-- 3.5 --> <g transform="translate(1934.336875 190.639219) scale(0.1 -0.1)"> <use href="#DejaVuSans-33"/> <use href="#DejaVuSans-2e" transform="translate(63.623047 0)"/> <use href="#DejaVuSans-35" transform="translate(95.410156 0)"/> </g> </g> </g> <g id="ytick_24"> <g id="line2d_50"> <g> <use href="#mafbda4ba09" x="1958.040" y="113.400" style="stroke: #000000; stroke-width: 0.8"/> </g> </g> <g id="text_47"> <!-- 4.0 --> <g transform="translate(1934.336875 117.199219) scale(0.1 -0.1)"> <use href="#DejaVuSans-34"/> <use href="#DejaVuSans-2e" transform="translate(63.623047 0)"/> <use href="#DejaVuSans-30" transform="translate(95.410156 0)"/> </g> </g> </g> <g id="ytick_25"> <g id="line2d_51"> <g> <use href="#mafbda4ba09" x="1958.040" y="39.960" style="stroke: #000000; stroke-width: 0.8"/> </g> </g> <g id="text_48"> <!-- 4.5 --> <g transform="translate(1934.336875 43.759219) scale(0.1 -0.1)"> <use href="#DejaVuSans-34"/> <use href="#DejaVuSans-2e" transform="translate(63.623047 0)"/> <use href="#DejaVuSans-35" transform="translate(95.410156 0)"/> </g> </g> </g> <g id="text_49"> <!-- 1e11 --> <g transform="translate(1958.04 18.96) scale(0.1 -0.1)"> <use href="#DejaVuSans-31"/> <use href="#DejaVuSans-65" transform="translate(63.623047 0)"/> <use href="#DejaVuSans-31" transform="translate(125.146484 0)"/> <use href="#DejaVuSans-31" transform="translate(188.769531 0)"/> </g> </g> </g> <g id="line2d_52"> <path d="M 1999.296 195.510921 L 2000.276409 188.515196 L 2001.675554 182.358958 L 2003.074699 195.510921 L 2004.194015 174.523747 L 2005.313331 173.404431 L 2006.152818 169.766654 L 2006.992305 192.152973 L 2008.111621 194.951263 L 2008.951108 185.157248 L 2010.070424 155.775204 L 2011.469569 166.968364 L 2012.588885 192.152973 L 2013.98803 192.712631 L 2014.547688 196.910066 L 2015.667003 189.354683 L 2016.786319 200.547843 L 2018.745122 211.741003 L 2019.864438 225.58974 L 2020.703925 229.787175 L 2021.543412 205.304936 L 2022.382899 215.938438 L 2023.222386 201.946988 L 2024.341702 201.107501 L 2025.600933 217.266226 L 2026.580334 203.346133 L 2027.139992 222.231792 L 2027.69965 218.736728 L 2028.259308 224.190595 L 2029.378624 223.630937 L 2030.218111 232.585464 L 2031.057598 235.943412 L 2032.176914 231.745977 L 2033.29623 235.943412 L 2035.534862 234.824096 L 2036.934007 231.186319 L 2038.053323 225.58974 L 2039.172639 232.585464 L 2040.012126 229.787175 L 2041.131442 236.782899 L 2042.110843 218.665371 L 2043.090245 205.584765 L 2044.209561 228.38803 L 2045.328877 235.383754 L 2046.308278 220.064516 L 2047.28768 217.965799 L 2048.406996 226.988885 L 2049.526312 225.58974 L 2050.925457 228.38803 L 2052.044773 242.379479 L 2052.88426 249.934862 L 2053.723747 249.375204 L 2054.563234 194.951263 L 2055.402721 196.350408 L 2057.641353 165.009561 L 2059.040497 170.046483 L 2060.159813 170.046483 L 2060.9993 178.161524 L 2062.118616 145.981189 L 2062.958103 134.78803 L 2063.79759 179.00101 L 2064.637077 160.812126 L 2065.476564 160.812126 L 2066.316051 173.964089 L 2067.435367 169.766654 L 2068.274854 173.404431 L 2069.39417 171.165799 L 2070.233657 168.367509 L 2071.352973 173.964089 L 2072.752118 173.124602 L 2073.871434 178.161524 L 2075.270579 206.144423 L 2076.389895 165.569219 L 2077.229382 125.553673 L 2078.068869 150.178624 L 2079.188185 148.219821 L 2080.307501 172.564944 L 2081.426817 138.145977 L 2082.546133 173.964089 L 2083.38562 170.326312 L 2084.504936 199.148698 L 2085.624252 225.030082 L 2087.583055 181.7993 L 2088.9822 196.350408 L 2090.941003 214.539293 L 2091.78049 219.99316 L 2092.899806 233.984609 L 2094.019122 229.787175 L 2096.257754 240.980334 L 2097.097241 242.939137 L 2098.076642 217.266226 L 2099.056044 211.181345 L 2100.455188 229.787175 L 2101.574504 226.988885 L 2102.973649 235.383754 L 2105.49211 248.535717 L 2106.611426 242.379479 L 2107.730742 235.383754 L 2108.2904 233.984609 L 2109.409716 260.008706 L 2111.08869 256.370929 L 2112.208006 239.581189 L 2113.327322 239.021531 L 2114.446638 221.392305 L 2115.006296 220.97536 L 2115.565954 226.988885 L 2116.125612 222.094675 L 2116.68527 219.99316 L 2117.664672 219.364944 L 2118.923902 236.782899 L 2119.763389 245.177769 L 2121.632647 371.109211 L 2122.472134 363.553828 L 2123.59145 374.746988 L 2124.990595 374.18733 L 2126.38974 377.545278 L 2127.788885 382.5822 L 2128.908201 383.701516 L 2130.027517 371.948698 L 2130.867003 367.191605 L 2131.986319 381.742713 L 2133.105635 368.59075 L 2134.224951 384.541003 L 2135.344267 386.499806 L 2136.463583 370.549553 L 2137.30307 364.113486 L 2138.142557 375.306646 L 2139.261873 338.369219 L 2140.381189 312.624951 L 2141.220676 340.328022 L 2142.339992 327.176059 L 2143.459308 315.423241 L 2144.298795 310.386319 L 2145.418111 325.776914 L 2146.257598 311.785464 L 2147.376914 331.373494 L 2148.216401 327.176059 L 2149.335717 337.809561 L 2150.455033 334.171784 L 2151.574349 338.369219 L 2152.693665 352.360668 L 2153.533152 342.566654 L 2154.652468 342.566654 L 2155.771784 336.130587 L 2156.8911 343.965799 L 2159.969219 349.002721 L 2161.088535 357.957248 L 2162.207851 350.122037 L 2163.327167 359.356393 L 2164.166654 362.99417 L 2166.405286 348.163234 L 2167.524602 352.920326 L 2168.364089 341.167509 L 2169.483405 342.006996 L 2170.043063 332.212981 L 2171.162379 346.764089 L 2173.960668 362.99417 L 2175.359813 370.549553 L 2177.598445 313.184609 L 2179.557248 300.592305 L 2180.396735 314.583754 L 2181.236222 307.58803 L 2182.355538 317.382044 L 2183.754683 323.818111 L 2184.59417 307.58803 L 2185.713486 290.79829 L 2186.832802 297.794015 L 2187.672289 296.954528 L 2188.791605 322.978624 L 2189.910921 341.167509 L 2191.869724 315.982899 L 2192.709211 316.822386 L 2193.828527 329.974349 L 2194.947843 334.171784 L 2196.067159 327.735717 L 2197.186475 335.011271 L 2198.58562 336.130587 L 2199.425107 329.974349 L 2200.264594 319.620676 L 2201.104081 335.011271 L 2202.223397 322.978624 L 2203.342713 321.579479 L 2204.462029 325.776914 L 2205.301516 347.603576 L 2206.420832 327.176059 L 2207.260319 316.542557 L 2208.379635 328.575204 L 2209.498951 318.781189 L 2210.618267 322.139137 L 2211.737583 317.382044 L 2212.57707 315.982899 L 2213.696386 304.78974 L 2214.815702 300.592305 L 2215.935017 308.147688 L 2217.054333 307.028372 L 2217.6 298.345278 L 2218.719316 310.937583 L 2219.838632 295.546988 L 2220.678119 285.752973 L 2221.517606 301.143568 L 2222.357093 292.748698 L 2223.19658 295.546988 L 2224.315896 291.349553 L 2225.435212 283.79417 L 2226.834357 275.958958 L 2227.953673 308.139293 L 2229.072989 301.143568 L 2230.192305 298.345278 L 2232.710766 282.954683 L 2234.38974 253.572639 L 2235.229227 264.765799 L 2236.068714 264.765799 L 2237.18803 273.160668 L 2238.307346 280.156393 L 2239.426661 275.958958 L 2240.266148 260.008706 L 2241.105635 278.757248 L 2242.224951 275.958958 L 2243.064438 280.156393 L 2244.183754 272.60101 L 2245.30307 275.3993 L 2246.422386 277.358103 L 2247.541702 282.115196 L 2248.661018 275.958958 L 2249.780334 276.798445 L 2250.89965 271.761524 L 2251.739137 265.605286 L 2252.858453 266.164944 L 2253.977769 265.605286 L 2255.376914 268.403576 L 2256.49623 264.765799 L 2257.615546 259.169219 L 2259.014691 254.971784 L 2260.413836 249.375204 L 2261.812981 247.976059 L 2263.212126 248.815546 L 2264.331442 253.572639 L 2265.450758 261.967509 L 2266.570074 264.765799 L 2267.68939 260.568364 L 2268.808706 250.774349 L 2269.648193 246.017256 L 2270.767509 253.572639 L 2271.886825 249.375204 L 2273.006141 247.976059 L 2274.405286 248.815546 L 2275.804431 246.576914 L 2276.923747 245.177769 L 2277.763234 243.778624 L 2278.88255 237.342557 L 2279.722037 245.177769 L 2280.841353 246.017256 L 2281.960668 235.383754 L 2282.800155 229.787175 L 2283.919471 233.984609 L 2284.758958 229.787175 L 2285.878274 233.424951 L 2286.99759 235.943412 L 2288.116906 233.984609 L 2289.236222 228.38803 L 2291.474854 213.836922 L 2292.314341 225.58974 L 2293.153828 219.99316 L 2293.993315 211.59829 L 2294.832802 228.38803 L 2295.952118 217.19487 L 2297.071434 216.635212 L 2298.19075 218.594015 L 2299.310066 218.034357 L 2300.429382 217.754528 L 2301.268869 229.787175 L 2302.388185 230.626661 L 2303.507501 245.177769 L 2304.626817 262.806996 L 2306.58562 238.182044 L 2307.704936 243.778624 L 2308.824252 235.383754 L 2309.943568 232.585464 L 2310.783055 228.947688 L 2313.021687 254.971784 L 2313.861174 258.609561 L 2314.98049 243.778624 L 2316.099806 244.618111 L 2317.219122 244.338282 L 2318.338438 245.737427 L 2319.457754 243.778624 L 2320.57707 244.618111 L 2321.416557 235.383754 L 2322.535873 252.733152 L 2323.655188 235.383754 L 2324.494675 229.787175 L 2325.613991 232.585464 L 2326.733307 238.182044 L 2327.852623 231.186319 L 2328.971939 228.947688 L 2329.811426 227.828372 L 2330.650913 234.544267 L 2331.4904 251.613836 L 2332.329887 223.351108 L 2333.449203 224.190595 L 2334.568519 242.379479 L 2335.687835 236.782899 L 2336.807151 240.140847 L 2337.646638 246.576914 L 2338.765954 236.782899 L 2339.88527 231.186319 L 2341.004586 236.223241 L 2342.403731 237.342557 L 2343.523047 242.379479 L 2345.48185 262.806996 L 2346.601166 254.971784 L 2347.2 254.971784 L 2348.319316 250.774349 L 2349.438632 233.424951 L 2350.557948 249.375204 L 2351.677264 245.177769 L 2352.79658 246.576914 L 2353.636067 244.618111 L 2354.755383 242.379479 L 2355.874699 260.568364 L 2356.994015 259.169219 L 2357.833502 260.568364 L 2358.672989 250.774349 L 2359.792305 252.173494 L 2360.911621 250.214691 L 2362.030937 204.59417 L 2363.709911 247.976059 L 2364.549398 250.774349 L 2365.388885 241.819821 L 2366.508201 239.581189 L 2367.347688 228.38803 L 2368.467003 232.585464 L 2369.586319 242.379479 L 2370.425806 243.778624 L 2371.545122 253.012981 L 2372.384609 242.379479 L 2373.224096 252.173494 L 2374.063583 242.379479 L 2376.302215 239.581189 L 2377.141702 218.170074 L 2378.261018 184.166654 L 2379.380334 177.170929 L 2381.618966 165.977769 L 2382.738282 166.817256 L 2383.857598 163.179479 L 2384.976914 156.183754 L 2385.816401 142.192305 L 2386.655888 160.381189 L 2387.775204 164.578624 L 2388.89452 163.179479 L 2389.734007 156.183754 L 2390.853323 135.756238 L 2391.69281 153.385464 L 2392.532297 146.949398 L 2394.770929 164.578624 L 2395.330587 165.977769 L 2396.170074 143.031792 L 2397.28939 165.977769 L 2398.128877 175.771784 L 2398.968364 182.767509 L 2399.807851 205.153828 L 2400.647338 176.611271 L 2401.766654 203.754683 L 2402.88597 210.750408 L 2404.005286 212.709211 L 2404.564944 199.557248 L 2405.68426 196.1993 L 2406.803576 199.557248 L 2407.643063 239.021531 L 2408.762379 236.782899 L 2409.881695 200.956393 L 2411.00101 200.116906 L 2412.120326 213.548698 L 2413.239642 210.19075 L 2414.358958 214.947843 L 2415.478274 214.947843 L 2416.877419 230.626661 L 2418.836222 222.231792 L 2419.955538 228.38803 L 2421.074854 232.585464 L 2422.19417 226.988885 L 2423.593315 233.984609 L 2424.712631 235.943412 L 2426.391605 236.782899 L 2427.510921 228.38803 L 2429.189895 209.351263 L 2430.309211 212.149553 L 2430.868869 226.988885 L 2431.708356 242.379479 L 2432.827672 236.782899 L 2434.226817 232.585464 L 2435.346133 226.988885 L 2436.465449 224.190595 L 2437.584765 222.79145 L 2438.704081 228.947688 L 2440.103226 228.38803 L 2441.222542 226.988885 L 2442.341858 228.38803 L 2443.461174 226.149398 L 2444.860319 213.548698 L 2445.979635 205.713486 L 2447.098951 213.548698 L 2447.938438 224.190595 L 2449.057754 216.346988 L 2450.17707 216.906646 L 2451.016557 251.613836 L 2452.135873 225.58974 L 2453.255188 240.140847 L 2454.374504 243.778624 L 2455.49382 242.939137 L 2456.613136 236.782899 L 2457.732452 226.149398 L 2458.851768 222.231792 L 2460.530742 216.906646 L 2461.370229 232.585464 L 2462.489545 230.626661 L 2463.608861 233.424951 L 2465.008006 232.585464 L 2466.127322 234.544267 L 2467.526467 230.626661 L 2468.645783 219.145278 L 2469.765099 210.750408 L 2470.884415 221.943568 L 2472.003731 242.379479 L 2472.843218 243.778624 L 2473.962534 236.223241 L 2474.802021 243.778624 L 2477.040653 226.149398 L 2478.159969 227.828372 L 2479.279285 227.268714 L 2481.238088 213.548698 L 2482.357404 228.38803 L 2483.47672 224.190595 L 2484.596036 237.622386 L 2485.435523 229.787175 L 2486.27501 236.782899 L 2487.114497 230.626661 L 2488.233813 234.544267 L 2489.353129 240.980334 L 2490.192616 218.58562 L 2491.032103 219.145278 L 2492.190595 235.148698 L 2493.309911 242.144423 L 2494.149398 248.58049 L 2495.268714 232.350408 L 2496.108201 218.358958 L 2497.227517 221.157248 L 2498.346832 226.753828 L 2499.466148 246.341858 L 2500.305635 225.354683 L 2501.424951 251.938438 L 2502.544267 237.946988 L 2503.663583 240.745278 L 2504.50307 242.144423 L 2505.342557 230.111776 L 2506.461873 244.103226 L 2507.581189 246.901516 L 2508.700505 243.543568 L 2509.819821 238.506646 L 2510.939137 237.946988 L 2511.778624 226.19417 L 2512.89794 237.946988 L 2513.737427 230.951263 L 2514.576914 191.775204 L 2515.69623 177.783754 L 2516.815546 200.170074 L 2517.934862 192.614691 L 2519.054178 188.976914 L 2520.173494 187.577769 L 2521.012981 176.384609 L 2521.852468 202.968364 L 2522.971784 171.347688 L 2523.811271 179.182899 L 2524.650758 191.775204 L 2525.490245 190.376059 L 2526.329732 171.347688 L 2527.449048 201.569219 L 2528.568364 180.582044 L 2529.407851 209.964089 L 2530.527167 195.972639 L 2531.366654 180.582044 L 2532.48597 187.577769 L 2533.605286 201.009561 L 2534.724602 191.775204 L 2535.843918 191.215546 L 2536.683405 191.775204 L 2537.522892 201.569219 L 2538.642208 166.590595 L 2539.761524 193.174349 L 2540.880839 190.376059 L 2541.720326 167.98974 L 2542.839642 179.182899 L 2543.958958 208.564944 L 2545.917761 181.981189 L 2546.757248 174.985464 L 2547.876564 201.569219 L 2548.99588 218.358958 L 2550.115196 194.573494 L 2550.954683 207.165799 L 2551.79417 223.39588 L 2552.913486 222.556393 L 2555.152118 170.78803 L 2556.271434 212.762379 L 2557.39075 211.363234 L 2558.510066 197.371784 L 2559.349553 179.182899 L 2560.468869 201.569219 L 2561.588185 215.00101 L 2562.427672 187.577769 L 2563.267159 170.78803 L 2564.106646 170.78803 L 2565.505791 200.170074 L 2567.464594 160.154528 L 2568.58391 202.968364 L 2569.423397 191.775204 L 2570.542713 212.762379 L 2571.662029 187.577769 L 2572.501516 209.964089 L 2573.620832 205.766654 L 2574.740148 202.968364 L 2575.859464 198.770929 L 2576.698951 159.59487 L 2577.471279 79.728877 L 2579.709911 84.206141 L 2580.829227 84.765799 L 2582.508201 118.345278 L 2583.627517 118.904936 L 2584.746832 69.375204 L 2585.866148 114.147843 L 2586.985464 90.362379 L 2587.824951 69.375204 L 2588.944267 90.362379 L 2590.063583 90.922037 L 2591.182899 105.752973 L 2592.302215 108.551263 L 2593.421531 114.98733 L 2594.540847 90.362379 L 2595.660163 70.774349 L 2596.49965 47.828372 L 2597.339137 86.164944 L 2598.458453 77.770074 L 2599.577769 101.555538 L 2600.417256 95.958958 L 2602.655888 135.135017 L 2603.775204 109.950408 L 2604.89452 81.967509 L 2605.734007 73.572639 L 2606.573494 45.58974 L 2607.69281 38.594015 L 2608.812126 70.774349 L 2609.651613 76.930587 L 2610.4911 63.778624 L 2611.330587 70.774349 L 2613.009561 56.782899 L 2614.128877 79.169219 L 2615.248193 80.008706 L 2616.08768 72.173494 L 2617.206996 83.366654 L 2618.046483 60.980334 L 2619.165799 77.770074 L 2620.285115 88.963234 L 2621.404431 91.761524 L 2622.523747 91.761524 L 2623.363234 86.164944 L 2624.202721 98.757248 L 2625.322037 85.325457 L 2626.441353 109.950408 L 2627.560668 111.349553 L 2628.679984 111.349553 L 2629.7993 98.757248 L 2630.638787 101.555538 L 2631.758103 123.941858 L 2632.59759 89.802721 L 2633.716906 100.156393 L 2634.836222 100.156393 L 2635.955538 112.748698 L 2636.795025 116.946133 L 2637.634512 79.169219 L 2638.753828 93.160668 L 2639.873144 92.60101 L 2640.712631 69.375204 L 2641.831947 83.366654 L 2642.951263 80.568364 L 2643.79075 73.012981 L 2645.189895 72.173494 L 2646.309211 69.375204 L 2647.428527 68.535717 L 2648.268014 72.173494 L 2649.107501 95.958958 L 2650.226817 95.958958 L 2651.346133 95.3993 L 2652.18562 66.576914 L 2653.304936 102.954683 L 2654.424252 80.568364 L 2655.543568 112.18904 L 2656.662884 94.559813 L 2657.7822 92.60101 L 2658.621687 107.152118 L 2659.741003 74.971784 L 2660.58049 75.531442 L 2661.419977 111.349553 L 2662.539293 112.18904 L 2663.658609 108.551263 L 2664.777925 100.156393 L 2665.897241 100.99588 L 2667.016557 112.18904 L 2667.856044 105.752973 L 2668.695531 93.720326 L 2669.814846 97.358103 L 2670.934162 115.546988 L 2672.053478 129.538438 L 2672.892965 136.254333 L 2674.012281 121.143568 L 2675.131597 111.349553 L 2676.250913 107.991605 L 2677.370229 114.147843 L 2678.209716 100.99588 L 2679.329032 98.757248 L 2680.448348 91.761524 L 2681.287835 88.963234 L 2682.407151 95.958958 L 2684.365954 129.538438 L 2685.48527 88.963234 L 2686.604586 77.770074 L 2687.444073 76.370929 L 2688.28356 87.564089 L 2689.402876 86.164944 L 2690.522192 87.004431 L 2691.641508 97.358103 L 2692.780412 119.033657 L 2693.639487 85.582899 L 2694.758803 79.426661 L 2695.59829 85.582899 L 2696.717606 107.969219 L 2697.557093 121.40101 L 2699.515896 67.394015 L 2700.635212 91.179479 L 2701.754528 102.372639 L 2702.873844 112.166654 L 2703.713331 103.771784 L 2704.832647 110.767509 L 2705.672134 107.969219 L 2706.79145 130.915196 L 2707.630937 114.964944 L 2708.750253 117.763234 L 2709.869569 115.804431 L 2710.988885 130.355538 L 2712.108201 164.578624 L 2713.227517 164.578624 L 2714.067003 169.335717 L 2715.186319 149.943568 L 2716.025806 127.557248 L 2717.145122 158.338438 L 2717.984609 142.108356 L 2719.103925 144.346988 L 2720.223241 158.898096 L 2721.342557 138.750408 L 2722.461873 114.405286 L 2723.581189 138.750408 L 2724.700505 158.338438 L 2725.539992 159.737583 L 2726.659308 127.557248 L 2727.778624 112.166654 L 2728.618111 107.969219 L 2729.457598 141.548698 L 2730.576914 154.784609 L 2731.69623 179.969219 L 2732.815546 161.780334 L 2733.934862 173.812981 L 2735.054178 174.372639 L 2736.173494 182.207851 L 2737.012981 181.368364 L 2737.852468 168.776059 L 2738.971784 189.203576 L 2740.0911 194.520326 L 2740.930587 151.342713 L 2742.049903 154.141003 L 2743.169219 143.78733 L 2744.008706 177.730587 L 2744.848193 177.730587 L 2746.247338 141.548698 L 2747.366654 124.758958 L 2748.206141 108.528877 L 2749.045628 147.145278 L 2750.164944 152.741858 L 2751.28426 168.776059 L 2752.403576 179.409561 L 2753.522892 178.570074 L 2754.642208 168.776059 L 2755.481695 181.368364 L 2757.160668 151.342713 L 2758.279984 155.540148 L 2760.238787 136.511776 L 2761.358103 154.141003 L 2762.477419 144.346988 L 2763.316906 149.943568 L 2764.436222 124.1993 L 2765.555538 149.943568 L 2766.674854 135.952118 L 2767.79417 144.346988 L 2768.913486 138.750408 L 2770.032802 139.310066 L 2770.872289 148.544423 L 2771.991605 144.346988 L 2773.110921 169.615546 L 2774.230237 171.014691 L 2777.588185 121.960668 L 2778.147843 116.923747 L 2779.267159 137.351263 L 2781.225962 100.413836 L 2782.345278 107.969219 L 2783.464594 99.574349 L 2784.58391 89.780334 L 2785.423397 85.582899 L 2786.542713 110.767509 L 2787.3822 93.977769 L 2788.501516 74.38974 L 2789.341003 65.435212 L 2790.460319 67.394015 L 2791.299806 84.183754 L 2792.419122 93.977769 L 2793.538438 107.969219 L 2794.657754 114.405286 L 2795.497241 99.574349 L 2796.616557 105.730587 L 2797.735873 96.776059 L 2798.855188 91.179479 L 2799.974504 110.767509 L 2801.373649 130.355538 L 2802.772794 141.548698 L 2803.89211 144.346988 L 2804.731597 140.98904 L 2805.850913 170.734862 L 2807.809716 141.548698 L 2808.649203 136.511776 L 2809.768519 144.346988 L 2810.887835 121.40101 L 2811.727322 120.561524 L 2812.566809 161.696386 L 2813.686125 127.557248 L 2814.805441 121.40101 L 2815.924757 130.355538 L 2817.044073 121.960668 L 2818.163389 149.943568 L 2819.002876 163.739137 L 2820.122192 164.578624 L 2821.521337 158.982044 L 2822.640653 163.739137 L 2823.48014 151.986319 L 2824.599456 156.183754 L 2825.718772 158.982044 L 2826.838088 158.142557 L 2827.949602 163.179479 L 2827.949602 163.179479 " clip-path="url(#p3aabd8c10d)" style="fill: none; stroke: #1f77b4; stroke-width: 1.5; stroke-linecap: square"/> </g> <g id="patch_15"> <path d="M 1958.04 404.28 L 1958.04 21.96 " style="fill: none; stroke: #000000; stroke-width: 0.8; stroke-linejoin: miter; stroke-linecap: square"/> </g> <g id="patch_16"> <path d="M 2869.56 404.28 L 2869.56 21.96 " style="fill: none; stroke: #000000; stroke-width: 0.8; stroke-linejoin: miter; stroke-linecap: square"/> </g> <g id="patch_17"> <path d="M 1958.04 404.28 L 2869.56 404.28 " style="fill: none; stroke: #000000; stroke-width: 0.8; stroke-linejoin: miter; stroke-linecap: square"/> </g> <g id="patch_18"> <path d="M 1958.04 21.96 L 2869.56 21.96 " style="fill: none; stroke: #000000; stroke-width: 0.8; stroke-linejoin: miter; stroke-linecap: square"/> </g> </g> </g> <defs> <clipPath id="ped1eb4cb92"> <rect x="1012.68" y="21.96" width="911.52" height="382.32"/> </clipPath> <clipPath id="p3aabd8c10d"> <rect x="1958.04" y="21.96" width="911.52" height="382.32"/> </clipPath> </defs> </svg> </body></html>
